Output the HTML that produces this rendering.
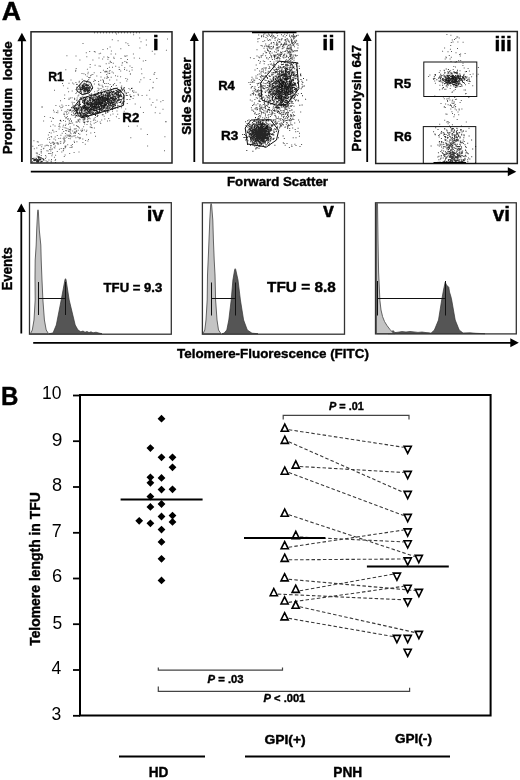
<!DOCTYPE html>
<html><head><meta charset="utf-8"><style>
html,body{margin:0;padding:0;background:#fff}
body{width:520px;height:780px;overflow:hidden;position:relative}
svg{position:absolute;left:0;top:0;display:block;filter:grayscale(1)}
</style></head><body>
<svg width="520" height="780" viewBox="0 0 520 780">
<rect width="520" height="780" fill="#fff"/>
<rect x="31" y="31.8" width="141" height="131.2" fill="none" stroke="#222" stroke-width="1.5"/>
<rect x="203" y="31.5" width="141.5" height="131.5" fill="none" stroke="#222" stroke-width="1.5"/>
<rect x="375.7" y="31.5" width="141.59999999999997" height="132.0" fill="none" stroke="#222" stroke-width="1.5"/>
<path d="M101.0 105.0h1v1h-1zM102.8 98.7h1v1h-1zM94.7 99.3h1v1h-1zM87.6 103.9h1v1h-1zM96.6 110.4h1v1h-1zM87.9 108.4h1v1h-1zM102.6 106.7h1v1h-1zM116.0 93.9h1v1h-1zM95.3 108.6h1v1h-1zM91.3 103.3h1v1h-1zM105.9 99.4h1v1h-1zM108.4 110.4h1v1h-1zM102.5 105.0h1v1h-1zM87.6 105.3h1v1h-1zM99.5 102.3h1v1h-1zM109.2 100.3h1v1h-1zM85.1 114.0h1v1h-1zM93.5 102.9h1v1h-1zM73.5 105.3h1v1h-1zM83.4 107.9h1v1h-1zM77.0 111.9h1v1h-1zM97.2 104.1h1v1h-1zM86.2 114.0h1v1h-1zM103.9 102.4h1v1h-1zM103.2 104.9h1v1h-1zM95.9 99.2h1v1h-1zM69.9 118.6h1v1h-1zM96.6 113.4h1v1h-1zM100.6 105.8h1v1h-1zM101.8 102.9h1v1h-1zM81.1 110.8h1v1h-1zM96.8 111.9h1v1h-1zM86.3 103.8h1v1h-1zM89.7 106.2h1v1h-1zM114.0 98.9h1v1h-1zM91.1 109.5h1v1h-1zM98.9 101.0h1v1h-1zM111.6 99.2h1v1h-1zM92.3 104.4h1v1h-1zM98.8 103.5h1v1h-1zM101.2 101.4h1v1h-1zM99.0 97.7h1v1h-1zM84.6 108.6h1v1h-1zM102.3 105.5h1v1h-1zM115.5 91.9h1v1h-1zM80.3 109.4h1v1h-1zM111.8 100.7h1v1h-1zM99.8 97.7h1v1h-1zM92.3 106.5h1v1h-1zM123.4 88.3h1v1h-1zM111.3 103.1h1v1h-1zM88.6 117.6h1v1h-1zM104.1 110.0h1v1h-1zM106.9 98.7h1v1h-1zM98.8 106.3h1v1h-1zM108.7 99.5h1v1h-1zM99.3 103.2h1v1h-1zM110.8 105.2h1v1h-1zM115.9 90.1h1v1h-1zM93.2 110.0h1v1h-1zM102.5 101.3h1v1h-1zM96.4 110.3h1v1h-1zM101.9 102.6h1v1h-1zM84.1 105.9h1v1h-1zM93.2 106.5h1v1h-1zM98.7 106.4h1v1h-1zM111.3 98.1h1v1h-1zM115.1 98.6h1v1h-1zM82.6 107.2h1v1h-1zM86.7 98.2h1v1h-1zM109.5 102.7h1v1h-1zM76.2 115.3h1v1h-1zM94.4 105.4h1v1h-1zM98.9 103.3h1v1h-1zM117.4 100.2h1v1h-1zM107.9 97.2h1v1h-1zM94.8 101.4h1v1h-1zM95.1 103.6h1v1h-1zM98.7 108.4h1v1h-1zM116.9 89.4h1v1h-1zM96.5 109.3h1v1h-1zM95.2 101.5h1v1h-1zM102.7 96.4h1v1h-1zM100.5 108.0h1v1h-1zM97.4 103.1h1v1h-1zM84.0 103.1h1v1h-1zM99.3 101.2h1v1h-1zM95.9 108.4h1v1h-1zM116.5 101.2h1v1h-1zM107.5 97.5h1v1h-1zM100.3 104.2h1v1h-1zM109.5 101.9h1v1h-1zM94.7 101.7h1v1h-1zM113.7 98.6h1v1h-1zM99.9 102.4h1v1h-1zM106.5 97.5h1v1h-1zM83.1 107.1h1v1h-1zM104.4 101.0h1v1h-1zM78.9 111.2h1v1h-1zM73.6 110.6h1v1h-1zM95.5 102.4h1v1h-1zM90.5 111.4h1v1h-1zM102.4 102.5h1v1h-1zM129.5 94.6h1v1h-1zM91.5 111.4h1v1h-1zM93.1 107.9h1v1h-1zM106.1 110.3h1v1h-1zM104.9 96.8h1v1h-1zM99.1 106.5h1v1h-1zM96.9 102.3h1v1h-1zM111.7 106.2h1v1h-1zM109.2 106.5h1v1h-1zM84.0 100.1h1v1h-1zM97.5 99.1h1v1h-1zM101.5 104.9h1v1h-1zM88.0 110.9h1v1h-1zM104.4 104.1h1v1h-1zM89.1 106.6h1v1h-1zM112.9 99.4h1v1h-1zM103.4 104.1h1v1h-1zM101.0 101.7h1v1h-1zM94.2 109.5h1v1h-1zM95.0 94.3h1v1h-1zM76.0 115.1h1v1h-1zM84.2 104.2h1v1h-1zM106.0 104.4h1v1h-1zM73.0 112.4h1v1h-1zM109.2 94.8h1v1h-1zM78.7 112.8h1v1h-1zM108.0 95.1h1v1h-1zM88.0 103.2h1v1h-1zM107.3 92.5h1v1h-1zM101.6 101.7h1v1h-1zM81.5 112.2h1v1h-1zM117.2 100.2h1v1h-1zM117.8 94.7h1v1h-1zM100.8 106.9h1v1h-1zM96.6 104.0h1v1h-1zM97.9 102.9h1v1h-1zM88.7 109.7h1v1h-1zM115.4 101.1h1v1h-1zM92.7 103.9h1v1h-1zM99.0 101.8h1v1h-1zM89.8 105.9h1v1h-1zM92.3 106.0h1v1h-1zM82.6 105.5h1v1h-1zM117.4 100.1h1v1h-1zM97.4 101.7h1v1h-1zM112.8 99.4h1v1h-1zM98.9 99.2h1v1h-1zM91.9 107.4h1v1h-1zM96.5 105.7h1v1h-1zM92.3 103.7h1v1h-1zM103.3 110.3h1v1h-1zM95.9 105.8h1v1h-1zM99.0 110.9h1v1h-1zM84.3 113.2h1v1h-1zM88.9 104.0h1v1h-1zM120.1 92.6h1v1h-1zM92.3 107.6h1v1h-1zM86.9 108.1h1v1h-1zM104.3 101.0h1v1h-1zM117.2 94.3h1v1h-1zM79.0 102.8h1v1h-1zM97.0 102.7h1v1h-1zM88.6 97.1h1v1h-1zM78.5 112.9h1v1h-1zM108.1 96.0h1v1h-1zM98.6 99.8h1v1h-1zM100.5 101.3h1v1h-1zM91.0 107.4h1v1h-1zM103.4 94.6h1v1h-1zM90.5 98.4h1v1h-1zM96.5 99.1h1v1h-1zM82.9 100.2h1v1h-1zM83.3 104.9h1v1h-1zM119.2 101.9h1v1h-1zM92.0 100.9h1v1h-1zM104.7 103.6h1v1h-1zM97.4 97.3h1v1h-1zM94.9 105.9h1v1h-1zM93.1 103.8h1v1h-1zM107.8 99.1h1v1h-1zM97.1 106.2h1v1h-1zM100.9 110.1h1v1h-1zM100.6 103.1h1v1h-1zM114.9 97.0h1v1h-1zM107.0 95.3h1v1h-1zM105.7 102.8h1v1h-1zM92.6 104.4h1v1h-1zM84.0 112.7h1v1h-1zM111.8 97.5h1v1h-1zM114.8 104.4h1v1h-1zM95.1 95.5h1v1h-1zM106.3 98.6h1v1h-1zM111.2 102.0h1v1h-1zM109.9 96.9h1v1h-1zM110.3 94.8h1v1h-1zM93.9 103.8h1v1h-1zM116.8 89.5h1v1h-1zM84.6 109.3h1v1h-1zM114.6 107.6h1v1h-1zM108.0 104.5h1v1h-1zM109.2 93.8h1v1h-1zM122.1 89.6h1v1h-1zM117.9 93.4h1v1h-1zM87.2 112.2h1v1h-1zM77.6 107.8h1v1h-1zM109.1 95.7h1v1h-1zM88.7 111.1h1v1h-1zM101.2 105.9h1v1h-1zM109.9 96.8h1v1h-1zM77.7 106.5h1v1h-1zM71.2 107.1h1v1h-1zM102.1 98.5h1v1h-1zM97.0 93.6h1v1h-1zM98.1 106.7h1v1h-1zM99.5 99.9h1v1h-1zM90.0 108.7h1v1h-1zM84.0 117.4h1v1h-1zM99.8 107.9h1v1h-1zM86.0 102.9h1v1h-1zM80.8 114.2h1v1h-1zM108.2 104.5h1v1h-1zM98.1 99.9h1v1h-1zM103.6 96.7h1v1h-1zM87.4 107.1h1v1h-1zM89.2 99.6h1v1h-1zM89.8 113.3h1v1h-1zM85.1 97.6h1v1h-1zM100.7 97.2h1v1h-1zM89.8 105.4h1v1h-1zM104.1 99.8h1v1h-1zM104.5 101.4h1v1h-1zM125.8 93.3h1v1h-1zM82.2 108.7h1v1h-1zM112.9 102.4h1v1h-1zM95.5 94.6h1v1h-1zM99.8 102.6h1v1h-1zM80.7 107.0h1v1h-1zM94.4 105.3h1v1h-1zM109.6 99.6h1v1h-1zM97.5 99.4h1v1h-1zM100.0 99.6h1v1h-1zM97.6 107.1h1v1h-1zM115.0 98.0h1v1h-1zM98.7 100.0h1v1h-1zM75.7 121.6h1v1h-1zM95.0 115.0h1v1h-1zM73.1 106.8h1v1h-1zM59.8 120.1h1v1h-1zM97.3 115.0h1v1h-1zM117.9 98.8h1v1h-1zM100.9 103.1h1v1h-1zM85.0 107.6h1v1h-1zM87.4 105.1h1v1h-1zM113.8 96.0h1v1h-1zM101.1 99.6h1v1h-1zM101.8 105.2h1v1h-1zM98.7 101.2h1v1h-1zM99.8 100.6h1v1h-1zM108.2 93.7h1v1h-1zM106.8 99.5h1v1h-1zM101.3 97.9h1v1h-1zM86.7 107.1h1v1h-1zM108.0 104.0h1v1h-1zM92.0 107.4h1v1h-1zM114.5 98.9h1v1h-1zM84.7 110.3h1v1h-1zM98.4 103.4h1v1h-1zM99.7 102.0h1v1h-1zM82.9 108.0h1v1h-1zM122.7 96.7h1v1h-1zM116.6 90.9h1v1h-1zM96.3 110.1h1v1h-1zM109.7 98.7h1v1h-1zM103.6 97.7h1v1h-1zM66.5 113.8h1v1h-1zM102.1 98.6h1v1h-1zM99.5 103.4h1v1h-1zM99.9 99.3h1v1h-1zM88.3 112.4h1v1h-1zM95.4 100.8h1v1h-1zM94.2 94.6h1v1h-1zM113.7 93.6h1v1h-1zM101.0 93.0h1v1h-1zM99.9 102.4h1v1h-1zM120.8 98.9h1v1h-1zM94.1 107.8h1v1h-1zM93.0 99.3h1v1h-1zM76.1 108.7h1v1h-1zM122.4 101.5h1v1h-1zM112.6 98.9h1v1h-1zM111.5 97.9h1v1h-1zM110.0 103.2h1v1h-1zM105.2 111.5h1v1h-1zM104.7 106.5h1v1h-1zM97.1 104.3h1v1h-1zM98.0 104.9h1v1h-1zM101.7 104.6h1v1h-1zM118.0 92.5h1v1h-1zM105.3 95.6h1v1h-1zM99.4 103.0h1v1h-1zM91.3 101.7h1v1h-1zM92.0 105.5h1v1h-1zM120.2 94.8h1v1h-1zM110.0 109.1h1v1h-1zM99.5 98.8h1v1h-1zM95.5 103.8h1v1h-1zM85.9 107.5h1v1h-1zM99.9 104.5h1v1h-1zM112.6 102.2h1v1h-1zM94.3 102.6h1v1h-1zM95.9 100.5h1v1h-1zM94.7 97.2h1v1h-1zM99.9 98.3h1v1h-1zM80.9 112.6h1v1h-1zM97.1 103.9h1v1h-1zM87.7 102.9h1v1h-1zM110.5 96.6h1v1h-1zM90.4 106.5h1v1h-1zM108.0 101.5h1v1h-1zM118.1 92.5h1v1h-1zM95.7 103.1h1v1h-1zM89.6 98.5h1v1h-1zM100.6 97.0h1v1h-1zM102.5 108.8h1v1h-1zM84.1 99.0h1v1h-1zM105.2 98.9h1v1h-1zM125.6 93.2h1v1h-1zM96.2 102.3h1v1h-1zM96.2 100.4h1v1h-1zM86.8 107.5h1v1h-1zM104.0 100.9h1v1h-1zM84.3 108.5h1v1h-1zM83.2 100.8h1v1h-1zM115.8 95.5h1v1h-1zM87.3 103.7h1v1h-1zM112.7 94.9h1v1h-1zM119.4 95.7h1v1h-1zM104.3 103.7h1v1h-1zM108.3 103.2h1v1h-1zM123.7 90.7h1v1h-1zM99.0 107.1h1v1h-1zM94.4 110.1h1v1h-1zM84.8 113.8h1v1h-1zM102.7 107.7h1v1h-1zM118.3 94.5h1v1h-1zM111.7 97.0h1v1h-1zM89.5 110.5h1v1h-1zM87.1 101.5h1v1h-1zM94.0 105.9h1v1h-1zM102.8 99.0h1v1h-1zM96.8 102.1h1v1h-1zM99.9 94.6h1v1h-1zM102.3 97.5h1v1h-1zM96.2 103.9h1v1h-1zM100.9 106.2h1v1h-1zM104.1 105.3h1v1h-1zM98.8 102.6h1v1h-1zM106.0 99.2h1v1h-1zM122.1 89.8h1v1h-1zM108.0 101.1h1v1h-1zM100.3 101.3h1v1h-1zM79.8 113.4h1v1h-1zM107.6 107.4h1v1h-1zM75.6 112.2h1v1h-1zM80.0 103.8h1v1h-1zM109.3 94.8h1v1h-1zM106.5 93.3h1v1h-1zM96.2 98.6h1v1h-1zM80.6 116.2h1v1h-1zM95.7 105.3h1v1h-1zM89.1 100.0h1v1h-1zM109.0 101.8h1v1h-1zM130.2 96.0h1v1h-1zM102.1 100.0h1v1h-1zM89.2 103.8h1v1h-1zM84.8 107.1h1v1h-1zM99.7 103.9h1v1h-1zM98.8 105.9h1v1h-1zM87.4 112.9h1v1h-1zM103.4 106.6h1v1h-1zM87.5 112.9h1v1h-1zM116.1 102.2h1v1h-1zM114.3 99.7h1v1h-1zM111.2 91.1h1v1h-1zM93.9 104.4h1v1h-1zM106.9 101.1h1v1h-1zM97.7 101.7h1v1h-1zM96.6 108.0h1v1h-1zM95.2 102.8h1v1h-1zM82.3 105.5h1v1h-1zM84.2 115.4h1v1h-1zM111.0 101.1h1v1h-1zM98.0 104.3h1v1h-1zM104.2 105.0h1v1h-1zM114.2 101.6h1v1h-1zM78.8 112.6h1v1h-1zM86.3 96.9h1v1h-1zM101.1 99.0h1v1h-1zM104.2 98.7h1v1h-1zM93.7 100.6h1v1h-1zM113.2 98.1h1v1h-1zM104.5 106.1h1v1h-1zM84.0 106.7h1v1h-1zM86.6 102.8h1v1h-1zM113.3 106.3h1v1h-1zM105.1 98.4h1v1h-1zM74.3 107.3h1v1h-1zM117.2 96.6h1v1h-1zM108.2 101.1h1v1h-1zM115.7 93.0h1v1h-1zM96.4 107.5h1v1h-1zM95.5 102.1h1v1h-1zM84.4 104.6h1v1h-1zM132.0 90.4h1v1h-1zM99.0 106.4h1v1h-1zM118.9 92.0h1v1h-1zM92.4 107.1h1v1h-1zM101.9 101.3h1v1h-1zM83.5 122.0h1v1h-1zM94.1 101.7h1v1h-1zM114.5 102.9h1v1h-1zM84.2 108.6h1v1h-1zM113.2 96.6h1v1h-1zM105.4 103.6h1v1h-1zM88.3 111.3h1v1h-1zM95.7 110.0h1v1h-1zM94.8 106.1h1v1h-1zM98.4 100.4h1v1h-1zM92.4 103.1h1v1h-1zM90.4 108.7h1v1h-1zM97.1 106.3h1v1h-1zM89.3 113.1h1v1h-1zM84.5 110.7h1v1h-1zM101.1 106.9h1v1h-1zM113.4 103.9h1v1h-1zM81.1 110.9h1v1h-1zM97.7 96.7h1v1h-1zM90.0 101.2h1v1h-1zM85.5 101.8h1v1h-1zM113.2 104.4h1v1h-1zM92.2 101.8h1v1h-1zM120.7 99.7h1v1h-1zM91.2 108.7h1v1h-1zM107.5 107.2h1v1h-1zM98.7 107.6h1v1h-1zM90.4 105.9h1v1h-1zM107.0 98.7h1v1h-1zM98.2 103.6h1v1h-1zM107.8 100.1h1v1h-1zM98.6 100.7h1v1h-1zM86.4 107.9h1v1h-1zM101.3 109.3h1v1h-1zM98.0 95.6h1v1h-1zM112.4 98.7h1v1h-1zM87.2 103.6h1v1h-1zM99.8 103.4h1v1h-1zM79.8 114.5h1v1h-1zM108.1 99.0h1v1h-1zM87.7 111.0h1v1h-1zM74.9 105.4h1v1h-1zM101.0 107.1h1v1h-1zM112.9 94.6h1v1h-1zM81.9 112.6h1v1h-1zM86.7 108.7h1v1h-1zM86.6 96.2h1v1h-1zM84.7 105.3h1v1h-1zM105.1 101.4h1v1h-1zM92.3 112.6h1v1h-1zM91.4 107.3h1v1h-1zM107.7 100.6h1v1h-1zM88.3 100.8h1v1h-1zM107.7 105.9h1v1h-1zM90.7 114.4h1v1h-1zM84.9 108.7h1v1h-1zM76.7 110.9h1v1h-1zM120.7 86.8h1v1h-1zM97.4 107.6h1v1h-1zM107.3 111.8h1v1h-1zM100.7 105.4h1v1h-1zM104.0 106.6h1v1h-1zM101.5 104.4h1v1h-1zM122.3 89.0h1v1h-1zM89.1 113.0h1v1h-1zM78.6 105.6h1v1h-1zM87.0 106.8h1v1h-1zM83.7 110.3h1v1h-1zM110.7 102.2h1v1h-1zM110.9 100.0h1v1h-1zM88.6 108.9h1v1h-1zM81.4 106.6h1v1h-1zM93.5 99.3h1v1h-1zM117.5 95.7h1v1h-1zM63.6 114.0h1v1h-1zM104.5 94.7h1v1h-1zM84.5 103.0h1v1h-1zM112.3 95.3h1v1h-1zM83.6 100.7h1v1h-1zM94.3 98.7h1v1h-1zM78.6 103.8h1v1h-1zM88.1 108.2h1v1h-1zM118.0 97.1h1v1h-1zM113.4 106.2h1v1h-1zM92.6 98.7h1v1h-1zM88.0 104.3h1v1h-1zM77.7 115.6h1v1h-1zM94.7 103.6h1v1h-1zM99.1 101.4h1v1h-1zM101.6 109.6h1v1h-1zM98.3 101.7h1v1h-1zM84.1 103.7h1v1h-1zM97.1 97.7h1v1h-1zM100.0 104.0h1v1h-1zM116.6 97.2h1v1h-1zM121.2 87.7h1v1h-1zM96.7 99.4h1v1h-1zM91.2 108.5h1v1h-1zM100.1 105.1h1v1h-1zM91.4 103.1h1v1h-1zM91.7 108.7h1v1h-1zM100.2 105.0h1v1h-1zM84.1 100.8h1v1h-1zM107.1 98.2h1v1h-1zM99.4 104.6h1v1h-1zM102.2 99.0h1v1h-1zM94.3 95.1h1v1h-1zM90.5 105.1h1v1h-1zM89.3 110.2h1v1h-1zM99.5 109.9h1v1h-1zM89.7 96.7h1v1h-1zM107.0 111.5h1v1h-1zM98.2 98.1h1v1h-1zM84.5 113.1h1v1h-1zM102.8 107.0h1v1h-1zM84.7 113.1h1v1h-1zM92.5 106.2h1v1h-1zM94.5 99.5h1v1h-1zM75.0 115.4h1v1h-1zM100.0 99.3h1v1h-1zM97.9 91.9h1v1h-1zM102.5 114.3h1v1h-1zM95.8 107.4h1v1h-1zM98.2 111.5h1v1h-1zM86.3 103.9h1v1h-1zM98.9 109.6h1v1h-1zM95.6 111.5h1v1h-1zM103.6 108.1h1v1h-1zM84.9 108.5h1v1h-1zM101.1 96.6h1v1h-1zM101.5 101.1h1v1h-1zM94.8 94.6h1v1h-1zM91.8 98.1h1v1h-1zM107.1 100.1h1v1h-1zM77.6 107.1h1v1h-1zM105.5 99.5h1v1h-1zM102.9 100.8h1v1h-1zM106.6 108.6h1v1h-1zM106.8 105.6h1v1h-1zM91.7 105.6h1v1h-1zM98.7 108.5h1v1h-1zM106.7 96.2h1v1h-1zM104.9 99.0h1v1h-1zM104.0 105.0h1v1h-1zM79.1 105.3h1v1h-1zM106.3 98.7h1v1h-1zM112.6 91.4h1v1h-1zM112.8 97.9h1v1h-1zM105.5 107.7h1v1h-1zM79.3 107.4h1v1h-1zM112.2 98.6h1v1h-1zM96.7 99.8h1v1h-1zM66.5 110.8h1v1h-1zM102.8 95.8h1v1h-1zM83.6 115.7h1v1h-1zM87.5 118.3h1v1h-1zM92.8 107.6h1v1h-1zM114.8 93.3h1v1h-1zM96.5 107.1h1v1h-1zM102.9 99.8h1v1h-1zM123.1 96.8h1v1h-1zM120.4 95.6h1v1h-1zM99.1 104.1h1v1h-1zM97.9 106.1h1v1h-1zM83.3 106.6h1v1h-1zM90.7 104.4h1v1h-1zM102.6 93.6h1v1h-1zM104.3 98.8h1v1h-1zM99.1 96.4h1v1h-1zM112.2 96.9h1v1h-1zM88.8 102.7h1v1h-1zM99.5 103.2h1v1h-1zM109.9 100.6h1v1h-1zM105.1 94.0h1v1h-1zM112.1 93.9h1v1h-1zM103.5 96.8h1v1h-1zM97.3 107.0h1v1h-1zM107.2 107.3h1v1h-1zM88.8 110.9h1v1h-1zM78.9 109.4h1v1h-1zM109.6 105.3h1v1h-1zM96.9 96.9h1v1h-1zM106.2 106.8h1v1h-1zM77.7 108.5h1v1h-1zM91.1 93.5h1v1h-1zM96.7 115.9h1v1h-1zM91.7 113.0h1v1h-1zM70.2 109.9h1v1h-1zM96.1 104.9h1v1h-1zM110.9 97.1h1v1h-1zM104.9 101.0h1v1h-1zM90.1 99.8h1v1h-1zM98.7 99.9h1v1h-1zM110.2 100.5h1v1h-1zM65.8 117.3h1v1h-1zM100.3 107.8h1v1h-1zM106.9 100.1h1v1h-1zM112.2 108.2h1v1h-1zM120.2 91.1h1v1h-1zM114.6 97.8h1v1h-1zM100.9 93.5h1v1h-1zM101.8 96.1h1v1h-1zM111.9 103.7h1v1h-1zM91.8 101.6h1v1h-1zM100.3 104.8h1v1h-1zM111.2 97.7h1v1h-1zM122.9 88.5h1v1h-1zM97.5 101.9h1v1h-1zM98.6 100.7h1v1h-1zM101.7 99.6h1v1h-1zM118.0 98.6h1v1h-1zM100.6 105.2h1v1h-1zM117.5 92.8h1v1h-1zM86.5 103.9h1v1h-1zM98.1 104.5h1v1h-1zM97.4 103.1h1v1h-1zM111.5 102.5h1v1h-1zM117.3 107.6h1v1h-1zM82.4 113.4h1v1h-1zM88.5 107.0h1v1h-1zM103.9 100.1h1v1h-1zM90.4 102.5h1v1h-1zM79.5 106.7h1v1h-1zM111.4 93.3h1v1h-1zM105.6 98.5h1v1h-1zM105.5 98.3h1v1h-1zM95.2 107.8h1v1h-1zM112.3 95.7h1v1h-1zM96.7 102.9h1v1h-1zM111.8 92.2h1v1h-1zM91.2 113.5h1v1h-1zM90.1 108.8h1v1h-1zM105.4 108.4h1v1h-1zM92.5 109.2h1v1h-1zM110.8 104.9h1v1h-1zM102.9 100.2h1v1h-1zM89.6 110.0h1v1h-1zM105.2 112.7h1v1h-1zM93.7 99.5h1v1h-1zM113.3 102.4h1v1h-1zM94.8 112.3h1v1h-1zM95.2 106.4h1v1h-1zM116.4 99.4h1v1h-1zM130.0 96.2h1v1h-1zM124.0 89.8h1v1h-1zM101.4 103.8h1v1h-1zM101.3 97.9h1v1h-1zM118.1 92.1h1v1h-1zM97.4 100.7h1v1h-1zM87.5 106.9h1v1h-1zM101.7 102.5h1v1h-1zM106.4 102.0h1v1h-1zM87.3 101.0h1v1h-1zM82.6 118.7h1v1h-1zM83.9 114.4h1v1h-1zM109.5 102.0h1v1h-1zM89.9 104.9h1v1h-1zM98.1 102.9h1v1h-1zM103.5 103.6h1v1h-1zM108.4 101.0h1v1h-1zM93.1 97.5h1v1h-1zM107.4 102.9h1v1h-1zM93.6 118.6h1v1h-1zM92.5 97.0h1v1h-1zM88.8 111.7h1v1h-1zM114.8 98.3h1v1h-1zM99.5 102.2h1v1h-1zM93.0 111.7h1v1h-1zM93.7 99.6h1v1h-1zM97.5 104.3h1v1h-1zM111.1 104.8h1v1h-1zM79.7 109.8h1v1h-1zM86.3 106.1h1v1h-1zM95.5 104.9h1v1h-1zM131.0 87.9h1v1h-1zM114.5 103.9h1v1h-1zM97.1 99.4h1v1h-1zM110.3 102.4h1v1h-1zM123.7 87.1h1v1h-1zM98.2 106.4h1v1h-1zM95.2 103.9h1v1h-1zM111.0 86.0h1v1h-1zM106.2 100.0h1v1h-1zM106.7 94.8h1v1h-1zM92.9 103.3h1v1h-1zM126.6 98.9h1v1h-1zM119.6 89.4h1v1h-1zM105.4 95.4h1v1h-1zM110.9 104.8h1v1h-1zM74.8 113.2h1v1h-1zM110.5 105.4h1v1h-1zM98.1 104.8h1v1h-1zM104.0 96.8h1v1h-1zM108.4 98.8h1v1h-1zM97.7 109.1h1v1h-1zM80.4 114.8h1v1h-1zM104.6 100.6h1v1h-1zM90.8 106.4h1v1h-1zM95.7 103.7h1v1h-1zM91.5 103.2h1v1h-1zM98.8 112.0h1v1h-1zM71.1 114.2h1v1h-1zM113.4 91.8h1v1h-1zM102.4 99.3h1v1h-1zM115.1 99.8h1v1h-1zM125.8 95.1h1v1h-1zM100.1 101.8h1v1h-1zM76.4 108.9h1v1h-1zM88.8 107.1h1v1h-1zM82.2 101.9h1v1h-1zM91.6 99.8h1v1h-1zM102.3 105.3h1v1h-1zM74.2 110.7h1v1h-1zM104.9 102.3h1v1h-1zM83.1 115.0h1v1h-1zM104.8 103.6h1v1h-1zM98.7 103.1h1v1h-1zM99.5 112.6h1v1h-1zM100.2 105.5h1v1h-1zM92.7 103.8h1v1h-1zM93.5 108.5h1v1h-1zM79.6 112.6h1v1h-1zM98.2 99.2h1v1h-1zM123.2 93.5h1v1h-1zM124.5 91.8h1v1h-1zM113.4 87.9h1v1h-1zM108.6 98.2h1v1h-1zM91.1 104.8h1v1h-1zM117.3 93.4h1v1h-1zM96.6 96.2h1v1h-1zM98.6 101.4h1v1h-1zM96.3 103.8h1v1h-1zM101.3 102.4h1v1h-1zM92.7 100.2h1v1h-1zM100.0 105.5h1v1h-1zM84.5 103.1h1v1h-1zM95.0 103.5h1v1h-1zM130.7 96.2h1v1h-1zM98.0 100.1h1v1h-1zM96.2 101.7h1v1h-1zM108.4 104.1h1v1h-1zM108.2 97.4h1v1h-1zM85.6 106.9h1v1h-1zM97.8 104.4h1v1h-1zM113.2 102.1h1v1h-1zM99.8 92.3h1v1h-1zM100.2 98.6h1v1h-1zM117.8 90.6h1v1h-1zM89.8 101.6h1v1h-1zM99.7 98.7h1v1h-1zM92.1 101.8h1v1h-1zM119.1 96.2h1v1h-1zM74.1 108.8h1v1h-1zM91.8 106.4h1v1h-1zM94.0 106.8h1v1h-1zM107.1 96.2h1v1h-1zM107.8 100.0h1v1h-1zM120.1 102.0h1v1h-1zM80.8 111.7h1v1h-1zM108.4 96.2h1v1h-1zM96.2 103.7h1v1h-1zM90.2 102.2h1v1h-1zM107.2 100.9h1v1h-1zM89.9 110.6h1v1h-1zM72.7 109.7h1v1h-1zM95.0 103.5h1v1h-1zM83.0 114.5h1v1h-1zM91.1 103.8h1v1h-1zM105.0 101.4h1v1h-1zM102.3 96.8h1v1h-1zM118.5 91.2h1v1h-1zM96.7 101.5h1v1h-1zM84.2 118.7h1v1h-1zM89.9 104.7h1v1h-1zM87.7 105.1h1v1h-1zM83.9 106.5h1v1h-1zM105.2 99.7h1v1h-1zM93.0 108.3h1v1h-1zM75.5 113.2h1v1h-1zM112.0 107.0h1v1h-1zM98.9 103.9h1v1h-1zM106.7 106.3h1v1h-1zM101.8 103.0h1v1h-1zM108.9 101.7h1v1h-1zM98.2 96.7h1v1h-1zM115.3 95.8h1v1h-1zM105.2 100.1h1v1h-1zM104.5 99.6h1v1h-1zM101.7 92.0h1v1h-1zM83.2 113.3h1v1h-1zM97.3 101.8h1v1h-1zM96.1 102.1h1v1h-1zM102.2 100.5h1v1h-1zM82.6 108.5h1v1h-1zM121.1 95.8h1v1h-1zM99.3 97.0h1v1h-1zM83.4 105.0h1v1h-1zM79.1 112.3h1v1h-1zM96.7 104.5h1v1h-1zM98.3 101.5h1v1h-1zM90.1 103.9h1v1h-1zM99.8 98.8h1v1h-1zM91.9 105.5h1v1h-1zM108.8 104.3h1v1h-1zM89.3 102.0h1v1h-1zM101.9 108.6h1v1h-1zM113.6 100.8h1v1h-1zM131.5 87.7h1v1h-1zM88.6 110.6h1v1h-1zM91.9 99.1h1v1h-1zM86.8 100.0h1v1h-1zM107.8 93.5h1v1h-1zM85.0 106.7h1v1h-1zM93.4 103.7h1v1h-1zM98.8 100.6h1v1h-1zM87.9 107.8h1v1h-1zM84.7 99.0h1v1h-1zM94.8 106.8h1v1h-1zM71.5 107.6h1v1h-1zM80.9 107.2h1v1h-1zM94.2 103.0h1v1h-1zM100.0 97.2h1v1h-1zM95.5 98.1h1v1h-1zM76.2 107.6h1v1h-1zM94.2 104.8h1v1h-1zM110.9 100.8h1v1h-1zM107.8 101.9h1v1h-1zM97.4 99.0h1v1h-1zM87.6 103.9h1v1h-1zM106.6 97.3h1v1h-1zM92.7 112.9h1v1h-1zM80.7 99.0h1v1h-1zM104.4 97.7h1v1h-1zM121.5 103.1h1v1h-1zM117.3 91.6h1v1h-1zM102.0 102.9h1v1h-1zM98.3 106.1h1v1h-1zM101.9 100.9h1v1h-1zM98.0 95.4h1v1h-1zM79.7 103.9h1v1h-1zM93.9 105.3h1v1h-1zM111.0 90.8h1v1h-1zM108.7 91.8h1v1h-1zM108.8 108.1h1v1h-1zM104.0 100.1h1v1h-1zM95.3 98.8h1v1h-1zM109.3 93.4h1v1h-1zM81.0 98.6h1v1h-1zM102.6 106.6h1v1h-1zM116.0 98.1h1v1h-1zM113.1 100.6h1v1h-1zM94.5 104.0h1v1h-1zM84.7 100.2h1v1h-1zM86.9 110.4h1v1h-1zM93.1 102.6h1v1h-1zM119.8 90.3h1v1h-1zM84.4 103.9h1v1h-1zM123.6 100.9h1v1h-1zM112.3 91.6h1v1h-1zM85.4 115.1h1v1h-1zM95.6 103.2h1v1h-1zM116.9 94.4h1v1h-1zM101.6 105.0h1v1h-1zM87.1 107.2h1v1h-1zM110.0 103.8h1v1h-1zM105.2 98.1h1v1h-1zM121.4 103.7h1v1h-1zM103.3 105.7h1v1h-1zM93.5 109.2h1v1h-1zM121.2 96.0h1v1h-1zM105.3 96.4h1v1h-1zM89.7 108.9h1v1h-1zM81.2 109.2h1v1h-1zM115.4 93.5h1v1h-1zM80.2 112.9h1v1h-1zM84.6 105.4h1v1h-1zM90.5 97.9h1v1h-1zM77.1 110.1h1v1h-1zM91.4 103.0h1v1h-1zM112.5 99.7h1v1h-1zM99.6 108.0h1v1h-1zM100.9 94.1h1v1h-1zM90.2 105.0h1v1h-1zM120.1 100.9h1v1h-1zM87.3 113.3h1v1h-1zM119.7 93.9h1v1h-1zM88.0 116.0h1v1h-1zM92.6 105.9h1v1h-1zM82.8 106.1h1v1h-1zM112.3 96.2h1v1h-1zM75.4 107.3h1v1h-1zM118.4 90.3h1v1h-1zM90.3 114.6h1v1h-1zM99.3 102.6h1v1h-1zM80.8 109.7h1v1h-1zM112.0 104.3h1v1h-1zM91.8 106.3h1v1h-1zM93.3 103.0h1v1h-1zM106.6 104.9h1v1h-1zM112.1 103.6h1v1h-1zM94.2 100.3h1v1h-1zM87.1 107.8h1v1h-1zM105.2 98.6h1v1h-1zM80.6 108.5h1v1h-1zM117.7 93.6h1v1h-1zM76.4 104.4h1v1h-1zM119.6 99.1h1v1h-1zM104.7 100.0h1v1h-1zM120.7 96.2h1v1h-1zM99.8 103.8h1v1h-1zM114.8 96.5h1v1h-1zM106.6 100.1h1v1h-1zM104.8 104.4h1v1h-1zM119.1 99.6h1v1h-1zM97.6 103.8h1v1h-1zM96.0 108.3h1v1h-1zM86.2 109.1h1v1h-1zM93.7 106.3h1v1h-1zM105.6 107.8h1v1h-1zM78.3 104.7h1v1h-1zM106.7 102.6h1v1h-1zM109.4 92.3h1v1h-1zM82.9 99.7h1v1h-1zM109.3 95.8h1v1h-1zM106.0 103.8h1v1h-1zM98.7 102.7h1v1h-1zM112.4 106.8h1v1h-1zM92.5 109.9h1v1h-1zM103.4 99.2h1v1h-1zM118.5 96.4h1v1h-1zM93.7 102.2h1v1h-1zM100.3 109.0h1v1h-1zM99.4 103.7h1v1h-1zM118.5 91.3h1v1h-1zM103.6 107.3h1v1h-1zM96.5 104.4h1v1h-1zM108.5 107.8h1v1h-1zM84.7 115.0h1v1h-1zM91.7 111.2h1v1h-1zM101.4 111.3h1v1h-1zM96.7 103.2h1v1h-1zM109.7 105.1h1v1h-1zM98.3 103.8h1v1h-1zM105.1 100.3h1v1h-1zM97.5 103.4h1v1h-1zM103.5 97.4h1v1h-1zM102.3 94.4h1v1h-1zM99.4 104.5h1v1h-1zM109.4 91.2h1v1h-1zM82.8 116.0h1v1h-1zM92.1 103.2h1v1h-1zM98.1 103.4h1v1h-1zM115.1 93.0h1v1h-1zM93.8 108.2h1v1h-1zM99.0 95.2h1v1h-1zM96.7 102.1h1v1h-1zM95.5 112.5h1v1h-1zM85.5 105.6h1v1h-1zM82.0 100.2h1v1h-1zM109.1 99.4h1v1h-1zM100.2 111.7h1v1h-1zM94.6 113.9h1v1h-1zM109.2 101.5h1v1h-1zM81.4 109.9h1v1h-1zM95.4 101.5h1v1h-1zM81.6 114.9h1v1h-1zM115.0 105.0h1v1h-1zM101.0 102.3h1v1h-1zM97.5 107.5h1v1h-1zM104.8 97.0h1v1h-1zM112.6 104.4h1v1h-1zM105.9 104.1h1v1h-1zM117.5 95.6h1v1h-1zM85.7 109.1h1v1h-1zM88.8 111.2h1v1h-1zM75.9 109.9h1v1h-1zM115.2 93.6h1v1h-1zM83.9 101.7h1v1h-1zM99.1 106.5h1v1h-1zM110.7 98.0h1v1h-1zM94.8 110.1h1v1h-1zM101.6 106.7h1v1h-1zM82.9 106.8h1v1h-1zM110.8 96.9h1v1h-1zM102.3 110.4h1v1h-1zM112.1 96.9h1v1h-1zM89.8 108.5h1v1h-1zM98.0 104.9h1v1h-1zM106.7 108.3h1v1h-1zM99.4 95.4h1v1h-1zM85.7 105.4h1v1h-1zM98.7 95.9h1v1h-1zM92.4 105.7h1v1h-1zM106.3 102.4h1v1h-1zM91.8 111.4h1v1h-1zM86.0 112.4h1v1h-1zM111.0 97.4h1v1h-1zM99.8 108.2h1v1h-1zM113.5 100.0h1v1h-1zM106.5 108.2h1v1h-1zM79.9 114.7h1v1h-1zM105.1 105.0h1v1h-1zM116.0 92.3h1v1h-1zM104.9 101.2h1v1h-1zM123.0 95.3h1v1h-1zM95.6 104.1h1v1h-1zM101.2 107.9h1v1h-1zM107.4 100.7h1v1h-1zM120.7 106.1h1v1h-1zM105.5 99.8h1v1h-1zM114.7 98.2h1v1h-1zM88.0 100.6h1v1h-1zM101.0 100.0h1v1h-1zM101.3 102.7h1v1h-1zM81.9 115.7h1v1h-1zM84.4 107.0h1v1h-1zM107.7 103.5h1v1h-1zM85.6 98.8h1v1h-1zM118.8 105.7h1v1h-1zM117.4 105.1h1v1h-1zM107.3 94.7h1v1h-1zM112.0 108.9h1v1h-1zM79.8 105.9h1v1h-1zM97.0 111.1h1v1h-1zM89.5 97.3h1v1h-1zM86.5 107.0h1v1h-1zM98.8 101.8h1v1h-1zM91.0 101.8h1v1h-1zM75.5 107.9h1v1h-1zM97.7 96.0h1v1h-1zM100.5 105.2h1v1h-1zM78.2 105.1h1v1h-1zM112.4 103.7h1v1h-1zM90.1 100.0h1v1h-1zM118.1 94.1h1v1h-1zM79.5 104.1h1v1h-1zM103.2 94.9h1v1h-1zM85.1 107.0h1v1h-1zM97.5 106.2h1v1h-1zM91.4 101.7h1v1h-1zM107.4 91.6h1v1h-1zM99.1 106.1h1v1h-1zM118.6 95.5h1v1h-1zM105.9 91.9h1v1h-1zM92.2 101.5h1v1h-1zM96.3 94.3h1v1h-1zM78.9 101.7h1v1h-1zM120.7 91.5h1v1h-1zM119.3 90.1h1v1h-1zM118.5 99.8h1v1h-1zM94.7 104.0h1v1h-1zM107.9 99.3h1v1h-1zM112.5 96.2h1v1h-1zM103.7 98.8h1v1h-1zM116.3 92.2h1v1h-1zM101.8 96.9h1v1h-1zM113.2 96.8h1v1h-1zM102.2 102.2h1v1h-1zM90.7 104.2h1v1h-1zM111.8 97.2h1v1h-1zM99.6 101.8h1v1h-1zM90.0 108.0h1v1h-1zM98.0 96.0h1v1h-1zM106.3 101.9h1v1h-1zM112.7 102.1h1v1h-1zM81.4 108.6h1v1h-1zM107.7 109.3h1v1h-1zM120.7 94.4h1v1h-1zM110.2 92.1h1v1h-1zM82.4 98.8h1v1h-1zM90.1 105.1h1v1h-1zM100.9 110.0h1v1h-1zM109.0 102.2h1v1h-1zM107.5 98.6h1v1h-1zM108.3 99.5h1v1h-1zM110.8 101.7h1v1h-1zM97.6 112.9h1v1h-1zM95.2 108.0h1v1h-1zM82.1 112.4h1v1h-1zM91.5 104.2h1v1h-1zM87.0 109.5h1v1h-1zM106.8 95.5h1v1h-1zM84.5 104.6h1v1h-1zM85.8 111.7h1v1h-1zM77.3 109.0h1v1h-1zM100.6 106.1h1v1h-1zM96.0 104.5h1v1h-1zM94.5 105.5h1v1h-1zM79.1 100.8h1v1h-1zM104.2 106.9h1v1h-1zM112.4 102.3h1v1h-1zM93.6 105.9h1v1h-1zM86.9 113.3h1v1h-1zM99.4 100.2h1v1h-1zM88.1 108.8h1v1h-1zM100.9 102.4h1v1h-1zM93.8 107.8h1v1h-1zM119.3 106.0h1v1h-1zM78.7 105.5h1v1h-1zM102.5 97.8h1v1h-1zM80.8 116.3h1v1h-1zM93.2 103.0h1v1h-1zM97.9 112.1h1v1h-1zM85.0 104.7h1v1h-1zM107.2 102.5h1v1h-1zM89.5 109.9h1v1h-1zM102.4 103.0h1v1h-1zM113.2 90.8h1v1h-1zM99.3 95.1h1v1h-1zM99.2 109.3h1v1h-1zM80.2 99.2h1v1h-1zM85.9 101.5h1v1h-1zM118.4 98.9h1v1h-1zM93.5 95.8h1v1h-1zM99.3 111.8h1v1h-1zM84.8 105.0h1v1h-1zM75.9 109.9h1v1h-1zM83.9 108.2h1v1h-1zM120.0 90.4h1v1h-1zM100.3 102.0h1v1h-1zM110.6 96.8h1v1h-1zM112.6 96.1h1v1h-1zM78.5 107.8h1v1h-1zM93.2 108.1h1v1h-1zM82.0 101.5h1v1h-1zM99.9 99.3h1v1h-1zM94.5 102.9h1v1h-1zM81.2 108.6h1v1h-1zM114.7 106.7h1v1h-1zM122.7 97.8h1v1h-1zM104.1 100.0h1v1h-1zM77.6 107.1h1v1h-1zM83.6 117.3h1v1h-1zM102.5 106.1h1v1h-1zM92.7 104.1h1v1h-1zM95.3 107.4h1v1h-1zM120.5 101.3h1v1h-1zM101.6 109.2h1v1h-1zM104.9 110.2h1v1h-1zM94.0 99.3h1v1h-1zM87.9 110.7h1v1h-1zM93.0 109.0h1v1h-1zM110.2 90.2h1v1h-1zM109.0 92.7h1v1h-1zM92.8 109.3h1v1h-1zM102.4 101.7h1v1h-1zM93.7 113.5h1v1h-1zM90.7 109.3h1v1h-1zM111.4 91.3h1v1h-1zM103.5 104.1h1v1h-1zM76.1 108.0h1v1h-1zM118.5 97.7h1v1h-1zM85.0 98.6h1v1h-1zM114.4 96.3h1v1h-1zM85.6 108.5h1v1h-1zM118.8 91.5h1v1h-1zM98.0 111.6h1v1h-1zM90.8 102.2h1v1h-1zM83.6 105.3h1v1h-1zM101.8 100.1h1v1h-1zM98.2 98.6h1v1h-1zM102.7 106.7h1v1h-1zM102.3 97.6h1v1h-1zM106.6 106.8h1v1h-1zM94.6 101.2h1v1h-1zM89.0 107.0h1v1h-1zM89.8 110.8h1v1h-1zM81.4 108.2h1v1h-1zM98.6 102.3h1v1h-1zM118.1 98.7h1v1h-1zM90.9 95.8h1v1h-1zM101.5 104.8h1v1h-1zM111.2 108.0h1v1h-1zM96.2 110.5h1v1h-1zM90.6 97.4h1v1h-1zM119.4 95.0h1v1h-1zM109.2 99.3h1v1h-1zM88.7 98.4h1v1h-1zM108.5 104.9h1v1h-1zM109.9 100.3h1v1h-1zM107.1 100.8h1v1h-1zM105.4 97.4h1v1h-1zM93.1 100.7h1v1h-1zM92.7 104.5h1v1h-1zM81.7 106.3h1v1h-1zM88.6 108.6h1v1h-1zM116.5 94.2h1v1h-1zM109.3 95.3h1v1h-1zM101.0 96.1h1v1h-1zM81.7 116.6h1v1h-1zM92.9 111.8h1v1h-1zM115.2 102.5h1v1h-1zM103.9 105.3h1v1h-1zM95.2 105.5h1v1h-1zM97.9 95.5h1v1h-1zM94.6 101.7h1v1h-1zM95.1 113.8h1v1h-1zM102.7 98.9h1v1h-1zM95.8 100.5h1v1h-1zM114.0 96.3h1v1h-1zM103.9 99.0h1v1h-1zM93.8 110.6h1v1h-1zM114.5 92.6h1v1h-1zM111.8 98.0h1v1h-1zM105.0 94.9h1v1h-1zM82.8 112.8h1v1h-1zM90.8 109.8h1v1h-1zM86.4 115.1h1v1h-1zM77.6 112.5h1v1h-1zM96.4 108.7h1v1h-1zM105.1 97.0h1v1h-1zM90.1 103.3h1v1h-1zM83.1 103.3h1v1h-1zM96.1 96.6h1v1h-1zM109.7 97.8h1v1h-1zM90.7 106.3h1v1h-1zM79.3 111.7h1v1h-1zM103.3 94.7h1v1h-1zM91.3 97.3h1v1h-1zM87.8 115.8h1v1h-1zM103.8 96.4h1v1h-1zM108.9 106.7h1v1h-1zM101.8 102.7h1v1h-1zM83.1 100.7h1v1h-1zM97.4 112.0h1v1h-1zM97.4 101.3h1v1h-1zM95.9 107.0h1v1h-1zM112.2 97.4h1v1h-1zM105.7 104.5h1v1h-1zM119.6 99.1h1v1h-1zM122.3 102.4h1v1h-1zM106.9 108.2h1v1h-1zM104.1 105.5h1v1h-1zM106.7 105.5h1v1h-1zM87.3 115.3h1v1h-1zM86.9 108.3h1v1h-1zM97.3 98.0h1v1h-1zM113.0 90.8h1v1h-1zM97.7 94.2h1v1h-1zM118.4 95.2h1v1h-1zM104.2 91.8h1v1h-1zM110.1 107.6h1v1h-1zM82.7 106.3h1v1h-1zM95.9 100.1h1v1h-1zM81.3 114.5h1v1h-1zM112.8 105.9h1v1h-1zM83.7 106.4h1v1h-1zM86.9 102.3h1v1h-1zM98.6 99.8h1v1h-1zM82.8 90.2h1v1h-1zM86.3 89.2h1v1h-1zM83.7 86.0h1v1h-1zM89.0 89.9h1v1h-1zM88.5 83.8h1v1h-1zM86.5 84.9h1v1h-1zM83.5 84.3h1v1h-1zM86.1 85.1h1v1h-1zM86.6 90.3h1v1h-1zM81.7 84.5h1v1h-1zM85.4 85.0h1v1h-1zM86.3 85.5h1v1h-1zM85.1 88.5h1v1h-1zM88.6 87.1h1v1h-1zM87.7 90.2h1v1h-1zM82.4 86.2h1v1h-1zM84.8 84.6h1v1h-1zM82.3 86.7h1v1h-1zM86.0 88.1h1v1h-1zM82.2 85.6h1v1h-1zM86.9 88.7h1v1h-1zM85.5 92.7h1v1h-1zM87.0 86.5h1v1h-1zM84.1 88.1h1v1h-1zM80.7 91.5h1v1h-1zM89.1 86.3h1v1h-1zM84.1 85.8h1v1h-1zM88.1 85.1h1v1h-1zM85.6 89.0h1v1h-1zM86.3 89.3h1v1h-1zM89.3 87.6h1v1h-1zM85.4 88.1h1v1h-1zM88.1 91.3h1v1h-1zM80.6 90.2h1v1h-1zM86.8 84.3h1v1h-1zM83.9 87.9h1v1h-1zM84.2 88.2h1v1h-1zM84.5 89.8h1v1h-1zM85.4 87.4h1v1h-1zM88.8 86.3h1v1h-1zM79.7 86.7h1v1h-1zM84.6 83.3h1v1h-1zM82.6 87.9h1v1h-1zM87.5 86.4h1v1h-1zM83.4 89.1h1v1h-1zM85.7 85.3h1v1h-1zM83.5 86.8h1v1h-1zM86.2 85.4h1v1h-1zM87.1 85.1h1v1h-1zM83.5 89.7h1v1h-1zM84.6 86.7h1v1h-1zM80.8 89.1h1v1h-1zM85.3 85.0h1v1h-1zM86.7 88.2h1v1h-1zM83.1 83.5h1v1h-1zM87.4 86.7h1v1h-1zM79.1 86.6h1v1h-1zM79.7 89.4h1v1h-1zM80.9 88.4h1v1h-1zM83.2 87.4h1v1h-1zM84.5 90.1h1v1h-1zM84.3 88.4h1v1h-1zM84.3 89.3h1v1h-1zM86.4 89.9h1v1h-1zM83.3 87.7h1v1h-1zM81.2 87.1h1v1h-1zM81.3 88.7h1v1h-1zM90.0 86.8h1v1h-1zM78.4 88.9h1v1h-1zM84.0 90.8h1v1h-1zM88.3 90.1h1v1h-1zM85.8 86.9h1v1h-1zM82.3 84.5h1v1h-1zM84.5 87.7h1v1h-1zM86.7 87.6h1v1h-1zM87.6 90.8h1v1h-1zM82.2 86.9h1v1h-1zM86.5 87.3h1v1h-1zM85.2 89.8h1v1h-1zM87.4 86.6h1v1h-1zM88.1 87.5h1v1h-1zM83.6 92.3h1v1h-1zM80.7 91.7h1v1h-1zM85.5 89.5h1v1h-1zM89.1 88.6h1v1h-1zM86.3 85.4h1v1h-1zM85.1 89.3h1v1h-1zM90.7 88.0h1v1h-1zM81.8 88.5h1v1h-1zM86.8 86.5h1v1h-1zM83.0 87.8h1v1h-1zM84.6 87.4h1v1h-1zM84.7 88.7h1v1h-1zM88.4 91.6h1v1h-1zM82.1 88.8h1v1h-1zM83.1 83.6h1v1h-1zM80.4 85.4h1v1h-1zM85.8 83.8h1v1h-1zM83.3 85.8h1v1h-1zM85.6 89.3h1v1h-1zM81.7 88.9h1v1h-1zM83.6 86.3h1v1h-1zM87.2 88.6h1v1h-1zM84.0 85.9h1v1h-1zM86.1 84.2h1v1h-1zM85.9 84.2h1v1h-1zM83.6 85.6h1v1h-1zM80.4 91.6h1v1h-1zM87.1 84.4h1v1h-1zM84.9 91.1h1v1h-1zM87.1 91.3h1v1h-1zM79.3 87.4h1v1h-1zM80.2 87.7h1v1h-1zM78.9 86.3h1v1h-1zM82.2 87.8h1v1h-1zM87.2 89.6h1v1h-1zM86.0 87.9h1v1h-1zM84.4 90.5h1v1h-1zM84.8 90.9h1v1h-1zM86.5 88.8h1v1h-1zM83.7 88.7h1v1h-1zM85.5 87.7h1v1h-1zM84.9 88.8h1v1h-1zM78.8 85.0h1v1h-1zM83.5 88.9h1v1h-1zM88.0 88.4h1v1h-1zM83.5 85.6h1v1h-1zM84.1 93.4h1v1h-1zM82.9 85.3h1v1h-1zM83.2 85.6h1v1h-1zM87.4 88.6h1v1h-1zM83.8 82.8h1v1h-1zM81.8 85.8h1v1h-1zM76.4 83.9h1v1h-1zM83.0 85.4h1v1h-1zM79.4 87.5h1v1h-1zM79.8 88.7h1v1h-1zM86.6 90.7h1v1h-1zM86.3 90.0h1v1h-1zM79.5 90.9h1v1h-1zM38.4 159.4h1v1h-1zM40.2 158.7h1v1h-1zM34.6 159.2h1v1h-1zM34.2 160.0h1v1h-1zM41.7 158.3h1v1h-1zM39.1 156.7h1v1h-1zM37.1 161.5h1v1h-1zM38.9 158.7h1v1h-1zM39.4 159.1h1v1h-1zM36.0 158.4h1v1h-1zM32.2 158.3h1v1h-1zM36.7 160.2h1v1h-1zM41.1 161.0h1v1h-1zM38.1 161.0h1v1h-1zM33.5 157.7h1v1h-1zM36.2 159.9h1v1h-1zM32.1 158.1h1v1h-1zM36.4 161.1h1v1h-1zM38.2 159.6h1v1h-1zM37.2 160.0h1v1h-1zM35.1 159.0h1v1h-1zM38.1 157.6h1v1h-1zM37.4 160.8h1v1h-1zM40.4 157.8h1v1h-1zM38.1 159.5h1v1h-1zM34.0 158.9h1v1h-1zM37.0 160.3h1v1h-1zM37.7 161.4h1v1h-1zM38.7 160.3h1v1h-1zM34.3 160.2h1v1h-1zM36.9 159.9h1v1h-1zM32.2 161.2h1v1h-1zM38.2 160.5h1v1h-1zM36.1 158.5h1v1h-1zM33.3 159.9h1v1h-1zM36.4 159.3h1v1h-1zM41.7 160.8h1v1h-1zM40.0 161.6h1v1h-1zM39.1 156.4h1v1h-1zM38.0 161.2h1v1h-1zM37.8 160.1h1v1h-1zM35.5 157.8h1v1h-1zM42.4 158.2h1v1h-1zM41.5 161.0h1v1h-1zM36.0 161.3h1v1h-1zM32.9 158.8h1v1h-1zM43.5 159.5h1v1h-1zM34.4 160.3h1v1h-1zM40.5 157.3h1v1h-1zM43.0 159.4h1v1h-1zM35.1 159.7h1v1h-1zM37.4 159.1h1v1h-1zM43.1 158.7h1v1h-1zM38.4 156.6h1v1h-1zM36.3 161.3h1v1h-1zM40.2 159.4h1v1h-1z" fill="#000" fill-opacity="0.85"/><path d="M101.1 102.6h1v1h-1zM92.3 95.4h1v1h-1zM65.1 133.1h1v1h-1zM116.3 79.4h1v1h-1zM89.0 111.9h1v1h-1zM81.0 92.6h1v1h-1zM52.0 129.7h1v1h-1zM110.8 93.5h1v1h-1zM102.9 79.9h1v1h-1zM77.0 104.0h1v1h-1zM88.7 93.9h1v1h-1zM103.5 103.6h1v1h-1zM103.0 80.9h1v1h-1zM96.1 104.1h1v1h-1zM133.4 95.3h1v1h-1zM89.3 107.6h1v1h-1zM68.1 91.3h1v1h-1zM83.5 108.0h1v1h-1zM53.1 143.9h1v1h-1zM74.4 107.9h1v1h-1zM117.5 99.9h1v1h-1zM100.4 104.0h1v1h-1zM79.4 115.6h1v1h-1zM95.4 93.6h1v1h-1zM50.9 120.8h1v1h-1zM84.0 101.6h1v1h-1zM101.0 94.8h1v1h-1zM107.6 97.5h1v1h-1zM80.3 115.0h1v1h-1zM105.3 86.1h1v1h-1zM125.3 77.9h1v1h-1zM86.3 110.3h1v1h-1zM92.3 74.1h1v1h-1zM57.3 112.3h1v1h-1zM49.8 117.1h1v1h-1zM100.6 90.9h1v1h-1zM89.8 97.3h1v1h-1zM92.8 95.5h1v1h-1zM74.1 98.9h1v1h-1zM90.9 111.7h1v1h-1zM107.8 93.5h1v1h-1zM109.9 61.6h1v1h-1zM87.4 103.7h1v1h-1zM53.0 109.7h1v1h-1zM126.8 102.9h1v1h-1zM98.6 88.4h1v1h-1zM100.5 88.0h1v1h-1zM95.1 99.4h1v1h-1zM131.6 69.4h1v1h-1zM92.1 99.2h1v1h-1zM112.0 110.8h1v1h-1zM59.5 126.6h1v1h-1zM87.0 117.0h1v1h-1zM87.2 121.5h1v1h-1zM83.4 90.8h1v1h-1zM110.1 114.4h1v1h-1zM82.8 117.6h1v1h-1zM129.6 89.2h1v1h-1zM65.6 105.1h1v1h-1zM89.2 115.2h1v1h-1zM98.6 102.2h1v1h-1zM64.6 110.9h1v1h-1zM118.5 117.9h1v1h-1zM106.8 98.9h1v1h-1zM84.2 102.0h1v1h-1zM127.1 78.8h1v1h-1zM99.5 109.5h1v1h-1zM104.7 109.3h1v1h-1zM78.2 119.2h1v1h-1zM70.1 135.0h1v1h-1zM90.8 124.5h1v1h-1zM76.2 91.8h1v1h-1zM79.4 101.4h1v1h-1zM98.1 81.1h1v1h-1zM48.9 132.0h1v1h-1zM81.5 130.5h1v1h-1zM63.2 130.9h1v1h-1zM107.6 72.8h1v1h-1zM78.8 104.9h1v1h-1zM89.6 118.3h1v1h-1zM67.4 109.1h1v1h-1zM106.7 88.5h1v1h-1zM86.1 109.3h1v1h-1zM81.7 78.7h1v1h-1zM60.4 134.8h1v1h-1zM114.9 89.7h1v1h-1zM102.6 101.9h1v1h-1zM93.9 83.5h1v1h-1zM107.8 77.1h1v1h-1zM83.3 96.9h1v1h-1zM90.1 105.6h1v1h-1zM104.7 92.5h1v1h-1zM99.9 96.8h1v1h-1zM100.2 123.0h1v1h-1zM101.8 114.2h1v1h-1zM76.8 99.6h1v1h-1zM99.3 84.8h1v1h-1zM120.9 107.3h1v1h-1zM89.0 97.4h1v1h-1zM135.5 91.8h1v1h-1zM75.4 137.3h1v1h-1zM83.0 98.0h1v1h-1zM120.1 76.3h1v1h-1zM84.3 107.0h1v1h-1zM55.9 111.9h1v1h-1zM109.2 72.8h1v1h-1zM98.1 89.7h1v1h-1zM76.1 125.0h1v1h-1zM101.9 86.3h1v1h-1zM71.3 111.6h1v1h-1zM63.6 112.8h1v1h-1zM78.4 88.2h1v1h-1zM93.7 122.7h1v1h-1zM54.0 89.8h1v1h-1zM79.8 98.5h1v1h-1zM77.3 119.5h1v1h-1zM82.0 85.2h1v1h-1zM95.4 107.5h1v1h-1zM114.1 104.7h1v1h-1zM76.7 97.4h1v1h-1zM68.8 119.9h1v1h-1zM59.2 105.7h1v1h-1zM90.6 109.3h1v1h-1zM119.7 82.3h1v1h-1zM108.2 92.4h1v1h-1zM89.9 123.5h1v1h-1zM111.8 93.9h1v1h-1zM80.4 129.8h1v1h-1zM114.3 94.7h1v1h-1zM75.4 92.9h1v1h-1zM107.1 93.9h1v1h-1zM106.2 98.1h1v1h-1zM75.5 88.9h1v1h-1zM107.2 110.9h1v1h-1zM72.5 115.0h1v1h-1zM92.7 105.7h1v1h-1zM104.2 77.5h1v1h-1zM165.9 49.7h1v1h-1zM106.2 95.1h1v1h-1zM90.5 96.2h1v1h-1zM73.6 114.5h1v1h-1zM94.6 64.8h1v1h-1zM71.5 136.3h1v1h-1zM68.5 99.1h1v1h-1zM81.5 73.0h1v1h-1zM62.4 105.8h1v1h-1zM112.9 72.4h1v1h-1zM115.1 92.7h1v1h-1zM74.2 98.2h1v1h-1zM83.4 110.8h1v1h-1zM60.3 107.3h1v1h-1zM82.4 142.0h1v1h-1zM103.4 101.0h1v1h-1zM117.2 113.7h1v1h-1zM90.1 85.5h1v1h-1zM101.1 104.5h1v1h-1zM74.0 97.7h1v1h-1zM102.1 102.4h1v1h-1zM69.7 126.6h1v1h-1zM79.6 83.7h1v1h-1zM109.5 70.0h1v1h-1zM106.5 71.6h1v1h-1zM71.7 90.6h1v1h-1zM79.8 97.2h1v1h-1zM109.0 73.1h1v1h-1zM112.8 62.7h1v1h-1zM65.0 120.7h1v1h-1zM87.6 112.0h1v1h-1zM85.7 83.8h1v1h-1zM109.2 79.4h1v1h-1zM76.2 111.4h1v1h-1zM101.2 90.1h1v1h-1zM80.6 97.1h1v1h-1zM140.3 79.3h1v1h-1zM105.4 104.3h1v1h-1zM93.9 109.7h1v1h-1zM83.7 102.7h1v1h-1zM125.2 108.5h1v1h-1zM116.5 110.6h1v1h-1zM68.7 110.1h1v1h-1zM94.3 96.7h1v1h-1zM75.9 130.3h1v1h-1zM71.6 101.8h1v1h-1zM70.8 121.3h1v1h-1zM67.6 118.0h1v1h-1zM73.6 101.9h1v1h-1zM71.8 110.6h1v1h-1zM89.1 77.3h1v1h-1zM101.6 84.8h1v1h-1zM72.1 82.5h1v1h-1zM88.0 139.1h1v1h-1zM117.0 106.5h1v1h-1zM63.8 139.4h1v1h-1zM58.6 128.4h1v1h-1zM111.9 102.1h1v1h-1zM112.6 105.9h1v1h-1zM116.5 99.1h1v1h-1zM94.2 113.2h1v1h-1zM61.6 106.9h1v1h-1zM85.2 111.7h1v1h-1zM97.5 87.8h1v1h-1zM68.6 97.8h1v1h-1zM70.0 97.4h1v1h-1zM69.2 122.9h1v1h-1zM78.0 126.6h1v1h-1zM96.3 75.4h1v1h-1zM112.5 113.4h1v1h-1zM81.2 131.0h1v1h-1zM68.8 110.3h1v1h-1zM77.6 102.8h1v1h-1zM100.6 92.9h1v1h-1zM77.4 125.9h1v1h-1zM85.3 98.7h1v1h-1zM44.1 116.0h1v1h-1zM71.0 120.2h1v1h-1zM83.4 73.3h1v1h-1zM108.5 90.7h1v1h-1zM78.9 127.6h1v1h-1zM79.5 113.6h1v1h-1zM111.5 98.8h1v1h-1zM87.8 110.8h1v1h-1zM86.8 115.2h1v1h-1zM101.7 95.5h1v1h-1zM88.6 89.2h1v1h-1zM109.6 84.1h1v1h-1zM105.0 89.7h1v1h-1zM90.2 121.3h1v1h-1zM101.2 119.4h1v1h-1zM93.3 105.8h1v1h-1zM61.1 109.7h1v1h-1zM68.2 105.1h1v1h-1zM107.4 86.2h1v1h-1zM72.8 135.4h1v1h-1zM111.7 91.5h1v1h-1zM96.0 96.3h1v1h-1zM83.0 94.2h1v1h-1zM107.5 103.1h1v1h-1zM102.0 97.6h1v1h-1zM112.7 84.7h1v1h-1zM84.8 106.7h1v1h-1zM99.7 121.4h1v1h-1zM85.6 101.9h1v1h-1zM137.9 94.7h1v1h-1zM117.6 101.8h1v1h-1zM74.9 112.8h1v1h-1zM91.8 114.2h1v1h-1zM77.6 108.1h1v1h-1zM85.3 91.5h1v1h-1zM93.1 95.0h1v1h-1zM126.0 61.8h1v1h-1zM62.1 129.1h1v1h-1zM110.0 87.7h1v1h-1zM103.4 101.0h1v1h-1zM84.7 118.2h1v1h-1zM65.3 69.2h1v1h-1zM84.6 110.1h1v1h-1zM78.8 80.7h1v1h-1zM110.7 89.5h1v1h-1zM57.3 110.4h1v1h-1zM115.8 85.0h1v1h-1zM94.7 119.8h1v1h-1zM105.7 63.3h1v1h-1zM100.2 97.3h1v1h-1zM113.0 84.0h1v1h-1zM87.4 73.2h1v1h-1zM115.8 93.6h1v1h-1zM92.6 100.1h1v1h-1zM72.5 105.6h1v1h-1zM98.1 84.3h1v1h-1zM128.1 125.7h1v1h-1zM126.3 69.7h1v1h-1zM41.7 106.6h1v1h-1zM80.9 93.0h1v1h-1zM107.8 83.1h1v1h-1zM65.9 112.2h1v1h-1zM86.7 102.5h1v1h-1zM121.8 62.5h1v1h-1zM121.0 88.3h1v1h-1zM71.9 106.4h1v1h-1zM107.0 67.9h1v1h-1zM106.7 76.8h1v1h-1zM102.6 86.5h1v1h-1zM104.6 104.6h1v1h-1zM99.3 102.6h1v1h-1zM73.2 107.8h1v1h-1zM82.2 107.1h1v1h-1zM106.3 93.4h1v1h-1zM109.2 120.3h1v1h-1zM120.2 70.4h1v1h-1zM88.9 109.6h1v1h-1zM53.5 138.5h1v1h-1zM78.3 94.5h1v1h-1zM97.9 98.9h1v1h-1zM99.6 97.3h1v1h-1zM89.2 94.5h1v1h-1zM80.9 116.8h1v1h-1zM126.1 92.4h1v1h-1zM87.9 120.8h1v1h-1zM102.9 89.3h1v1h-1zM87.7 106.0h1v1h-1zM87.4 140.5h1v1h-1zM108.8 70.7h1v1h-1zM47.9 134.4h1v1h-1zM82.8 120.6h1v1h-1zM100.4 96.5h1v1h-1zM90.0 111.8h1v1h-1zM106.4 92.7h1v1h-1zM95.4 109.6h1v1h-1zM92.9 119.7h1v1h-1zM128.9 70.7h1v1h-1zM89.1 105.2h1v1h-1zM88.3 101.7h1v1h-1zM69.0 109.7h1v1h-1zM77.9 109.5h1v1h-1zM94.9 80.0h1v1h-1zM107.3 101.1h1v1h-1zM104.3 118.4h1v1h-1zM91.7 127.3h1v1h-1zM113.5 105.2h1v1h-1zM53.7 111.5h1v1h-1zM96.8 120.8h1v1h-1zM81.8 95.8h1v1h-1zM76.0 110.4h1v1h-1zM108.2 118.0h1v1h-1zM71.6 97.3h1v1h-1zM83.5 119.3h1v1h-1zM126.3 80.5h1v1h-1zM103.9 89.2h1v1h-1zM106.8 75.7h1v1h-1zM95.8 104.0h1v1h-1zM105.7 83.1h1v1h-1zM113.6 101.5h1v1h-1zM122.8 97.9h1v1h-1zM124.2 55.6h1v1h-1zM83.9 97.6h1v1h-1zM94.1 93.5h1v1h-1zM82.1 88.2h1v1h-1zM67.3 118.7h1v1h-1zM90.6 97.7h1v1h-1zM90.9 74.5h1v1h-1zM77.5 101.6h1v1h-1zM116.2 91.3h1v1h-1zM106.0 71.0h1v1h-1zM77.5 95.5h1v1h-1zM129.4 99.0h1v1h-1zM133.3 92.0h1v1h-1zM88.2 76.9h1v1h-1zM64.1 98.1h1v1h-1zM121.2 85.5h1v1h-1zM80.1 89.4h1v1h-1zM83.2 102.1h1v1h-1zM90.7 93.8h1v1h-1zM86.4 112.8h1v1h-1zM92.4 59.6h1v1h-1zM89.6 66.8h1v1h-1zM104.8 71.6h1v1h-1zM110.0 103.5h1v1h-1zM76.5 108.4h1v1h-1zM76.4 83.8h1v1h-1zM111.5 94.2h1v1h-1zM89.9 112.7h1v1h-1zM142.8 60.5h1v1h-1zM85.2 99.5h1v1h-1zM84.7 112.1h1v1h-1zM121.7 98.4h1v1h-1zM106.6 92.2h1v1h-1zM95.5 106.0h1v1h-1zM87.5 102.4h1v1h-1zM96.8 90.6h1v1h-1zM100.2 79.7h1v1h-1zM107.7 93.1h1v1h-1zM84.3 100.6h1v1h-1zM98.0 92.0h1v1h-1zM114.1 99.3h1v1h-1zM109.4 95.5h1v1h-1zM42.9 148.2h1v1h-1zM64.2 94.5h1v1h-1zM82.2 115.7h1v1h-1zM83.5 96.6h1v1h-1zM89.2 89.1h1v1h-1zM102.3 79.3h1v1h-1zM112.2 105.1h1v1h-1zM95.9 110.4h1v1h-1zM87.1 92.1h1v1h-1zM115.2 65.7h1v1h-1zM81.1 107.9h1v1h-1zM94.1 91.3h1v1h-1zM132.6 97.9h1v1h-1zM87.3 80.1h1v1h-1zM41.5 106.3h1v1h-1zM96.8 92.5h1v1h-1zM85.1 105.0h1v1h-1zM91.0 102.8h1v1h-1zM116.6 94.8h1v1h-1zM115.9 116.2h1v1h-1zM84.7 99.7h1v1h-1zM104.0 82.9h1v1h-1zM86.7 75.8h1v1h-1zM95.7 101.3h1v1h-1zM103.8 105.3h1v1h-1zM94.6 94.0h1v1h-1zM94.7 116.9h1v1h-1zM84.0 106.1h1v1h-1zM103.7 115.8h1v1h-1zM77.3 115.6h1v1h-1zM61.4 104.6h1v1h-1zM110.7 76.8h1v1h-1zM76.2 86.7h1v1h-1zM78.6 81.8h1v1h-1zM91.6 104.5h1v1h-1zM98.9 109.0h1v1h-1zM107.0 120.5h1v1h-1zM92.8 98.6h1v1h-1zM75.7 107.6h1v1h-1zM100.5 76.4h1v1h-1zM86.9 119.2h1v1h-1zM113.6 91.1h1v1h-1zM53.0 117.9h1v1h-1zM78.0 120.7h1v1h-1zM114.1 93.5h1v1h-1zM75.4 82.0h1v1h-1zM85.4 116.4h1v1h-1zM99.8 96.7h1v1h-1zM70.2 109.0h1v1h-1zM90.3 94.6h1v1h-1zM65.1 146.6h1v1h-1zM95.3 122.1h1v1h-1zM93.9 127.6h1v1h-1zM93.2 81.0h1v1h-1zM102.9 82.0h1v1h-1zM83.4 120.4h1v1h-1zM112.0 66.8h1v1h-1zM76.0 99.8h1v1h-1zM41.5 106.7h1v1h-1zM62.9 149.8h1v1h-1zM127.7 91.9h1v1h-1zM93.8 106.0h1v1h-1zM82.0 110.5h1v1h-1zM75.4 105.0h1v1h-1zM69.4 109.5h1v1h-1zM121.0 89.5h1v1h-1zM85.2 93.5h1v1h-1zM133.4 90.5h1v1h-1zM84.7 97.3h1v1h-1zM43.1 120.4h1v1h-1zM116.9 103.2h1v1h-1zM84.3 103.1h1v1h-1zM91.9 108.9h1v1h-1zM117.2 75.8h1v1h-1zM70.5 79.4h1v1h-1zM117.0 91.2h1v1h-1zM81.9 85.7h1v1h-1zM86.5 121.0h1v1h-1zM89.6 77.1h1v1h-1zM67.3 87.7h1v1h-1zM116.4 87.8h1v1h-1zM112.5 92.4h1v1h-1zM93.9 100.3h1v1h-1zM93.9 79.4h1v1h-1zM126.5 55.3h1v1h-1zM86.2 82.1h1v1h-1zM98.5 57.6h1v1h-1zM89.2 51.1h1v1h-1zM105.2 70.8h1v1h-1zM127.0 58.9h1v1h-1zM100.2 72.1h1v1h-1zM120.5 57.9h1v1h-1zM124.4 60.9h1v1h-1zM75.7 67.9h1v1h-1zM90.0 75.3h1v1h-1zM106.2 74.0h1v1h-1zM98.6 65.4h1v1h-1zM119.1 69.1h1v1h-1zM66.4 55.2h1v1h-1zM120.3 48.2h1v1h-1zM129.9 73.2h1v1h-1zM114.1 83.0h1v1h-1zM85.0 74.3h1v1h-1zM109.7 60.8h1v1h-1zM94.7 51.4h1v1h-1zM122.1 62.2h1v1h-1zM111.6 71.4h1v1h-1zM117.6 40.3h1v1h-1zM104.2 71.3h1v1h-1zM139.1 57.7h1v1h-1zM68.5 82.7h1v1h-1zM86.3 56.2h1v1h-1zM121.4 64.8h1v1h-1zM75.5 55.4h1v1h-1zM129.9 73.8h1v1h-1zM87.7 71.8h1v1h-1zM107.0 48.2h1v1h-1zM98.3 83.4h1v1h-1zM106.4 78.0h1v1h-1zM110.6 53.5h1v1h-1zM117.1 87.6h1v1h-1zM98.7 53.3h1v1h-1zM151.8 50.8h1v1h-1zM115.0 75.3h1v1h-1zM82.5 43.0h1v1h-1zM131.5 66.9h1v1h-1zM125.2 55.7h1v1h-1zM132.9 53.5h1v1h-1zM139.2 37.6h1v1h-1zM93.7 72.2h1v1h-1zM125.4 42.2h1v1h-1zM127.4 43.3h1v1h-1zM108.2 56.9h1v1h-1zM109.6 46.5h1v1h-1zM60.0 100.3h1v1h-1zM93.8 50.9h1v1h-1zM140.5 41.3h1v1h-1zM75.1 70.7h1v1h-1zM99.9 65.7h1v1h-1zM118.7 69.0h1v1h-1zM124.2 67.3h1v1h-1zM139.4 47.4h1v1h-1zM75.3 69.7h1v1h-1zM110.9 62.1h1v1h-1zM129.5 65.4h1v1h-1zM88.2 78.9h1v1h-1zM107.1 56.4h1v1h-1zM143.5 77.2h1v1h-1zM124.0 69.0h1v1h-1zM62.0 82.9h1v1h-1zM108.9 66.7h1v1h-1zM115.1 53.5h1v1h-1zM100.1 52.8h1v1h-1zM107.4 58.7h1v1h-1zM167.0 38.4h1v1h-1zM103.4 56.4h1v1h-1zM85.8 52.2h1v1h-1zM113.3 56.8h1v1h-1zM106.4 70.7h1v1h-1zM102.1 58.5h1v1h-1zM108.5 62.8h1v1h-1zM116.0 33.4h1v1h-1zM113.6 58.0h1v1h-1zM86.9 68.8h1v1h-1zM102.5 49.1h1v1h-1zM111.8 39.3h1v1h-1zM102.9 69.8h1v1h-1zM128.3 45.0h1v1h-1zM126.6 62.2h1v1h-1zM89.7 64.0h1v1h-1zM118.6 66.8h1v1h-1zM145.9 44.6h1v1h-1zM133.1 34.3h1v1h-1zM65.2 129.9h1v1h-1zM52.6 124.2h1v1h-1zM41.5 144.2h1v1h-1zM79.6 119.2h1v1h-1zM63.4 136.7h1v1h-1zM40.3 157.1h1v1h-1zM53.7 143.4h1v1h-1zM84.8 143.8h1v1h-1zM50.3 153.1h1v1h-1zM67.6 118.8h1v1h-1zM44.5 145.6h1v1h-1zM54.7 136.4h1v1h-1zM50.9 145.3h1v1h-1zM40.7 149.0h1v1h-1zM74.7 117.0h1v1h-1zM63.8 155.9h1v1h-1zM73.8 128.5h1v1h-1zM78.1 120.3h1v1h-1zM50.0 145.2h1v1h-1zM37.2 156.5h1v1h-1zM71.0 146.8h1v1h-1zM52.1 152.1h1v1h-1zM85.8 131.0h1v1h-1zM74.0 131.6h1v1h-1zM62.5 160.9h1v1h-1zM47.6 150.6h1v1h-1zM68.2 112.4h1v1h-1zM69.8 138.3h1v1h-1zM65.7 127.7h1v1h-1zM49.1 141.7h1v1h-1zM86.3 129.8h1v1h-1zM74.0 142.0h1v1h-1zM78.0 132.9h1v1h-1zM55.7 131.0h1v1h-1zM74.3 113.7h1v1h-1zM50.2 147.2h1v1h-1zM37.8 141.5h1v1h-1zM76.4 141.3h1v1h-1zM44.9 157.9h1v1h-1zM79.3 133.8h1v1h-1zM72.2 130.4h1v1h-1zM55.8 142.5h1v1h-1zM63.5 138.9h1v1h-1zM50.1 125.8h1v1h-1zM47.3 161.3h1v1h-1zM52.5 141.5h1v1h-1zM38.5 157.9h1v1h-1zM48.7 152.9h1v1h-1zM64.6 154.4h1v1h-1zM70.2 136.2h1v1h-1zM62.7 137.9h1v1h-1zM43.4 147.8h1v1h-1zM65.2 117.6h1v1h-1zM72.1 122.4h1v1h-1zM69.8 132.3h1v1h-1zM69.1 129.0h1v1h-1zM50.6 148.7h1v1h-1zM82.0 129.9h1v1h-1zM68.3 137.9h1v1h-1zM48.2 153.1h1v1h-1zM74.3 135.4h1v1h-1zM68.8 134.5h1v1h-1zM64.8 135.4h1v1h-1zM63.1 142.7h1v1h-1zM64.2 115.8h1v1h-1zM79.9 137.7h1v1h-1zM58.4 125.9h1v1h-1zM46.3 161.4h1v1h-1zM49.3 149.1h1v1h-1zM90.7 126.8h1v1h-1zM57.4 142.5h1v1h-1zM62.5 126.5h1v1h-1zM50.7 160.4h1v1h-1zM66.2 136.7h1v1h-1zM67.6 134.8h1v1h-1zM74.6 128.4h1v1h-1zM89.7 126.4h1v1h-1zM64.5 145.7h1v1h-1zM54.3 147.4h1v1h-1zM36.8 141.3h1v1h-1zM51.7 142.2h1v1h-1zM59.8 141.3h1v1h-1zM94.1 132.1h1v1h-1zM64.6 140.5h1v1h-1zM69.5 130.7h1v1h-1zM79.8 137.2h1v1h-1zM38.3 157.1h1v1h-1zM49.1 148.9h1v1h-1zM64.6 137.8h1v1h-1zM32.3 145.8h1v1h-1zM51.0 158.9h1v1h-1zM76.2 131.2h1v1h-1zM68.3 129.5h1v1h-1zM38.2 145.0h1v1h-1zM45.1 155.1h1v1h-1zM86.1 134.2h1v1h-1zM56.8 135.1h1v1h-1zM47.0 138.5h1v1h-1zM74.6 132.5h1v1h-1zM60.5 120.7h1v1h-1zM72.1 103.4h1v1h-1zM40.6 151.2h1v1h-1zM70.4 122.9h1v1h-1zM58.3 138.1h1v1h-1zM46.8 144.7h1v1h-1zM63.7 140.7h1v1h-1zM38.0 156.1h1v1h-1zM40.7 149.3h1v1h-1zM40.8 150.9h1v1h-1zM74.6 135.0h1v1h-1zM77.2 136.6h1v1h-1zM55.1 154.8h1v1h-1zM56.8 150.9h1v1h-1zM55.4 104.9h1v1h-1zM50.7 136.0h1v1h-1zM52.9 142.3h1v1h-1zM84.0 122.0h1v1h-1zM54.5 125.5h1v1h-1zM71.9 146.6h1v1h-1zM68.8 136.1h1v1h-1zM36.7 152.5h1v1h-1zM58.1 143.6h1v1h-1zM73.4 124.5h1v1h-1zM64.5 127.2h1v1h-1zM83.1 126.3h1v1h-1zM50.3 142.9h1v1h-1zM52.5 129.7h1v1h-1zM45.7 144.7h1v1h-1zM46.4 150.2h1v1h-1zM36.3 147.4h1v1h-1zM55.1 159.1h1v1h-1zM39.7 144.4h1v1h-1zM69.2 152.9h1v1h-1zM62.9 148.1h1v1h-1zM68.8 121.4h1v1h-1zM75.7 128.2h1v1h-1zM70.7 144.9h1v1h-1zM68.1 130.9h1v1h-1zM53.4 131.5h1v1h-1zM53.6 146.8h1v1h-1zM73.6 151.9h1v1h-1zM59.3 123.0h1v1h-1zM86.5 124.0h1v1h-1zM76.8 125.8h1v1h-1zM40.8 155.0h1v1h-1zM66.2 130.2h1v1h-1zM40.8 152.6h1v1h-1zM73.7 140.7h1v1h-1zM81.8 128.6h1v1h-1zM65.4 123.7h1v1h-1zM50.7 132.6h1v1h-1zM51.4 155.2h1v1h-1zM70.5 133.3h1v1h-1zM78.8 138.3h1v1h-1zM75.1 131.4h1v1h-1zM61.3 151.5h1v1h-1zM66.4 134.4h1v1h-1zM53.9 156.8h1v1h-1zM84.1 123.6h1v1h-1zM95.0 135.7h1v1h-1zM35.8 152.5h1v1h-1zM71.9 144.1h1v1h-1zM74.9 133.0h1v1h-1zM50.3 150.5h1v1h-1zM36.7 153.3h1v1h-1zM41.1 161.5h1v1h-1zM63.0 120.1h1v1h-1zM60.7 147.9h1v1h-1zM66.9 115.9h1v1h-1zM70.0 128.4h1v1h-1zM60.2 143.0h1v1h-1zM57.2 143.4h1v1h-1zM63.6 142.0h1v1h-1zM53.3 142.5h1v1h-1zM76.8 121.5h1v1h-1zM69.2 130.8h1v1h-1zM62.8 150.2h1v1h-1zM50.7 161.5h1v1h-1zM69.6 147.1h1v1h-1zM87.5 121.1h1v1h-1zM79.2 121.5h1v1h-1zM58.9 148.7h1v1h-1zM65.4 145.5h1v1h-1zM55.1 139.5h1v1h-1zM48.4 159.6h1v1h-1zM54.7 159.9h1v1h-1zM64.1 137.8h1v1h-1zM78.5 136.9h1v1h-1zM73.9 132.0h1v1h-1zM59.9 119.8h1v1h-1zM67.4 128.3h1v1h-1zM36.5 155.4h1v1h-1zM51.8 153.4h1v1h-1zM49.2 139.1h1v1h-1zM47.9 145.3h1v1h-1zM51.1 136.4h1v1h-1zM57.0 142.3h1v1h-1zM54.8 145.4h1v1h-1zM83.8 129.4h1v1h-1zM84.4 121.4h1v1h-1zM68.8 135.6h1v1h-1zM51.9 148.4h1v1h-1zM60.3 141.3h1v1h-1zM90.3 132.6h1v1h-1zM52.1 117.5h1v1h-1zM70.2 129.5h1v1h-1zM73.2 132.7h1v1h-1zM91.1 127.0h1v1h-1zM62.9 124.8h1v1h-1zM45.6 156.6h1v1h-1zM67.2 144.2h1v1h-1zM79.2 118.6h1v1h-1zM33.4 140.3h1v1h-1zM38.8 154.0h1v1h-1zM33.8 148.3h1v1h-1zM45.5 160.2h1v1h-1zM41.2 146.2h1v1h-1zM85.1 139.9h1v1h-1zM67.5 135.5h1v1h-1zM68.1 123.7h1v1h-1zM61.7 132.8h1v1h-1zM48.7 136.9h1v1h-1zM77.7 129.7h1v1h-1zM55.1 162.0h1v1h-1zM54.1 142.7h1v1h-1zM63.4 148.3h1v1h-1zM64.9 124.9h1v1h-1zM76.0 130.2h1v1h-1zM78.5 151.6h1v1h-1zM58.8 124.6h1v1h-1zM165.7 121.3h1v1h-1zM165.0 121.3h1v1h-1zM128.4 88.0h1v1h-1zM133.7 57.5h1v1h-1zM139.2 81.4h1v1h-1zM162.5 108.7h1v1h-1zM145.8 39.4h1v1h-1zM148.9 89.7h1v1h-1zM159.4 112.8h1v1h-1zM152.3 87.5h1v1h-1zM153.6 73.6h1v1h-1zM147.1 145.4h1v1h-1zM164.4 136.2h1v1h-1zM141.6 95.1h1v1h-1zM146.9 134.0h1v1h-1zM141.3 73.3h1v1h-1zM156.3 78.1h1v1h-1zM127.1 94.9h1v1h-1zM153.6 74.1h1v1h-1zM134.7 103.4h1v1h-1zM140.9 68.6h1v1h-1zM160.3 101.3h1v1h-1zM140.5 128.5h1v1h-1zM155.2 106.7h1v1h-1zM146.3 94.8h1v1h-1zM149.7 79.0h1v1h-1zM136.8 125.6h1v1h-1zM137.6 93.8h1v1h-1zM140.0 106.7h1v1h-1zM152.4 102.1h1v1h-1zM150.8 104.5h1v1h-1zM162.5 100.0h1v1h-1zM152.8 81.7h1v1h-1zM152.4 87.1h1v1h-1zM154.7 112.3h1v1h-1zM149.3 98.5h1v1h-1zM154.3 72.1h1v1h-1zM64.7 147.2h1v1h-1zM154.3 53.5h1v1h-1zM60.1 137.7h1v1h-1zM145.2 59.9h1v1h-1zM130.3 137.2h1v1h-1zM62.9 85.2h1v1h-1zM142.9 112.0h1v1h-1zM123.7 110.7h1v1h-1zM73.3 83.5h1v1h-1zM156.4 99.4h1v1h-1zM125.0 116.1h1v1h-1zM110.9 50.5h1v1h-1zM164.0 150.2h1v1h-1zM82.3 138.4h1v1h-1zM79.4 59.6h1v1h-1z" fill="#000" fill-opacity="0.6"/>
<path d="M248.9 133.3h1v1h-1zM261.6 136.1h1v1h-1zM262.8 135.7h1v1h-1zM261.0 127.0h1v1h-1zM254.3 121.0h1v1h-1zM258.9 132.5h1v1h-1zM257.3 129.0h1v1h-1zM253.6 134.9h1v1h-1zM259.8 141.2h1v1h-1zM257.6 141.2h1v1h-1zM256.7 134.0h1v1h-1zM264.1 138.4h1v1h-1zM253.7 141.2h1v1h-1zM262.7 132.7h1v1h-1zM256.4 133.9h1v1h-1zM262.6 137.0h1v1h-1zM260.4 132.3h1v1h-1zM261.5 129.9h1v1h-1zM254.1 128.6h1v1h-1zM255.4 132.6h1v1h-1zM254.9 129.3h1v1h-1zM261.0 136.7h1v1h-1zM264.5 130.8h1v1h-1zM266.4 140.2h1v1h-1zM257.0 138.9h1v1h-1zM260.5 126.0h1v1h-1zM250.3 138.2h1v1h-1zM246.7 130.4h1v1h-1zM254.8 139.8h1v1h-1zM256.0 135.3h1v1h-1zM250.7 132.3h1v1h-1zM249.3 136.1h1v1h-1zM263.1 129.6h1v1h-1zM255.1 134.3h1v1h-1zM249.9 134.6h1v1h-1zM273.8 131.8h1v1h-1zM261.0 134.6h1v1h-1zM258.0 127.3h1v1h-1zM264.0 135.5h1v1h-1zM255.4 126.2h1v1h-1zM269.4 135.9h1v1h-1zM250.7 135.1h1v1h-1zM252.1 136.3h1v1h-1zM259.1 129.7h1v1h-1zM255.3 148.5h1v1h-1zM268.3 131.4h1v1h-1zM250.3 133.4h1v1h-1zM255.5 128.7h1v1h-1zM261.3 140.1h1v1h-1zM263.2 130.2h1v1h-1zM265.8 137.8h1v1h-1zM261.9 127.7h1v1h-1zM273.0 134.3h1v1h-1zM257.0 130.7h1v1h-1zM260.9 137.5h1v1h-1zM264.9 131.1h1v1h-1zM257.9 128.2h1v1h-1zM258.1 135.0h1v1h-1zM257.0 126.4h1v1h-1zM255.9 127.7h1v1h-1zM253.0 136.7h1v1h-1zM256.5 122.9h1v1h-1zM250.5 136.7h1v1h-1zM262.1 130.6h1v1h-1zM250.3 127.9h1v1h-1zM272.1 134.0h1v1h-1zM269.9 136.0h1v1h-1zM266.4 129.7h1v1h-1zM258.5 131.8h1v1h-1zM256.2 136.9h1v1h-1zM267.1 136.7h1v1h-1zM260.8 132.5h1v1h-1zM263.1 128.7h1v1h-1zM255.4 127.8h1v1h-1zM266.1 129.6h1v1h-1zM255.0 136.3h1v1h-1zM260.4 135.8h1v1h-1zM249.4 134.3h1v1h-1zM255.8 140.0h1v1h-1zM262.7 131.2h1v1h-1zM257.0 130.8h1v1h-1zM257.0 130.8h1v1h-1zM264.4 142.7h1v1h-1zM259.3 122.1h1v1h-1zM267.1 134.3h1v1h-1zM245.3 135.1h1v1h-1zM263.1 133.1h1v1h-1zM262.7 144.9h1v1h-1zM250.5 138.9h1v1h-1zM251.9 136.8h1v1h-1zM264.9 128.2h1v1h-1zM253.3 135.4h1v1h-1zM255.9 130.9h1v1h-1zM263.3 133.1h1v1h-1zM257.7 133.9h1v1h-1zM262.5 130.3h1v1h-1zM254.5 136.1h1v1h-1zM261.5 141.3h1v1h-1zM266.2 138.2h1v1h-1zM261.6 134.0h1v1h-1zM246.6 122.9h1v1h-1zM263.6 138.5h1v1h-1zM260.0 138.5h1v1h-1zM254.3 131.9h1v1h-1zM268.0 130.4h1v1h-1zM249.3 136.3h1v1h-1zM270.9 128.7h1v1h-1zM255.9 137.0h1v1h-1zM269.1 127.3h1v1h-1zM259.4 128.1h1v1h-1zM251.7 133.0h1v1h-1zM260.2 125.4h1v1h-1zM261.7 132.9h1v1h-1zM262.9 135.7h1v1h-1zM266.0 126.1h1v1h-1zM254.3 137.7h1v1h-1zM262.6 130.0h1v1h-1zM264.1 135.8h1v1h-1zM258.1 134.0h1v1h-1zM254.1 130.6h1v1h-1zM254.0 130.2h1v1h-1zM264.2 124.1h1v1h-1zM264.4 129.3h1v1h-1zM254.7 129.0h1v1h-1zM251.7 141.4h1v1h-1zM267.1 138.2h1v1h-1zM250.4 125.9h1v1h-1zM260.6 137.1h1v1h-1zM254.9 134.1h1v1h-1zM249.2 131.0h1v1h-1zM260.4 135.3h1v1h-1zM258.5 137.0h1v1h-1zM268.3 130.0h1v1h-1zM273.2 131.5h1v1h-1zM258.5 133.8h1v1h-1zM265.8 127.9h1v1h-1zM265.9 133.9h1v1h-1zM256.5 132.6h1v1h-1zM254.5 129.5h1v1h-1zM269.3 128.6h1v1h-1zM257.5 134.5h1v1h-1zM259.5 137.5h1v1h-1zM257.9 134.7h1v1h-1zM258.9 128.6h1v1h-1zM256.1 136.8h1v1h-1zM264.1 133.9h1v1h-1zM267.2 136.0h1v1h-1zM257.4 139.0h1v1h-1zM251.4 128.3h1v1h-1zM260.0 132.3h1v1h-1zM250.8 129.9h1v1h-1zM255.8 128.5h1v1h-1zM267.0 143.3h1v1h-1zM273.5 137.8h1v1h-1zM261.9 123.9h1v1h-1zM253.3 135.2h1v1h-1zM264.3 130.1h1v1h-1zM246.3 138.9h1v1h-1zM255.5 133.4h1v1h-1zM268.8 132.1h1v1h-1zM264.1 133.7h1v1h-1zM251.4 135.0h1v1h-1zM249.7 133.1h1v1h-1zM264.8 131.9h1v1h-1zM259.4 132.3h1v1h-1zM256.1 135.6h1v1h-1zM262.1 127.2h1v1h-1zM256.2 133.0h1v1h-1zM248.2 132.4h1v1h-1zM264.5 130.5h1v1h-1zM255.8 136.8h1v1h-1zM253.7 126.4h1v1h-1zM251.7 131.1h1v1h-1zM261.2 128.6h1v1h-1zM254.9 135.8h1v1h-1zM263.4 130.6h1v1h-1zM258.1 133.2h1v1h-1zM266.1 135.0h1v1h-1zM257.4 124.8h1v1h-1zM255.8 135.3h1v1h-1zM247.9 129.2h1v1h-1zM253.1 131.7h1v1h-1zM264.0 132.4h1v1h-1zM277.9 137.2h1v1h-1zM252.2 136.8h1v1h-1zM253.5 142.1h1v1h-1zM261.7 133.9h1v1h-1zM262.5 130.5h1v1h-1zM255.6 130.4h1v1h-1zM260.1 136.4h1v1h-1zM250.1 141.2h1v1h-1zM257.9 134.7h1v1h-1zM265.0 130.0h1v1h-1zM269.4 134.4h1v1h-1zM258.7 134.3h1v1h-1zM258.1 133.2h1v1h-1zM262.4 129.2h1v1h-1zM266.3 120.0h1v1h-1zM262.6 130.2h1v1h-1zM255.2 138.4h1v1h-1zM261.8 134.1h1v1h-1zM265.4 121.7h1v1h-1zM255.4 133.0h1v1h-1zM251.7 123.5h1v1h-1zM262.7 143.2h1v1h-1zM261.9 134.0h1v1h-1zM265.4 126.8h1v1h-1zM260.2 137.1h1v1h-1zM255.8 129.0h1v1h-1zM257.1 135.9h1v1h-1zM253.5 133.1h1v1h-1zM254.0 126.9h1v1h-1zM256.3 136.4h1v1h-1zM256.8 126.1h1v1h-1zM266.3 139.9h1v1h-1zM252.4 133.3h1v1h-1zM259.4 127.7h1v1h-1zM256.2 123.7h1v1h-1zM268.6 141.3h1v1h-1zM261.3 140.5h1v1h-1zM257.5 126.5h1v1h-1zM264.6 141.5h1v1h-1zM260.1 133.9h1v1h-1zM256.9 131.9h1v1h-1zM268.9 132.6h1v1h-1zM263.9 131.6h1v1h-1zM270.0 140.4h1v1h-1zM266.6 133.8h1v1h-1zM264.3 123.5h1v1h-1zM260.5 143.8h1v1h-1zM253.2 137.5h1v1h-1zM263.9 127.4h1v1h-1zM260.2 131.2h1v1h-1zM263.8 128.4h1v1h-1zM259.7 133.2h1v1h-1zM255.6 135.0h1v1h-1zM253.7 134.2h1v1h-1zM263.9 129.9h1v1h-1zM267.4 128.9h1v1h-1zM258.0 137.4h1v1h-1zM262.4 132.5h1v1h-1zM268.0 144.6h1v1h-1zM254.8 128.9h1v1h-1zM257.7 137.0h1v1h-1zM253.1 133.3h1v1h-1zM266.8 129.1h1v1h-1zM261.3 140.0h1v1h-1zM257.0 133.6h1v1h-1zM249.9 128.4h1v1h-1zM258.7 131.4h1v1h-1zM265.7 138.2h1v1h-1zM258.0 126.7h1v1h-1zM257.2 140.1h1v1h-1zM263.6 136.5h1v1h-1zM252.4 131.6h1v1h-1zM260.1 140.0h1v1h-1zM263.3 142.0h1v1h-1zM255.1 136.1h1v1h-1zM254.8 133.9h1v1h-1zM261.2 142.5h1v1h-1zM259.2 140.7h1v1h-1zM258.4 128.2h1v1h-1zM261.0 131.9h1v1h-1zM261.1 131.9h1v1h-1zM254.3 130.9h1v1h-1zM255.8 125.3h1v1h-1zM262.4 137.6h1v1h-1zM266.5 133.4h1v1h-1zM267.8 133.5h1v1h-1zM254.7 140.3h1v1h-1zM266.3 130.1h1v1h-1zM264.3 132.7h1v1h-1zM259.6 134.4h1v1h-1zM262.7 130.8h1v1h-1zM264.7 132.4h1v1h-1zM270.4 137.0h1v1h-1zM253.5 133.0h1v1h-1zM263.4 139.9h1v1h-1zM259.0 129.1h1v1h-1zM258.6 134.0h1v1h-1zM266.6 125.6h1v1h-1zM264.7 132.4h1v1h-1zM253.8 129.4h1v1h-1zM258.1 140.0h1v1h-1zM261.2 136.8h1v1h-1zM251.4 135.6h1v1h-1zM264.9 142.5h1v1h-1zM259.4 140.5h1v1h-1zM260.8 136.7h1v1h-1zM261.8 129.4h1v1h-1zM270.6 125.5h1v1h-1zM260.0 132.8h1v1h-1zM257.7 131.2h1v1h-1zM270.1 129.7h1v1h-1zM256.8 131.5h1v1h-1zM256.7 124.4h1v1h-1zM251.6 140.7h1v1h-1zM266.2 127.1h1v1h-1zM261.4 129.5h1v1h-1zM262.6 136.0h1v1h-1zM260.8 124.6h1v1h-1zM259.0 137.8h1v1h-1zM255.2 137.9h1v1h-1zM255.2 131.4h1v1h-1zM262.4 127.4h1v1h-1zM260.6 130.5h1v1h-1zM269.5 123.4h1v1h-1zM255.3 140.2h1v1h-1zM256.9 133.3h1v1h-1zM253.8 129.2h1v1h-1zM268.0 128.3h1v1h-1zM252.5 136.0h1v1h-1zM264.4 140.8h1v1h-1zM268.4 126.4h1v1h-1zM259.0 130.0h1v1h-1zM264.1 123.9h1v1h-1zM247.2 136.5h1v1h-1zM257.5 133.8h1v1h-1zM250.0 144.7h1v1h-1zM260.9 132.4h1v1h-1zM259.9 130.7h1v1h-1zM255.3 129.3h1v1h-1zM265.4 137.4h1v1h-1zM261.9 124.5h1v1h-1zM256.7 136.9h1v1h-1zM256.8 134.3h1v1h-1zM251.1 130.4h1v1h-1zM258.7 128.3h1v1h-1zM272.4 138.5h1v1h-1zM255.6 142.7h1v1h-1zM262.3 130.7h1v1h-1zM256.6 135.8h1v1h-1zM264.6 142.1h1v1h-1zM262.5 129.8h1v1h-1zM258.5 131.7h1v1h-1zM249.3 126.6h1v1h-1zM256.8 132.2h1v1h-1zM267.0 132.6h1v1h-1zM258.4 130.8h1v1h-1zM263.6 129.1h1v1h-1zM257.0 124.7h1v1h-1zM248.8 126.0h1v1h-1zM262.4 127.9h1v1h-1zM261.7 136.3h1v1h-1zM256.4 130.3h1v1h-1zM257.7 128.6h1v1h-1zM261.6 136.4h1v1h-1zM256.3 135.9h1v1h-1zM261.9 129.1h1v1h-1zM258.6 129.7h1v1h-1zM245.9 136.5h1v1h-1zM259.0 134.9h1v1h-1zM256.3 128.6h1v1h-1zM254.9 134.3h1v1h-1zM262.2 132.8h1v1h-1zM257.0 138.8h1v1h-1zM263.1 128.5h1v1h-1zM266.3 137.6h1v1h-1zM260.7 135.3h1v1h-1zM250.7 127.7h1v1h-1zM255.5 138.5h1v1h-1zM265.3 137.8h1v1h-1zM258.3 126.1h1v1h-1zM255.1 143.4h1v1h-1zM259.3 127.0h1v1h-1zM262.9 128.2h1v1h-1zM261.4 131.3h1v1h-1zM263.7 137.0h1v1h-1zM255.0 136.1h1v1h-1zM258.2 132.5h1v1h-1zM258.4 140.2h1v1h-1zM259.7 135.1h1v1h-1zM247.4 140.3h1v1h-1zM258.5 147.8h1v1h-1zM251.9 134.0h1v1h-1zM268.1 119.5h1v1h-1zM269.1 130.6h1v1h-1zM269.8 127.3h1v1h-1zM264.7 133.5h1v1h-1zM257.0 133.5h1v1h-1zM265.6 126.5h1v1h-1zM258.7 126.9h1v1h-1zM263.5 131.6h1v1h-1zM254.5 132.0h1v1h-1zM256.4 119.2h1v1h-1zM262.6 138.1h1v1h-1zM270.4 133.2h1v1h-1zM259.7 132.9h1v1h-1zM273.3 134.6h1v1h-1zM276.2 127.6h1v1h-1zM252.3 132.7h1v1h-1zM259.7 138.5h1v1h-1zM254.2 138.7h1v1h-1zM259.1 135.5h1v1h-1zM256.7 131.5h1v1h-1zM259.5 128.6h1v1h-1zM265.6 140.0h1v1h-1zM265.5 135.8h1v1h-1zM261.4 130.7h1v1h-1zM259.9 121.4h1v1h-1zM260.6 128.4h1v1h-1zM260.7 122.7h1v1h-1zM263.3 139.6h1v1h-1zM259.9 134.0h1v1h-1zM262.9 129.0h1v1h-1zM252.1 131.5h1v1h-1zM264.6 146.9h1v1h-1zM270.3 139.5h1v1h-1zM261.0 125.8h1v1h-1zM251.5 132.3h1v1h-1zM267.9 126.4h1v1h-1zM258.0 123.8h1v1h-1zM242.2 133.9h1v1h-1zM258.6 146.0h1v1h-1zM263.5 141.4h1v1h-1zM262.2 133.2h1v1h-1zM267.3 131.0h1v1h-1zM263.6 134.1h1v1h-1zM260.7 138.6h1v1h-1zM248.2 125.1h1v1h-1zM253.3 122.9h1v1h-1zM261.0 143.1h1v1h-1zM263.9 134.5h1v1h-1zM253.8 141.7h1v1h-1zM256.3 134.3h1v1h-1zM262.7 141.0h1v1h-1zM248.6 129.7h1v1h-1zM248.4 135.7h1v1h-1zM258.6 141.4h1v1h-1zM261.4 138.5h1v1h-1zM257.1 130.5h1v1h-1zM246.3 137.8h1v1h-1zM260.1 129.4h1v1h-1zM252.0 125.3h1v1h-1zM263.8 135.8h1v1h-1zM259.3 140.6h1v1h-1zM261.5 137.6h1v1h-1zM263.7 126.2h1v1h-1zM256.8 137.7h1v1h-1zM264.8 136.7h1v1h-1zM267.3 130.5h1v1h-1zM262.3 119.5h1v1h-1zM267.8 138.5h1v1h-1zM256.2 137.8h1v1h-1zM265.4 135.7h1v1h-1zM261.5 123.6h1v1h-1zM254.1 124.9h1v1h-1zM259.5 138.5h1v1h-1zM256.8 137.4h1v1h-1zM256.6 135.7h1v1h-1zM260.4 131.7h1v1h-1zM266.2 135.1h1v1h-1zM258.0 130.0h1v1h-1zM260.7 131.3h1v1h-1zM251.2 128.3h1v1h-1zM260.6 134.4h1v1h-1zM266.8 130.7h1v1h-1zM264.7 138.2h1v1h-1zM262.8 136.9h1v1h-1zM256.8 128.6h1v1h-1zM254.1 143.0h1v1h-1zM259.4 126.9h1v1h-1zM252.0 135.5h1v1h-1zM252.6 138.9h1v1h-1zM265.5 140.0h1v1h-1zM254.5 120.9h1v1h-1zM270.6 138.5h1v1h-1zM251.4 139.7h1v1h-1zM262.5 140.9h1v1h-1zM253.0 120.8h1v1h-1zM261.0 129.3h1v1h-1zM253.8 132.5h1v1h-1zM260.2 130.6h1v1h-1zM259.0 140.4h1v1h-1zM257.2 129.3h1v1h-1zM263.0 139.7h1v1h-1zM268.9 136.1h1v1h-1zM256.4 125.0h1v1h-1zM265.2 127.6h1v1h-1zM260.4 130.4h1v1h-1zM259.8 133.5h1v1h-1zM273.0 138.5h1v1h-1zM247.0 132.0h1v1h-1zM255.9 138.0h1v1h-1zM249.2 124.3h1v1h-1zM258.1 116.2h1v1h-1zM258.6 131.1h1v1h-1zM282.6 135.5h1v1h-1zM262.0 131.0h1v1h-1zM270.6 127.4h1v1h-1zM267.6 135.3h1v1h-1zM257.3 143.6h1v1h-1zM262.8 132.4h1v1h-1zM269.9 129.0h1v1h-1zM261.0 128.4h1v1h-1zM261.2 143.8h1v1h-1zM262.9 132.8h1v1h-1zM251.0 136.4h1v1h-1zM255.1 139.7h1v1h-1zM261.9 138.9h1v1h-1zM263.2 127.9h1v1h-1zM254.5 138.3h1v1h-1zM258.0 137.6h1v1h-1zM259.2 135.7h1v1h-1zM259.0 138.6h1v1h-1zM264.0 129.9h1v1h-1zM260.6 132.6h1v1h-1zM260.9 130.1h1v1h-1zM251.5 137.2h1v1h-1zM253.7 129.4h1v1h-1zM261.8 135.2h1v1h-1zM250.4 127.0h1v1h-1zM261.5 132.3h1v1h-1zM256.0 131.0h1v1h-1zM255.1 132.4h1v1h-1zM263.8 133.7h1v1h-1zM255.9 132.0h1v1h-1zM254.8 131.8h1v1h-1zM255.9 121.6h1v1h-1zM260.2 139.1h1v1h-1zM276.3 129.6h1v1h-1zM247.3 131.7h1v1h-1zM259.8 128.4h1v1h-1zM258.5 138.5h1v1h-1zM265.6 128.0h1v1h-1zM257.7 135.8h1v1h-1zM245.2 139.5h1v1h-1zM267.8 142.1h1v1h-1zM253.4 139.5h1v1h-1zM259.5 136.4h1v1h-1zM251.7 126.4h1v1h-1zM253.4 140.1h1v1h-1zM256.9 139.5h1v1h-1zM265.0 137.6h1v1h-1zM264.9 137.4h1v1h-1zM256.3 133.4h1v1h-1zM262.9 130.2h1v1h-1zM257.6 139.0h1v1h-1zM260.5 140.0h1v1h-1zM260.8 127.3h1v1h-1zM263.6 138.0h1v1h-1zM256.2 134.4h1v1h-1zM259.1 137.9h1v1h-1zM261.1 134.5h1v1h-1zM260.4 139.1h1v1h-1zM255.1 138.7h1v1h-1zM270.1 137.9h1v1h-1zM257.1 125.5h1v1h-1zM264.4 137.6h1v1h-1zM261.1 133.3h1v1h-1zM267.1 126.9h1v1h-1zM246.8 136.9h1v1h-1zM272.1 125.6h1v1h-1zM258.6 138.0h1v1h-1zM252.5 142.4h1v1h-1zM260.6 130.3h1v1h-1zM273.3 138.1h1v1h-1zM262.8 135.6h1v1h-1zM252.5 136.7h1v1h-1zM257.1 125.7h1v1h-1zM267.8 136.4h1v1h-1zM251.5 133.8h1v1h-1zM258.7 137.2h1v1h-1zM258.1 133.2h1v1h-1zM272.7 139.1h1v1h-1zM258.1 134.6h1v1h-1zM267.7 136.8h1v1h-1zM255.8 140.6h1v1h-1zM255.0 134.1h1v1h-1zM265.8 138.6h1v1h-1zM263.5 134.4h1v1h-1zM249.5 136.0h1v1h-1zM263.6 130.3h1v1h-1zM263.6 137.4h1v1h-1zM256.2 139.8h1v1h-1zM261.1 132.7h1v1h-1zM261.4 137.5h1v1h-1zM256.9 135.5h1v1h-1zM256.3 127.2h1v1h-1zM255.8 135.1h1v1h-1zM258.2 140.3h1v1h-1zM251.9 130.5h1v1h-1zM259.6 123.5h1v1h-1zM250.9 134.3h1v1h-1zM260.3 129.7h1v1h-1zM259.3 143.5h1v1h-1zM253.6 133.0h1v1h-1zM264.9 133.2h1v1h-1zM271.3 129.8h1v1h-1zM267.7 134.5h1v1h-1zM251.7 130.1h1v1h-1zM267.4 128.3h1v1h-1zM261.1 132.8h1v1h-1zM259.5 128.8h1v1h-1zM256.3 140.3h1v1h-1zM259.8 126.9h1v1h-1zM268.1 132.8h1v1h-1zM263.0 129.5h1v1h-1zM257.3 125.7h1v1h-1zM255.8 142.2h1v1h-1zM257.3 121.8h1v1h-1zM263.3 141.0h1v1h-1zM270.9 125.6h1v1h-1zM253.5 133.7h1v1h-1zM259.8 145.4h1v1h-1zM257.5 121.7h1v1h-1zM255.3 125.8h1v1h-1zM262.2 140.3h1v1h-1zM263.1 134.1h1v1h-1zM251.4 130.2h1v1h-1zM253.6 133.0h1v1h-1zM266.9 128.0h1v1h-1zM261.7 133.9h1v1h-1zM262.9 141.3h1v1h-1zM256.8 131.1h1v1h-1zM257.5 133.9h1v1h-1zM262.5 139.7h1v1h-1zM256.8 143.9h1v1h-1zM253.2 130.0h1v1h-1zM259.8 134.8h1v1h-1zM265.2 130.2h1v1h-1zM253.7 129.7h1v1h-1zM266.1 131.0h1v1h-1zM264.0 129.8h1v1h-1zM254.7 123.9h1v1h-1zM259.8 122.5h1v1h-1zM259.5 129.3h1v1h-1zM263.6 133.9h1v1h-1zM263.8 139.7h1v1h-1zM252.1 130.3h1v1h-1zM251.8 132.3h1v1h-1zM265.9 136.8h1v1h-1zM260.5 137.2h1v1h-1zM262.3 132.6h1v1h-1zM261.8 132.9h1v1h-1zM268.9 143.3h1v1h-1zM252.6 131.4h1v1h-1zM266.3 130.6h1v1h-1zM254.9 124.4h1v1h-1zM264.1 135.5h1v1h-1zM267.8 131.8h1v1h-1zM251.6 143.5h1v1h-1zM262.2 131.4h1v1h-1zM258.1 137.6h1v1h-1zM258.1 138.2h1v1h-1zM260.0 142.1h1v1h-1zM253.6 126.1h1v1h-1zM254.1 141.6h1v1h-1zM263.7 133.3h1v1h-1zM264.8 132.6h1v1h-1zM256.4 131.5h1v1h-1zM251.2 131.1h1v1h-1zM273.5 131.3h1v1h-1zM266.3 120.6h1v1h-1zM261.9 135.9h1v1h-1zM253.7 133.5h1v1h-1zM256.3 128.1h1v1h-1zM261.2 132.9h1v1h-1zM254.1 145.6h1v1h-1zM269.3 135.2h1v1h-1zM260.6 131.1h1v1h-1zM262.1 142.4h1v1h-1zM253.7 128.9h1v1h-1zM254.4 132.4h1v1h-1zM255.1 130.2h1v1h-1zM261.4 131.9h1v1h-1zM258.2 137.1h1v1h-1zM258.1 136.3h1v1h-1zM261.7 129.3h1v1h-1zM261.1 132.5h1v1h-1zM268.6 133.6h1v1h-1zM258.6 131.0h1v1h-1zM253.8 133.0h1v1h-1zM259.7 129.3h1v1h-1zM268.5 129.2h1v1h-1zM256.5 133.4h1v1h-1zM260.1 127.6h1v1h-1zM257.7 135.4h1v1h-1zM262.2 132.1h1v1h-1zM261.3 128.2h1v1h-1zM255.0 129.9h1v1h-1zM258.4 130.6h1v1h-1zM265.4 132.3h1v1h-1zM266.3 133.8h1v1h-1zM265.2 132.1h1v1h-1zM264.9 128.5h1v1h-1zM257.8 140.8h1v1h-1zM257.7 138.0h1v1h-1zM265.3 133.8h1v1h-1zM252.9 138.3h1v1h-1zM259.5 134.9h1v1h-1zM248.8 131.8h1v1h-1zM257.6 133.6h1v1h-1zM255.6 147.4h1v1h-1zM252.7 138.5h1v1h-1zM263.2 138.7h1v1h-1zM255.5 131.1h1v1h-1zM257.6 136.4h1v1h-1zM258.3 145.2h1v1h-1zM255.5 135.4h1v1h-1zM268.2 138.9h1v1h-1zM256.9 139.9h1v1h-1zM261.0 136.6h1v1h-1zM252.1 141.6h1v1h-1zM257.0 134.4h1v1h-1zM257.9 135.8h1v1h-1zM258.0 129.8h1v1h-1zM256.4 147.2h1v1h-1zM260.6 134.8h1v1h-1zM269.0 133.8h1v1h-1zM259.0 140.6h1v1h-1zM259.0 130.6h1v1h-1zM257.5 133.1h1v1h-1zM274.8 129.0h1v1h-1zM269.3 133.3h1v1h-1zM263.1 131.1h1v1h-1zM264.0 136.0h1v1h-1zM255.6 132.5h1v1h-1zM258.9 130.0h1v1h-1zM261.0 131.6h1v1h-1zM260.5 132.5h1v1h-1zM254.8 130.4h1v1h-1zM255.2 138.1h1v1h-1zM262.8 136.7h1v1h-1zM261.7 133.9h1v1h-1zM247.4 126.8h1v1h-1zM260.4 135.9h1v1h-1zM267.3 126.3h1v1h-1zM256.0 134.1h1v1h-1zM261.2 133.4h1v1h-1zM251.3 130.0h1v1h-1zM264.7 128.7h1v1h-1zM253.3 129.5h1v1h-1zM252.4 144.1h1v1h-1zM257.9 131.7h1v1h-1zM273.8 132.0h1v1h-1zM256.2 138.2h1v1h-1zM252.4 135.4h1v1h-1zM262.5 138.8h1v1h-1zM261.2 126.6h1v1h-1zM269.6 127.4h1v1h-1zM252.4 150.8h1v1h-1zM250.4 132.9h1v1h-1zM258.0 131.6h1v1h-1zM262.0 134.0h1v1h-1zM261.9 138.4h1v1h-1zM266.2 126.8h1v1h-1zM251.0 134.7h1v1h-1zM255.0 133.0h1v1h-1zM259.0 136.7h1v1h-1zM264.8 134.1h1v1h-1zM262.6 130.3h1v1h-1zM257.3 128.5h1v1h-1zM253.8 120.2h1v1h-1zM265.0 138.3h1v1h-1zM265.4 125.4h1v1h-1zM275.8 131.0h1v1h-1zM258.8 142.0h1v1h-1zM269.4 130.9h1v1h-1zM252.7 136.4h1v1h-1zM256.6 132.0h1v1h-1zM255.8 136.8h1v1h-1zM257.1 133.3h1v1h-1zM254.7 130.4h1v1h-1zM256.6 140.3h1v1h-1zM259.5 131.7h1v1h-1zM257.2 126.1h1v1h-1zM263.7 131.4h1v1h-1zM259.3 136.0h1v1h-1zM259.8 127.2h1v1h-1zM268.5 137.3h1v1h-1zM261.7 137.2h1v1h-1zM260.7 144.4h1v1h-1zM259.7 129.7h1v1h-1zM260.2 136.6h1v1h-1zM263.2 124.3h1v1h-1zM255.1 130.9h1v1h-1zM266.6 133.7h1v1h-1zM269.1 135.3h1v1h-1zM266.6 132.9h1v1h-1zM256.9 132.7h1v1h-1zM250.5 129.9h1v1h-1zM257.3 130.8h1v1h-1zM260.7 134.8h1v1h-1zM264.7 136.1h1v1h-1zM258.8 136.5h1v1h-1zM258.0 138.4h1v1h-1zM268.8 139.4h1v1h-1zM255.9 123.6h1v1h-1zM266.1 130.4h1v1h-1zM265.1 132.3h1v1h-1zM252.0 129.7h1v1h-1zM261.5 138.7h1v1h-1zM256.5 137.1h1v1h-1zM254.3 132.6h1v1h-1zM248.9 133.8h1v1h-1zM250.6 139.8h1v1h-1zM262.3 131.3h1v1h-1zM257.5 131.5h1v1h-1zM261.4 137.9h1v1h-1zM253.6 135.6h1v1h-1zM257.9 140.6h1v1h-1zM258.2 135.1h1v1h-1zM250.7 137.1h1v1h-1zM250.1 130.3h1v1h-1zM262.4 128.2h1v1h-1zM260.7 133.1h1v1h-1zM254.3 119.2h1v1h-1zM259.2 135.3h1v1h-1zM263.7 138.3h1v1h-1zM270.6 133.5h1v1h-1zM254.6 132.0h1v1h-1zM263.5 138.9h1v1h-1zM272.3 132.9h1v1h-1zM260.2 138.3h1v1h-1zM268.5 144.7h1v1h-1zM244.6 137.0h1v1h-1zM268.3 138.1h1v1h-1zM259.8 135.7h1v1h-1zM248.8 134.5h1v1h-1zM264.4 134.6h1v1h-1zM266.0 133.5h1v1h-1zM266.9 138.9h1v1h-1zM266.9 124.7h1v1h-1zM259.6 131.7h1v1h-1zM255.4 136.6h1v1h-1zM257.1 128.7h1v1h-1zM259.6 132.6h1v1h-1zM262.2 129.5h1v1h-1zM257.0 135.5h1v1h-1zM260.1 137.7h1v1h-1zM265.0 140.8h1v1h-1zM261.7 135.8h1v1h-1zM273.3 129.4h1v1h-1zM272.5 134.5h1v1h-1zM253.1 136.1h1v1h-1zM256.5 140.6h1v1h-1zM252.1 121.9h1v1h-1zM253.0 135.1h1v1h-1zM263.0 123.5h1v1h-1zM254.0 136.9h1v1h-1zM253.7 135.5h1v1h-1zM258.2 135.8h1v1h-1zM264.5 137.8h1v1h-1zM257.7 135.2h1v1h-1zM257.7 129.7h1v1h-1zM265.2 135.0h1v1h-1zM262.6 139.5h1v1h-1zM262.5 132.5h1v1h-1zM265.4 133.3h1v1h-1zM253.9 126.8h1v1h-1zM261.1 139.2h1v1h-1zM256.1 130.5h1v1h-1zM265.9 129.2h1v1h-1zM264.6 130.8h1v1h-1zM253.7 128.6h1v1h-1zM267.7 131.8h1v1h-1zM252.9 139.8h1v1h-1zM266.7 137.3h1v1h-1zM261.0 140.6h1v1h-1zM254.7 141.0h1v1h-1zM253.2 128.4h1v1h-1zM258.0 135.7h1v1h-1zM259.7 141.0h1v1h-1zM255.6 145.2h1v1h-1zM263.1 125.7h1v1h-1zM251.6 125.7h1v1h-1zM259.8 135.6h1v1h-1zM259.8 131.4h1v1h-1zM248.8 127.9h1v1h-1zM261.6 135.1h1v1h-1zM252.4 129.0h1v1h-1zM245.1 121.2h1v1h-1zM256.2 133.0h1v1h-1zM258.5 133.8h1v1h-1zM265.2 136.5h1v1h-1zM257.0 138.1h1v1h-1zM268.5 134.1h1v1h-1zM268.3 131.9h1v1h-1zM266.3 129.6h1v1h-1zM267.6 124.5h1v1h-1zM261.9 130.8h1v1h-1zM256.5 138.4h1v1h-1zM263.7 136.5h1v1h-1zM265.5 143.9h1v1h-1zM261.2 132.3h1v1h-1zM258.4 123.8h1v1h-1zM250.6 137.5h1v1h-1zM263.8 138.6h1v1h-1zM261.9 127.0h1v1h-1zM252.1 124.6h1v1h-1zM260.4 133.9h1v1h-1zM264.1 136.9h1v1h-1zM259.2 127.2h1v1h-1zM264.5 131.3h1v1h-1zM264.3 129.0h1v1h-1zM251.1 126.9h1v1h-1zM258.0 126.2h1v1h-1zM262.7 133.8h1v1h-1zM265.2 131.2h1v1h-1zM268.2 129.6h1v1h-1zM248.5 119.4h1v1h-1zM259.4 142.3h1v1h-1zM264.1 128.1h1v1h-1zM267.1 132.4h1v1h-1zM269.8 127.1h1v1h-1zM254.3 135.1h1v1h-1zM257.6 125.2h1v1h-1zM253.6 133.6h1v1h-1zM264.7 132.1h1v1h-1zM252.0 137.9h1v1h-1zM266.8 127.3h1v1h-1zM265.4 129.7h1v1h-1zM262.7 131.8h1v1h-1zM247.0 144.1h1v1h-1zM255.8 125.3h1v1h-1zM264.3 134.6h1v1h-1zM251.4 129.6h1v1h-1zM258.4 134.7h1v1h-1zM259.2 136.5h1v1h-1zM265.1 133.8h1v1h-1zM261.5 134.4h1v1h-1zM261.4 134.5h1v1h-1zM257.2 130.0h1v1h-1zM259.8 131.9h1v1h-1zM259.0 124.4h1v1h-1zM264.1 131.2h1v1h-1zM258.8 129.0h1v1h-1zM265.9 131.7h1v1h-1zM249.7 136.9h1v1h-1zM266.9 135.1h1v1h-1zM258.8 135.5h1v1h-1zM266.5 138.8h1v1h-1zM260.3 120.5h1v1h-1zM264.9 135.3h1v1h-1zM268.7 132.9h1v1h-1zM256.5 132.5h1v1h-1zM260.3 126.2h1v1h-1zM258.8 135.9h1v1h-1zM261.0 139.1h1v1h-1zM250.2 138.4h1v1h-1zM258.8 132.6h1v1h-1zM258.3 136.4h1v1h-1zM255.1 137.9h1v1h-1zM258.7 142.6h1v1h-1zM250.7 139.5h1v1h-1zM268.1 133.8h1v1h-1zM262.5 133.5h1v1h-1zM271.0 133.9h1v1h-1zM254.6 134.2h1v1h-1zM252.9 130.4h1v1h-1zM261.5 137.1h1v1h-1zM249.9 129.4h1v1h-1zM261.1 128.8h1v1h-1zM255.6 134.9h1v1h-1zM257.8 130.0h1v1h-1zM261.3 131.7h1v1h-1zM260.1 122.1h1v1h-1zM270.8 137.2h1v1h-1zM263.5 133.0h1v1h-1zM252.1 132.4h1v1h-1zM265.6 135.5h1v1h-1zM251.9 134.1h1v1h-1zM260.3 129.3h1v1h-1zM252.4 143.5h1v1h-1zM254.9 130.7h1v1h-1zM267.6 138.1h1v1h-1zM256.5 142.6h1v1h-1zM256.0 129.8h1v1h-1zM256.5 133.5h1v1h-1zM257.9 128.7h1v1h-1zM268.3 138.5h1v1h-1zM252.8 131.3h1v1h-1zM252.5 127.2h1v1h-1zM263.2 139.9h1v1h-1zM250.3 137.8h1v1h-1zM257.6 128.4h1v1h-1zM266.5 139.2h1v1h-1zM259.8 134.0h1v1h-1zM256.9 147.3h1v1h-1zM255.6 142.0h1v1h-1zM254.3 130.1h1v1h-1zM256.3 131.6h1v1h-1zM260.6 128.4h1v1h-1zM267.1 133.7h1v1h-1zM265.5 133.3h1v1h-1zM256.4 136.9h1v1h-1zM255.4 133.5h1v1h-1zM263.9 125.3h1v1h-1zM249.0 128.7h1v1h-1zM257.1 140.4h1v1h-1zM257.8 139.1h1v1h-1zM253.1 132.2h1v1h-1zM253.8 132.3h1v1h-1zM261.8 132.1h1v1h-1zM249.9 133.1h1v1h-1zM254.3 124.2h1v1h-1zM255.9 137.7h1v1h-1zM260.2 129.5h1v1h-1zM251.6 133.8h1v1h-1zM266.1 119.7h1v1h-1zM257.9 134.2h1v1h-1zM258.1 140.0h1v1h-1zM257.5 121.3h1v1h-1zM255.7 141.0h1v1h-1zM253.8 135.5h1v1h-1zM266.5 129.2h1v1h-1zM260.9 124.7h1v1h-1zM259.0 139.1h1v1h-1zM265.5 134.4h1v1h-1zM255.4 136.1h1v1h-1zM263.4 131.6h1v1h-1zM259.8 128.8h1v1h-1zM254.4 137.6h1v1h-1zM264.1 128.0h1v1h-1zM250.8 137.7h1v1h-1zM263.5 124.2h1v1h-1zM254.4 128.1h1v1h-1zM262.0 125.4h1v1h-1zM267.8 139.9h1v1h-1zM262.9 123.8h1v1h-1zM256.0 127.0h1v1h-1zM259.4 136.5h1v1h-1zM257.4 134.2h1v1h-1zM252.6 144.5h1v1h-1zM253.0 142.7h1v1h-1zM259.8 136.2h1v1h-1zM262.7 136.6h1v1h-1zM249.1 123.4h1v1h-1zM259.1 128.4h1v1h-1zM262.5 131.3h1v1h-1zM260.2 132.1h1v1h-1zM253.6 125.8h1v1h-1zM265.6 128.1h1v1h-1zM252.3 128.5h1v1h-1zM263.3 138.6h1v1h-1zM269.0 135.2h1v1h-1zM247.5 131.3h1v1h-1zM261.0 131.5h1v1h-1zM261.3 134.5h1v1h-1zM260.8 129.3h1v1h-1zM255.0 131.6h1v1h-1zM257.6 123.9h1v1h-1zM251.2 136.5h1v1h-1zM260.3 138.1h1v1h-1zM262.6 134.9h1v1h-1zM255.5 135.5h1v1h-1zM254.0 134.9h1v1h-1zM256.7 143.7h1v1h-1zM259.4 134.1h1v1h-1zM259.8 126.0h1v1h-1zM258.8 127.5h1v1h-1zM259.9 136.7h1v1h-1zM251.7 138.6h1v1h-1zM243.4 137.1h1v1h-1zM263.1 137.4h1v1h-1zM267.8 134.0h1v1h-1zM251.1 125.2h1v1h-1zM255.5 129.3h1v1h-1zM261.2 123.5h1v1h-1zM265.0 131.0h1v1h-1zM263.2 125.8h1v1h-1zM267.0 133.5h1v1h-1zM259.1 132.1h1v1h-1zM261.9 122.7h1v1h-1zM261.8 136.8h1v1h-1zM256.9 137.0h1v1h-1zM266.5 125.7h1v1h-1zM263.1 133.7h1v1h-1zM265.2 136.8h1v1h-1zM257.1 131.4h1v1h-1zM265.5 137.5h1v1h-1zM253.2 134.0h1v1h-1zM261.7 138.6h1v1h-1zM244.0 133.9h1v1h-1zM253.5 132.1h1v1h-1zM263.7 135.7h1v1h-1zM256.8 137.1h1v1h-1zM260.4 134.3h1v1h-1zM249.9 130.6h1v1h-1zM268.5 128.8h1v1h-1zM262.9 131.0h1v1h-1zM259.3 129.9h1v1h-1zM261.8 134.0h1v1h-1zM261.3 133.8h1v1h-1zM267.7 132.5h1v1h-1zM260.7 132.9h1v1h-1zM250.8 133.8h1v1h-1zM257.9 141.2h1v1h-1zM266.9 139.3h1v1h-1zM262.7 129.9h1v1h-1zM256.9 135.2h1v1h-1zM263.0 131.2h1v1h-1zM260.1 132.4h1v1h-1zM263.0 131.6h1v1h-1zM250.1 129.6h1v1h-1zM254.1 125.7h1v1h-1zM263.3 119.9h1v1h-1zM258.1 134.0h1v1h-1zM261.5 139.2h1v1h-1zM270.9 128.1h1v1h-1zM257.6 135.6h1v1h-1zM260.8 130.9h1v1h-1zM256.1 134.4h1v1h-1zM255.7 128.6h1v1h-1zM259.0 131.7h1v1h-1zM250.9 132.3h1v1h-1zM247.1 120.3h1v1h-1zM267.4 134.0h1v1h-1zM258.8 132.2h1v1h-1zM266.0 119.7h1v1h-1zM260.1 136.3h1v1h-1zM260.3 132.7h1v1h-1zM263.3 134.0h1v1h-1zM263.6 134.8h1v1h-1zM252.3 130.7h1v1h-1zM266.5 127.2h1v1h-1zM253.7 130.5h1v1h-1zM260.6 130.6h1v1h-1zM274.4 144.7h1v1h-1zM259.9 142.7h1v1h-1zM269.2 130.3h1v1h-1zM257.4 130.7h1v1h-1zM263.0 134.6h1v1h-1zM259.7 135.9h1v1h-1zM261.9 129.2h1v1h-1zM254.4 127.5h1v1h-1zM254.0 143.2h1v1h-1zM261.4 138.5h1v1h-1zM250.2 124.6h1v1h-1zM254.5 123.5h1v1h-1zM263.2 128.5h1v1h-1zM255.8 134.0h1v1h-1zM254.2 135.8h1v1h-1zM252.9 131.0h1v1h-1zM260.3 124.2h1v1h-1zM257.3 134.0h1v1h-1zM260.3 136.1h1v1h-1zM258.3 132.8h1v1h-1zM270.3 130.2h1v1h-1zM256.9 135.9h1v1h-1zM247.9 132.5h1v1h-1zM260.1 126.9h1v1h-1zM259.4 133.3h1v1h-1zM260.3 125.9h1v1h-1zM250.0 138.0h1v1h-1zM266.0 135.3h1v1h-1zM259.2 127.5h1v1h-1zM259.2 134.0h1v1h-1zM250.1 139.5h1v1h-1zM262.2 121.4h1v1h-1zM259.0 132.1h1v1h-1zM267.3 141.6h1v1h-1zM257.0 124.5h1v1h-1zM252.2 131.9h1v1h-1zM260.2 125.2h1v1h-1zM254.1 132.5h1v1h-1zM261.8 120.0h1v1h-1zM253.1 124.1h1v1h-1zM258.7 130.0h1v1h-1zM258.1 133.6h1v1h-1zM259.2 134.9h1v1h-1zM256.4 135.1h1v1h-1zM254.7 139.0h1v1h-1zM259.1 136.6h1v1h-1zM256.0 136.8h1v1h-1zM260.3 127.6h1v1h-1zM257.8 132.0h1v1h-1zM246.3 149.9h1v1h-1zM259.1 145.0h1v1h-1zM267.5 137.3h1v1h-1zM261.2 136.8h1v1h-1zM262.9 138.2h1v1h-1zM262.1 130.7h1v1h-1zM256.7 143.4h1v1h-1zM251.6 130.8h1v1h-1zM264.1 132.4h1v1h-1zM265.6 144.6h1v1h-1zM262.7 121.6h1v1h-1zM261.9 134.8h1v1h-1zM261.7 123.5h1v1h-1zM259.3 129.3h1v1h-1zM261.0 132.3h1v1h-1zM259.5 130.9h1v1h-1zM261.3 133.8h1v1h-1zM253.9 128.7h1v1h-1zM255.8 132.3h1v1h-1zM262.7 126.4h1v1h-1zM257.4 130.7h1v1h-1zM245.4 125.3h1v1h-1zM260.1 136.4h1v1h-1zM246.2 125.8h1v1h-1zM270.5 136.6h1v1h-1zM263.6 130.6h1v1h-1zM263.3 131.2h1v1h-1zM255.6 139.2h1v1h-1zM252.9 133.4h1v1h-1zM258.2 122.6h1v1h-1zM259.5 135.5h1v1h-1zM255.0 117.1h1v1h-1zM285.3 84.7h1v1h-1zM282.6 77.0h1v1h-1zM275.0 78.7h1v1h-1zM283.0 88.3h1v1h-1zM275.3 106.7h1v1h-1zM295.3 93.8h1v1h-1zM276.0 100.7h1v1h-1zM294.3 95.8h1v1h-1zM297.1 70.5h1v1h-1zM277.5 90.2h1v1h-1zM279.2 78.5h1v1h-1zM294.7 77.7h1v1h-1zM284.3 77.6h1v1h-1zM279.2 104.6h1v1h-1zM284.8 72.8h1v1h-1zM276.0 79.9h1v1h-1zM277.2 97.8h1v1h-1zM274.5 92.2h1v1h-1zM276.5 69.3h1v1h-1zM280.9 86.3h1v1h-1zM295.8 86.2h1v1h-1zM293.9 88.9h1v1h-1zM280.3 94.6h1v1h-1zM284.9 82.7h1v1h-1zM286.8 85.8h1v1h-1zM288.1 103.7h1v1h-1zM289.3 71.3h1v1h-1zM280.3 83.5h1v1h-1zM278.8 91.4h1v1h-1zM293.3 78.3h1v1h-1zM301.6 86.7h1v1h-1zM281.6 74.5h1v1h-1zM268.4 85.5h1v1h-1zM289.6 83.5h1v1h-1zM280.1 94.9h1v1h-1zM281.0 97.5h1v1h-1zM290.8 90.4h1v1h-1zM284.0 84.4h1v1h-1zM273.0 87.8h1v1h-1zM269.2 84.8h1v1h-1zM285.3 76.4h1v1h-1zM272.1 95.6h1v1h-1zM284.0 90.4h1v1h-1zM272.0 92.8h1v1h-1zM283.6 74.6h1v1h-1zM270.5 93.2h1v1h-1zM274.9 106.6h1v1h-1zM278.0 92.7h1v1h-1zM290.2 75.4h1v1h-1zM291.5 90.5h1v1h-1zM281.5 86.9h1v1h-1zM276.2 88.2h1v1h-1zM296.3 89.1h1v1h-1zM283.8 93.0h1v1h-1zM287.9 84.6h1v1h-1zM286.1 91.0h1v1h-1zM294.1 84.0h1v1h-1zM289.2 90.5h1v1h-1zM284.7 98.2h1v1h-1zM289.0 84.6h1v1h-1zM275.2 92.4h1v1h-1zM280.7 78.5h1v1h-1zM282.8 84.1h1v1h-1zM283.8 85.7h1v1h-1zM279.6 99.3h1v1h-1zM286.6 81.2h1v1h-1zM279.8 99.1h1v1h-1zM283.4 73.4h1v1h-1zM272.1 83.4h1v1h-1zM286.0 97.7h1v1h-1zM284.8 95.3h1v1h-1zM279.2 76.8h1v1h-1zM289.0 77.3h1v1h-1zM283.1 96.6h1v1h-1zM286.2 76.2h1v1h-1zM268.8 89.8h1v1h-1zM275.8 80.7h1v1h-1zM278.6 86.6h1v1h-1zM287.8 112.1h1v1h-1zM273.0 100.6h1v1h-1zM278.2 94.9h1v1h-1zM278.5 73.0h1v1h-1zM278.5 89.8h1v1h-1zM284.8 88.8h1v1h-1zM268.9 83.0h1v1h-1zM260.2 95.0h1v1h-1zM291.4 73.0h1v1h-1zM282.1 90.7h1v1h-1zM278.2 87.8h1v1h-1zM291.0 82.5h1v1h-1zM284.9 105.5h1v1h-1zM271.6 72.2h1v1h-1zM281.4 87.7h1v1h-1zM289.9 90.5h1v1h-1zM283.6 66.2h1v1h-1zM284.1 73.9h1v1h-1zM291.5 80.4h1v1h-1zM278.9 94.5h1v1h-1zM272.2 94.3h1v1h-1zM276.5 92.0h1v1h-1zM273.1 87.5h1v1h-1zM291.8 68.3h1v1h-1zM270.4 86.6h1v1h-1zM290.7 84.7h1v1h-1zM268.6 95.6h1v1h-1zM279.6 100.3h1v1h-1zM267.2 105.8h1v1h-1zM278.7 93.7h1v1h-1zM287.5 97.1h1v1h-1zM292.8 80.1h1v1h-1zM291.2 90.8h1v1h-1zM285.1 76.0h1v1h-1zM281.1 96.2h1v1h-1zM287.2 77.0h1v1h-1zM287.3 86.8h1v1h-1zM282.0 79.3h1v1h-1zM291.2 85.3h1v1h-1zM283.7 92.5h1v1h-1zM291.8 84.5h1v1h-1zM285.3 90.6h1v1h-1zM289.7 79.6h1v1h-1zM274.2 99.3h1v1h-1zM281.4 80.9h1v1h-1zM271.4 94.7h1v1h-1zM275.3 107.0h1v1h-1zM287.5 64.7h1v1h-1zM290.8 79.9h1v1h-1zM274.6 83.5h1v1h-1zM301.6 104.4h1v1h-1zM283.0 82.9h1v1h-1zM290.2 93.5h1v1h-1zM291.5 82.7h1v1h-1zM264.2 88.3h1v1h-1zM283.9 75.9h1v1h-1zM290.5 98.1h1v1h-1zM273.7 55.4h1v1h-1zM292.6 71.4h1v1h-1zM271.9 102.9h1v1h-1zM279.1 88.4h1v1h-1zM286.4 79.7h1v1h-1zM264.5 104.8h1v1h-1zM281.3 97.8h1v1h-1zM275.4 97.0h1v1h-1zM278.6 82.3h1v1h-1zM285.8 94.7h1v1h-1zM305.1 98.7h1v1h-1zM289.1 72.8h1v1h-1zM284.9 94.2h1v1h-1zM282.8 85.8h1v1h-1zM274.5 98.3h1v1h-1zM281.1 100.3h1v1h-1zM294.5 84.4h1v1h-1zM285.4 82.3h1v1h-1zM288.2 91.0h1v1h-1zM279.5 93.3h1v1h-1zM300.7 88.3h1v1h-1zM271.8 83.5h1v1h-1zM285.1 94.4h1v1h-1zM285.2 92.5h1v1h-1zM281.5 99.0h1v1h-1zM274.5 87.8h1v1h-1zM277.2 77.2h1v1h-1zM285.5 70.6h1v1h-1zM281.3 95.4h1v1h-1zM275.3 82.3h1v1h-1zM276.3 82.4h1v1h-1zM287.1 85.9h1v1h-1zM293.5 74.7h1v1h-1zM279.8 82.9h1v1h-1zM284.4 61.9h1v1h-1zM278.7 82.5h1v1h-1zM301.6 83.7h1v1h-1zM281.3 105.7h1v1h-1zM281.0 91.6h1v1h-1zM289.9 87.4h1v1h-1zM297.7 93.2h1v1h-1zM288.7 96.5h1v1h-1zM274.8 77.9h1v1h-1zM282.6 85.2h1v1h-1zM280.8 83.5h1v1h-1zM274.0 110.3h1v1h-1zM274.2 86.0h1v1h-1zM284.9 68.4h1v1h-1zM273.2 93.1h1v1h-1zM278.4 112.5h1v1h-1zM285.3 78.6h1v1h-1zM264.2 117.7h1v1h-1zM271.2 83.8h1v1h-1zM276.8 96.1h1v1h-1zM288.4 83.4h1v1h-1zM286.6 85.9h1v1h-1zM285.2 75.8h1v1h-1zM262.9 71.6h1v1h-1zM284.6 66.4h1v1h-1zM274.7 97.0h1v1h-1zM283.2 76.1h1v1h-1zM273.4 88.8h1v1h-1zM278.8 89.8h1v1h-1zM279.7 80.2h1v1h-1zM300.9 92.9h1v1h-1zM287.6 87.9h1v1h-1zM282.5 82.5h1v1h-1zM282.1 87.9h1v1h-1zM281.6 87.8h1v1h-1zM286.4 78.2h1v1h-1zM283.1 74.5h1v1h-1zM284.6 79.5h1v1h-1zM289.2 90.5h1v1h-1zM284.7 102.1h1v1h-1zM281.0 101.9h1v1h-1zM290.8 92.9h1v1h-1zM281.7 96.8h1v1h-1zM275.6 86.9h1v1h-1zM267.9 94.8h1v1h-1zM277.5 87.4h1v1h-1zM281.2 91.1h1v1h-1zM286.0 85.5h1v1h-1zM289.9 89.4h1v1h-1zM273.9 104.4h1v1h-1zM280.2 74.7h1v1h-1zM287.8 88.9h1v1h-1zM292.1 84.0h1v1h-1zM276.9 95.7h1v1h-1zM280.3 105.3h1v1h-1zM292.7 87.0h1v1h-1zM291.8 61.8h1v1h-1zM280.7 93.2h1v1h-1zM266.9 89.5h1v1h-1zM295.9 73.9h1v1h-1zM287.6 86.3h1v1h-1zM283.6 87.0h1v1h-1zM285.3 64.7h1v1h-1zM272.4 91.6h1v1h-1zM280.8 91.4h1v1h-1zM281.3 89.5h1v1h-1zM292.7 79.4h1v1h-1zM276.2 78.5h1v1h-1zM294.0 84.0h1v1h-1zM281.6 92.0h1v1h-1zM293.1 80.2h1v1h-1zM272.3 99.6h1v1h-1zM284.0 91.6h1v1h-1zM296.4 68.9h1v1h-1zM279.1 103.6h1v1h-1zM272.2 86.3h1v1h-1zM281.8 81.6h1v1h-1zM286.0 89.4h1v1h-1zM277.8 67.5h1v1h-1zM272.3 86.6h1v1h-1zM290.5 64.4h1v1h-1zM278.8 75.9h1v1h-1zM283.8 101.5h1v1h-1zM271.4 97.3h1v1h-1zM271.0 80.8h1v1h-1zM279.8 76.8h1v1h-1zM290.3 99.0h1v1h-1zM276.9 85.3h1v1h-1zM282.0 89.4h1v1h-1zM282.7 93.8h1v1h-1zM278.9 75.4h1v1h-1zM288.0 96.9h1v1h-1zM289.2 67.5h1v1h-1zM281.9 102.1h1v1h-1zM275.2 69.3h1v1h-1zM272.4 78.2h1v1h-1zM265.7 76.0h1v1h-1zM279.5 94.0h1v1h-1zM279.2 94.1h1v1h-1zM286.6 92.1h1v1h-1zM291.3 95.2h1v1h-1zM279.7 91.4h1v1h-1zM281.0 86.2h1v1h-1zM290.6 69.9h1v1h-1zM298.9 68.1h1v1h-1zM283.0 63.8h1v1h-1zM287.0 88.0h1v1h-1zM281.6 84.7h1v1h-1zM280.7 85.4h1v1h-1zM287.6 90.9h1v1h-1zM277.9 83.6h1v1h-1zM278.0 75.8h1v1h-1zM291.0 74.1h1v1h-1zM287.3 69.1h1v1h-1zM277.8 98.4h1v1h-1zM279.4 95.7h1v1h-1zM289.5 75.2h1v1h-1zM280.9 84.0h1v1h-1zM286.7 92.9h1v1h-1zM281.4 103.3h1v1h-1zM294.2 84.2h1v1h-1zM290.8 91.2h1v1h-1zM285.5 99.9h1v1h-1zM285.8 70.3h1v1h-1zM285.4 80.5h1v1h-1zM278.8 85.8h1v1h-1zM303.8 85.5h1v1h-1zM275.8 107.1h1v1h-1zM284.2 96.6h1v1h-1zM291.4 91.6h1v1h-1zM275.9 75.6h1v1h-1zM274.9 94.1h1v1h-1zM278.4 92.6h1v1h-1zM277.3 80.5h1v1h-1zM275.2 80.8h1v1h-1zM283.0 72.3h1v1h-1zM291.6 88.8h1v1h-1zM285.4 96.8h1v1h-1zM280.4 96.9h1v1h-1zM281.4 92.8h1v1h-1zM269.3 92.1h1v1h-1zM288.9 82.8h1v1h-1zM286.8 83.5h1v1h-1zM272.3 96.8h1v1h-1zM283.0 91.9h1v1h-1zM283.4 79.2h1v1h-1zM277.9 91.1h1v1h-1zM273.9 93.4h1v1h-1zM276.3 92.8h1v1h-1zM276.1 86.5h1v1h-1zM287.2 83.1h1v1h-1zM284.2 91.7h1v1h-1zM280.6 104.0h1v1h-1zM281.1 88.3h1v1h-1zM281.7 80.1h1v1h-1zM295.7 94.1h1v1h-1zM273.3 72.0h1v1h-1zM290.2 91.6h1v1h-1zM285.9 85.0h1v1h-1zM280.7 96.5h1v1h-1zM279.0 87.3h1v1h-1zM278.6 96.8h1v1h-1zM268.8 107.0h1v1h-1zM273.9 82.6h1v1h-1zM284.1 79.0h1v1h-1zM270.4 88.6h1v1h-1zM288.6 87.9h1v1h-1zM289.9 90.6h1v1h-1zM261.0 75.2h1v1h-1zM270.8 89.7h1v1h-1zM284.4 88.3h1v1h-1zM289.7 66.9h1v1h-1zM284.1 85.1h1v1h-1zM284.7 91.1h1v1h-1zM284.8 99.8h1v1h-1zM290.1 83.2h1v1h-1zM296.9 82.7h1v1h-1zM280.0 98.2h1v1h-1zM290.2 82.9h1v1h-1zM271.5 85.2h1v1h-1zM280.7 91.4h1v1h-1zM272.6 92.0h1v1h-1zM292.2 89.8h1v1h-1zM301.4 80.8h1v1h-1zM283.8 97.8h1v1h-1zM275.1 80.7h1v1h-1zM283.3 82.0h1v1h-1zM277.8 106.4h1v1h-1zM281.9 95.9h1v1h-1zM292.8 79.0h1v1h-1zM290.5 84.3h1v1h-1zM265.5 80.0h1v1h-1zM293.9 82.5h1v1h-1zM284.3 68.0h1v1h-1zM277.0 93.8h1v1h-1zM290.4 97.1h1v1h-1zM280.4 89.0h1v1h-1zM274.5 80.8h1v1h-1zM273.3 86.8h1v1h-1zM281.5 93.3h1v1h-1zM291.6 78.9h1v1h-1zM293.8 86.7h1v1h-1zM283.1 81.5h1v1h-1zM277.8 92.9h1v1h-1zM293.1 92.6h1v1h-1zM283.0 73.9h1v1h-1zM294.2 83.9h1v1h-1zM279.9 104.4h1v1h-1zM286.9 78.3h1v1h-1zM280.8 88.1h1v1h-1zM286.4 81.7h1v1h-1zM276.5 98.2h1v1h-1zM278.4 85.3h1v1h-1zM283.0 82.7h1v1h-1zM281.4 74.8h1v1h-1zM285.5 85.3h1v1h-1zM281.3 95.2h1v1h-1zM279.3 93.0h1v1h-1zM284.8 74.2h1v1h-1zM277.3 101.5h1v1h-1zM295.2 87.9h1v1h-1zM285.4 77.1h1v1h-1zM278.5 87.2h1v1h-1zM282.4 80.7h1v1h-1zM288.8 82.8h1v1h-1zM283.1 80.7h1v1h-1zM282.0 86.0h1v1h-1zM282.4 81.9h1v1h-1zM288.3 71.1h1v1h-1zM284.1 92.8h1v1h-1zM287.1 82.9h1v1h-1zM268.7 95.5h1v1h-1zM274.2 90.2h1v1h-1zM263.5 88.2h1v1h-1zM287.8 90.3h1v1h-1zM287.0 101.4h1v1h-1zM292.4 86.3h1v1h-1zM286.3 77.9h1v1h-1zM289.7 92.4h1v1h-1zM289.5 61.2h1v1h-1zM282.9 83.3h1v1h-1zM271.9 86.3h1v1h-1zM278.6 81.7h1v1h-1zM275.6 97.9h1v1h-1zM287.2 95.4h1v1h-1zM293.7 91.1h1v1h-1zM280.7 82.4h1v1h-1zM282.5 98.1h1v1h-1zM286.4 81.1h1v1h-1zM278.6 81.7h1v1h-1zM269.3 91.0h1v1h-1zM276.2 91.3h1v1h-1zM267.9 103.7h1v1h-1zM281.2 84.4h1v1h-1zM286.6 68.9h1v1h-1zM279.9 93.0h1v1h-1zM278.5 98.7h1v1h-1zM286.5 86.3h1v1h-1zM272.6 100.1h1v1h-1zM284.3 105.5h1v1h-1zM273.2 77.7h1v1h-1zM284.4 82.6h1v1h-1zM288.6 75.9h1v1h-1zM276.1 90.7h1v1h-1zM270.2 90.9h1v1h-1zM285.6 93.9h1v1h-1zM281.4 74.1h1v1h-1zM290.0 81.2h1v1h-1zM291.6 74.8h1v1h-1zM286.9 71.7h1v1h-1zM286.2 74.2h1v1h-1zM293.5 73.8h1v1h-1zM285.8 86.0h1v1h-1zM275.4 89.3h1v1h-1zM282.4 93.2h1v1h-1zM286.6 87.8h1v1h-1zM285.9 81.0h1v1h-1zM284.1 87.2h1v1h-1zM280.4 92.1h1v1h-1zM282.8 84.0h1v1h-1zM276.4 85.8h1v1h-1zM273.9 81.5h1v1h-1zM291.7 84.0h1v1h-1zM278.4 86.1h1v1h-1zM287.1 76.8h1v1h-1zM270.0 94.2h1v1h-1zM287.8 72.5h1v1h-1zM276.1 89.8h1v1h-1zM306.2 79.4h1v1h-1zM272.1 99.4h1v1h-1zM274.1 93.4h1v1h-1zM291.2 81.0h1v1h-1zM291.6 84.8h1v1h-1zM271.5 72.5h1v1h-1zM284.7 86.9h1v1h-1zM287.7 92.4h1v1h-1zM268.1 108.9h1v1h-1zM290.9 75.3h1v1h-1zM276.1 97.7h1v1h-1zM277.6 79.7h1v1h-1zM279.8 88.9h1v1h-1zM277.5 94.4h1v1h-1zM272.1 89.6h1v1h-1zM296.8 95.0h1v1h-1zM280.2 84.3h1v1h-1zM277.8 85.5h1v1h-1zM288.2 89.9h1v1h-1zM279.3 98.1h1v1h-1zM295.5 75.5h1v1h-1zM282.3 81.8h1v1h-1zM288.3 75.8h1v1h-1zM285.9 78.0h1v1h-1zM285.9 79.7h1v1h-1zM278.6 96.9h1v1h-1zM276.7 107.0h1v1h-1zM290.6 102.8h1v1h-1zM281.2 74.5h1v1h-1zM278.9 86.7h1v1h-1zM283.4 75.6h1v1h-1zM285.5 92.2h1v1h-1zM282.3 99.7h1v1h-1zM287.6 94.2h1v1h-1zM271.6 92.8h1v1h-1zM284.9 86.0h1v1h-1zM286.6 68.0h1v1h-1zM285.9 67.7h1v1h-1zM284.2 86.3h1v1h-1zM268.1 88.8h1v1h-1zM281.4 99.4h1v1h-1zM284.7 83.9h1v1h-1zM273.0 85.1h1v1h-1zM281.5 89.2h1v1h-1zM290.5 99.8h1v1h-1zM280.4 85.6h1v1h-1zM289.5 77.7h1v1h-1zM278.6 96.7h1v1h-1zM276.3 89.4h1v1h-1zM275.7 88.9h1v1h-1zM283.4 74.2h1v1h-1zM291.5 89.2h1v1h-1zM292.6 72.2h1v1h-1zM283.1 66.8h1v1h-1zM290.1 86.5h1v1h-1zM283.0 82.6h1v1h-1zM276.7 91.1h1v1h-1zM282.0 101.3h1v1h-1zM276.8 85.0h1v1h-1zM267.8 101.0h1v1h-1zM293.0 83.7h1v1h-1zM268.6 90.9h1v1h-1zM289.6 76.0h1v1h-1zM272.3 85.4h1v1h-1zM283.4 83.9h1v1h-1zM282.0 84.6h1v1h-1zM278.4 91.7h1v1h-1zM272.9 65.3h1v1h-1zM281.8 87.8h1v1h-1zM284.6 79.2h1v1h-1zM276.5 86.4h1v1h-1zM281.4 90.5h1v1h-1zM290.4 85.2h1v1h-1zM279.0 82.2h1v1h-1zM287.4 76.5h1v1h-1zM273.7 90.1h1v1h-1zM287.1 81.3h1v1h-1zM286.0 92.3h1v1h-1zM303.0 78.0h1v1h-1zM285.4 101.5h1v1h-1zM288.3 78.1h1v1h-1zM289.3 100.4h1v1h-1zM277.3 80.9h1v1h-1zM288.6 94.0h1v1h-1zM279.6 84.6h1v1h-1zM277.0 92.2h1v1h-1zM290.1 89.0h1v1h-1zM281.2 99.3h1v1h-1zM290.0 95.6h1v1h-1zM271.5 90.8h1v1h-1zM280.4 103.2h1v1h-1zM281.1 79.4h1v1h-1zM277.8 98.7h1v1h-1zM270.0 84.2h1v1h-1zM292.8 74.7h1v1h-1zM283.0 91.8h1v1h-1zM276.8 83.3h1v1h-1zM269.6 100.4h1v1h-1zM278.3 80.8h1v1h-1zM292.0 89.9h1v1h-1zM281.6 89.0h1v1h-1zM285.4 68.4h1v1h-1zM284.9 92.6h1v1h-1zM285.5 77.6h1v1h-1zM280.9 100.6h1v1h-1zM283.6 104.0h1v1h-1zM285.1 87.5h1v1h-1zM292.7 73.6h1v1h-1zM274.5 86.6h1v1h-1zM282.9 88.7h1v1h-1zM278.7 93.1h1v1h-1zM284.4 84.4h1v1h-1zM285.6 75.7h1v1h-1zM279.0 84.5h1v1h-1zM282.9 77.6h1v1h-1zM284.7 105.3h1v1h-1zM281.0 79.3h1v1h-1zM276.3 78.6h1v1h-1zM287.0 87.6h1v1h-1zM292.5 77.0h1v1h-1zM282.3 82.3h1v1h-1zM284.1 85.9h1v1h-1zM278.6 80.9h1v1h-1zM282.2 84.3h1v1h-1zM287.2 100.6h1v1h-1zM287.2 92.5h1v1h-1zM287.3 74.7h1v1h-1zM282.2 82.5h1v1h-1zM270.3 91.1h1v1h-1zM286.7 81.4h1v1h-1zM285.8 88.6h1v1h-1zM290.0 88.6h1v1h-1zM295.0 95.5h1v1h-1zM285.9 86.0h1v1h-1zM289.7 87.4h1v1h-1zM277.8 76.9h1v1h-1zM290.1 92.5h1v1h-1zM291.1 79.8h1v1h-1zM287.6 105.7h1v1h-1zM287.5 88.0h1v1h-1zM286.6 85.7h1v1h-1zM290.8 97.0h1v1h-1zM278.8 85.0h1v1h-1zM287.0 89.0h1v1h-1zM290.3 88.4h1v1h-1zM279.6 78.8h1v1h-1zM277.7 76.3h1v1h-1zM287.6 81.2h1v1h-1zM281.0 97.9h1v1h-1zM288.6 82.2h1v1h-1zM288.3 84.3h1v1h-1zM279.1 81.4h1v1h-1zM283.5 94.2h1v1h-1zM285.5 107.6h1v1h-1zM283.0 77.7h1v1h-1zM279.8 91.7h1v1h-1zM275.3 86.1h1v1h-1zM289.2 85.6h1v1h-1zM294.7 95.2h1v1h-1zM277.2 72.7h1v1h-1zM286.0 96.2h1v1h-1zM288.5 90.7h1v1h-1zM281.9 76.7h1v1h-1zM276.6 101.3h1v1h-1zM274.0 93.2h1v1h-1zM275.0 96.6h1v1h-1zM287.8 73.6h1v1h-1zM288.1 85.6h1v1h-1zM285.2 82.3h1v1h-1zM287.2 94.4h1v1h-1zM281.0 100.1h1v1h-1zM280.2 67.1h1v1h-1zM292.6 89.8h1v1h-1zM291.2 87.9h1v1h-1zM275.9 95.2h1v1h-1zM294.9 89.8h1v1h-1zM289.4 75.9h1v1h-1zM284.5 85.4h1v1h-1zM298.4 80.7h1v1h-1zM268.6 75.3h1v1h-1zM272.4 84.6h1v1h-1zM289.0 83.8h1v1h-1zM280.8 89.2h1v1h-1zM280.7 71.1h1v1h-1zM287.2 111.5h1v1h-1zM283.2 99.7h1v1h-1zM272.9 91.5h1v1h-1zM282.1 73.7h1v1h-1zM294.2 68.3h1v1h-1zM297.1 82.1h1v1h-1zM270.5 81.3h1v1h-1zM279.2 108.4h1v1h-1zM277.4 98.6h1v1h-1zM273.0 79.0h1v1h-1zM279.0 98.1h1v1h-1zM269.5 95.7h1v1h-1zM279.6 86.2h1v1h-1zM290.8 101.3h1v1h-1zM285.7 91.1h1v1h-1zM290.0 82.3h1v1h-1zM290.1 77.1h1v1h-1zM285.8 86.5h1v1h-1zM287.1 98.1h1v1h-1zM278.9 72.3h1v1h-1zM284.9 71.3h1v1h-1zM287.5 93.7h1v1h-1zM285.2 60.3h1v1h-1zM275.7 103.4h1v1h-1zM292.3 85.1h1v1h-1zM291.5 96.6h1v1h-1zM274.6 103.4h1v1h-1zM281.5 72.0h1v1h-1zM289.7 78.2h1v1h-1zM279.4 108.6h1v1h-1zM279.5 83.2h1v1h-1zM287.5 86.9h1v1h-1zM286.3 90.2h1v1h-1zM281.1 97.1h1v1h-1zM299.3 104.7h1v1h-1zM291.9 90.5h1v1h-1zM289.5 85.4h1v1h-1zM290.1 88.5h1v1h-1zM302.0 95.2h1v1h-1zM287.2 101.3h1v1h-1zM278.2 87.1h1v1h-1zM280.8 104.7h1v1h-1zM285.9 79.1h1v1h-1zM278.2 91.1h1v1h-1zM280.6 104.0h1v1h-1zM281.7 99.6h1v1h-1zM282.1 90.1h1v1h-1zM282.3 77.9h1v1h-1zM290.5 81.9h1v1h-1zM273.1 82.8h1v1h-1zM287.9 91.4h1v1h-1zM284.0 84.8h1v1h-1zM288.8 73.9h1v1h-1zM269.4 75.9h1v1h-1zM293.1 94.9h1v1h-1zM269.7 91.8h1v1h-1zM281.1 72.4h1v1h-1zM288.5 84.8h1v1h-1zM283.5 70.3h1v1h-1zM282.0 81.1h1v1h-1zM259.6 116.4h1v1h-1zM280.2 86.9h1v1h-1zM285.6 84.2h1v1h-1zM289.3 82.8h1v1h-1zM284.4 75.2h1v1h-1zM289.4 70.0h1v1h-1zM286.3 87.5h1v1h-1zM279.5 83.3h1v1h-1zM274.6 99.6h1v1h-1zM300.4 75.2h1v1h-1zM276.6 89.7h1v1h-1zM288.1 101.9h1v1h-1zM288.7 68.8h1v1h-1zM291.4 95.9h1v1h-1zM283.1 70.8h1v1h-1zM285.4 92.9h1v1h-1zM281.8 101.5h1v1h-1zM281.8 86.6h1v1h-1zM284.6 90.3h1v1h-1zM280.0 79.2h1v1h-1zM282.0 89.7h1v1h-1zM277.8 97.0h1v1h-1zM288.8 86.7h1v1h-1zM283.1 85.6h1v1h-1zM273.1 88.3h1v1h-1zM278.8 94.1h1v1h-1zM286.8 71.6h1v1h-1zM277.2 86.0h1v1h-1zM293.8 83.0h1v1h-1zM284.7 92.5h1v1h-1zM286.3 98.3h1v1h-1zM277.5 88.7h1v1h-1zM277.4 98.5h1v1h-1zM292.5 79.6h1v1h-1zM274.8 80.7h1v1h-1zM288.2 78.5h1v1h-1zM283.7 87.8h1v1h-1zM279.7 87.1h1v1h-1zM284.4 85.4h1v1h-1zM279.2 73.8h1v1h-1zM285.0 86.8h1v1h-1zM276.3 80.8h1v1h-1zM273.3 90.5h1v1h-1zM293.3 87.0h1v1h-1zM275.7 96.8h1v1h-1zM268.7 85.5h1v1h-1zM294.4 71.4h1v1h-1zM278.6 84.1h1v1h-1zM263.5 67.4h1v1h-1zM280.5 96.1h1v1h-1zM285.9 102.2h1v1h-1zM285.7 87.5h1v1h-1zM293.6 94.3h1v1h-1zM286.1 73.3h1v1h-1zM292.9 67.0h1v1h-1zM278.0 80.1h1v1h-1zM285.0 85.0h1v1h-1zM297.3 75.6h1v1h-1zM286.4 88.8h1v1h-1zM283.6 90.3h1v1h-1zM268.6 89.6h1v1h-1zM276.9 101.0h1v1h-1zM272.7 92.4h1v1h-1zM289.4 85.0h1v1h-1zM278.1 86.8h1v1h-1zM284.2 93.4h1v1h-1zM279.3 75.5h1v1h-1zM292.5 102.9h1v1h-1zM273.2 93.5h1v1h-1zM284.8 85.2h1v1h-1zM302.4 85.8h1v1h-1zM275.2 123.2h1v1h-1zM275.4 93.4h1v1h-1zM285.0 97.0h1v1h-1zM285.4 105.8h1v1h-1zM286.6 97.9h1v1h-1zM269.7 85.6h1v1h-1zM283.0 94.1h1v1h-1zM271.4 74.7h1v1h-1zM294.1 97.2h1v1h-1zM287.7 72.8h1v1h-1zM279.2 90.3h1v1h-1zM286.4 93.6h1v1h-1zM290.5 73.4h1v1h-1zM270.6 103.0h1v1h-1zM297.0 79.2h1v1h-1zM279.1 96.5h1v1h-1zM272.9 79.0h1v1h-1zM291.9 92.6h1v1h-1zM295.2 83.7h1v1h-1zM285.4 112.8h1v1h-1zM284.4 97.8h1v1h-1zM272.8 102.6h1v1h-1zM287.6 96.2h1v1h-1zM294.0 97.1h1v1h-1zM288.4 90.1h1v1h-1zM294.6 87.8h1v1h-1zM276.6 91.6h1v1h-1zM289.7 90.6h1v1h-1zM289.9 87.5h1v1h-1zM276.8 71.6h1v1h-1zM273.2 81.5h1v1h-1zM277.0 91.7h1v1h-1zM285.0 83.0h1v1h-1zM285.4 91.4h1v1h-1zM282.1 85.5h1v1h-1zM285.5 77.5h1v1h-1zM284.8 78.6h1v1h-1zM285.7 80.5h1v1h-1zM287.9 85.6h1v1h-1zM287.3 85.7h1v1h-1zM280.1 97.7h1v1h-1zM287.8 77.6h1v1h-1zM285.4 67.3h1v1h-1zM286.9 95.2h1v1h-1zM281.1 82.1h1v1h-1zM294.6 89.1h1v1h-1zM276.7 111.3h1v1h-1zM281.4 101.6h1v1h-1zM276.7 91.5h1v1h-1zM278.6 95.6h1v1h-1zM284.1 88.8h1v1h-1zM281.0 96.4h1v1h-1zM280.7 80.5h1v1h-1zM277.3 78.6h1v1h-1zM284.7 83.0h1v1h-1zM280.3 102.5h1v1h-1zM283.1 103.0h1v1h-1zM293.2 83.9h1v1h-1zM278.3 97.7h1v1h-1zM270.3 82.3h1v1h-1zM279.6 97.2h1v1h-1zM271.7 81.1h1v1h-1zM272.2 94.1h1v1h-1zM290.5 88.2h1v1h-1zM287.8 85.7h1v1h-1zM279.0 86.0h1v1h-1zM278.6 87.7h1v1h-1zM284.2 81.8h1v1h-1zM274.9 71.4h1v1h-1zM282.2 104.2h1v1h-1zM281.9 83.1h1v1h-1zM300.2 73.6h1v1h-1zM281.9 64.1h1v1h-1zM297.1 62.8h1v1h-1zM280.3 80.4h1v1h-1zM286.7 102.1h1v1h-1zM280.8 70.3h1v1h-1zM289.0 85.7h1v1h-1zM285.0 69.3h1v1h-1zM275.0 96.3h1v1h-1zM281.4 90.6h1v1h-1zM285.7 91.3h1v1h-1zM282.6 100.9h1v1h-1zM289.7 105.8h1v1h-1zM286.2 98.6h1v1h-1zM267.0 77.2h1v1h-1zM283.9 74.2h1v1h-1zM272.5 74.0h1v1h-1zM285.1 70.2h1v1h-1zM282.9 105.6h1v1h-1zM274.8 83.3h1v1h-1zM275.0 86.5h1v1h-1zM283.8 89.6h1v1h-1zM276.2 106.0h1v1h-1zM295.4 85.0h1v1h-1zM282.5 99.2h1v1h-1zM286.1 91.3h1v1h-1zM295.5 89.2h1v1h-1zM284.8 68.5h1v1h-1zM280.9 96.1h1v1h-1zM278.5 78.7h1v1h-1zM286.2 83.6h1v1h-1zM289.7 91.5h1v1h-1zM292.3 90.8h1v1h-1zM280.2 98.0h1v1h-1zM280.2 79.9h1v1h-1zM277.7 87.7h1v1h-1zM273.2 87.6h1v1h-1zM284.0 88.0h1v1h-1zM290.7 96.4h1v1h-1zM268.0 80.8h1v1h-1zM265.6 94.9h1v1h-1zM294.5 83.3h1v1h-1zM276.1 71.0h1v1h-1zM285.6 87.7h1v1h-1zM271.8 96.4h1v1h-1zM289.9 84.0h1v1h-1zM290.2 83.0h1v1h-1zM285.3 84.5h1v1h-1zM288.5 90.6h1v1h-1zM284.1 85.9h1v1h-1zM286.3 91.5h1v1h-1zM300.0 74.6h1v1h-1zM286.9 103.6h1v1h-1zM277.4 91.8h1v1h-1zM280.1 77.9h1v1h-1zM278.2 100.0h1v1h-1zM280.6 91.3h1v1h-1zM280.1 101.5h1v1h-1zM282.2 75.3h1v1h-1zM283.5 104.4h1v1h-1zM283.5 88.0h1v1h-1zM291.0 68.7h1v1h-1zM281.5 94.6h1v1h-1zM288.3 85.8h1v1h-1zM277.8 75.8h1v1h-1zM294.6 88.3h1v1h-1zM290.6 69.8h1v1h-1zM284.9 93.8h1v1h-1zM288.0 86.6h1v1h-1zM291.4 86.9h1v1h-1zM284.8 102.2h1v1h-1zM284.9 88.3h1v1h-1zM283.8 80.9h1v1h-1zM274.7 75.6h1v1h-1zM285.0 87.3h1v1h-1zM278.6 97.0h1v1h-1zM282.7 81.5h1v1h-1zM302.3 82.1h1v1h-1zM268.5 92.9h1v1h-1zM283.6 88.2h1v1h-1zM291.7 89.5h1v1h-1zM284.6 109.0h1v1h-1zM294.9 78.3h1v1h-1zM274.3 87.1h1v1h-1zM281.4 69.0h1v1h-1zM288.4 85.8h1v1h-1zM279.9 92.5h1v1h-1zM292.1 101.3h1v1h-1zM288.2 75.9h1v1h-1zM282.6 95.8h1v1h-1zM284.4 95.7h1v1h-1zM281.9 85.9h1v1h-1zM278.0 111.0h1v1h-1zM278.9 86.3h1v1h-1zM285.4 79.1h1v1h-1zM279.1 90.7h1v1h-1zM289.9 70.4h1v1h-1zM269.9 99.7h1v1h-1zM270.9 94.2h1v1h-1zM287.6 84.6h1v1h-1zM283.4 93.8h1v1h-1zM275.6 90.9h1v1h-1zM277.0 105.4h1v1h-1zM277.9 79.8h1v1h-1zM300.5 79.0h1v1h-1zM278.1 65.5h1v1h-1zM295.8 87.9h1v1h-1zM281.9 71.2h1v1h-1zM286.8 86.7h1v1h-1zM280.7 90.9h1v1h-1zM282.0 82.7h1v1h-1zM292.2 80.3h1v1h-1zM286.0 100.3h1v1h-1zM282.0 85.1h1v1h-1zM276.8 88.1h1v1h-1zM295.1 100.3h1v1h-1zM296.3 77.8h1v1h-1zM286.8 79.1h1v1h-1zM275.2 110.6h1v1h-1zM285.9 86.6h1v1h-1zM286.7 77.8h1v1h-1zM292.2 87.3h1v1h-1zM278.4 80.4h1v1h-1zM286.7 76.0h1v1h-1zM279.2 82.3h1v1h-1zM292.4 89.7h1v1h-1zM295.7 90.7h1v1h-1zM281.5 92.5h1v1h-1zM291.5 72.1h1v1h-1zM296.8 76.0h1v1h-1zM279.5 94.5h1v1h-1zM278.3 81.7h1v1h-1zM287.5 100.9h1v1h-1zM286.2 91.3h1v1h-1zM285.7 73.8h1v1h-1zM292.0 95.3h1v1h-1zM287.7 78.4h1v1h-1zM270.8 86.8h1v1h-1zM282.7 99.8h1v1h-1zM277.8 107.4h1v1h-1zM296.4 90.3h1v1h-1zM281.6 94.1h1v1h-1zM281.4 90.0h1v1h-1zM284.5 95.8h1v1h-1zM291.6 63.9h1v1h-1zM275.0 81.3h1v1h-1zM283.6 90.5h1v1h-1zM280.1 91.4h1v1h-1zM294.9 83.0h1v1h-1zM297.7 99.7h1v1h-1zM273.2 95.9h1v1h-1zM276.8 86.5h1v1h-1zM278.4 83.9h1v1h-1zM280.0 83.0h1v1h-1zM278.5 87.6h1v1h-1zM280.9 98.8h1v1h-1zM287.1 103.7h1v1h-1zM275.9 80.8h1v1h-1zM275.5 76.0h1v1h-1zM273.1 76.7h1v1h-1zM288.5 98.8h1v1h-1zM291.9 92.0h1v1h-1zM272.4 87.6h1v1h-1zM271.3 89.1h1v1h-1zM283.5 91.3h1v1h-1zM291.2 88.4h1v1h-1zM293.0 79.6h1v1h-1zM286.4 82.1h1v1h-1zM287.8 89.9h1v1h-1zM284.8 91.8h1v1h-1zM280.7 83.1h1v1h-1zM297.5 87.1h1v1h-1zM280.1 100.4h1v1h-1zM277.2 81.1h1v1h-1zM279.8 88.8h1v1h-1zM273.9 81.8h1v1h-1zM285.8 79.5h1v1h-1zM294.8 75.3h1v1h-1zM276.3 80.2h1v1h-1zM293.2 81.9h1v1h-1zM295.6 99.3h1v1h-1zM289.0 77.4h1v1h-1zM276.7 81.6h1v1h-1zM276.1 92.2h1v1h-1zM281.6 85.9h1v1h-1zM273.6 89.9h1v1h-1zM273.0 93.1h1v1h-1zM286.0 71.5h1v1h-1zM283.4 83.4h1v1h-1zM290.1 79.6h1v1h-1zM272.0 98.0h1v1h-1zM296.5 89.8h1v1h-1zM289.5 94.1h1v1h-1zM285.3 105.1h1v1h-1zM280.0 83.0h1v1h-1zM295.1 91.4h1v1h-1zM280.2 90.8h1v1h-1zM296.5 88.3h1v1h-1zM287.6 101.3h1v1h-1zM275.4 93.6h1v1h-1zM278.0 96.1h1v1h-1zM296.1 91.4h1v1h-1zM291.2 86.2h1v1h-1zM283.4 83.9h1v1h-1zM285.8 84.5h1v1h-1zM289.0 72.5h1v1h-1zM277.4 89.5h1v1h-1zM280.2 94.8h1v1h-1zM279.1 86.3h1v1h-1zM281.9 82.1h1v1h-1zM286.6 88.7h1v1h-1zM276.5 87.9h1v1h-1zM287.6 91.9h1v1h-1zM279.8 104.5h1v1h-1zM290.9 80.9h1v1h-1zM288.7 92.6h1v1h-1zM290.3 96.2h1v1h-1zM287.6 89.4h1v1h-1zM288.9 86.6h1v1h-1zM284.9 77.6h1v1h-1zM288.9 83.0h1v1h-1zM275.7 92.5h1v1h-1zM278.2 100.6h1v1h-1zM290.3 82.8h1v1h-1zM282.0 91.8h1v1h-1zM285.3 93.2h1v1h-1zM273.9 95.0h1v1h-1zM292.2 92.3h1v1h-1zM278.5 90.6h1v1h-1zM284.0 96.6h1v1h-1zM286.3 76.6h1v1h-1zM289.8 89.7h1v1h-1zM285.4 70.4h1v1h-1zM281.7 67.4h1v1h-1zM272.7 76.4h1v1h-1zM285.3 72.6h1v1h-1zM274.2 90.1h1v1h-1zM284.7 97.7h1v1h-1zM294.1 87.3h1v1h-1zM268.8 82.2h1v1h-1zM275.4 83.0h1v1h-1zM286.3 85.6h1v1h-1zM291.6 91.0h1v1h-1zM284.7 91.3h1v1h-1zM286.9 83.8h1v1h-1zM288.9 81.1h1v1h-1zM288.7 83.7h1v1h-1zM292.7 97.9h1v1h-1zM288.7 84.7h1v1h-1zM271.5 98.7h1v1h-1zM280.9 84.4h1v1h-1zM281.6 100.6h1v1h-1zM281.0 75.0h1v1h-1zM283.5 80.6h1v1h-1zM278.8 91.0h1v1h-1zM277.6 90.8h1v1h-1zM288.7 87.3h1v1h-1z" fill="#000" fill-opacity="0.85"/><path d="M292.7 55.8h1v1h-1zM275.9 82.5h1v1h-1zM260.9 111.3h1v1h-1zM281.0 52.2h1v1h-1zM290.0 56.5h1v1h-1zM281.0 80.5h1v1h-1zM268.8 110.0h1v1h-1zM288.1 72.6h1v1h-1zM275.8 72.1h1v1h-1zM260.8 124.5h1v1h-1zM289.8 83.8h1v1h-1zM289.1 107.7h1v1h-1zM266.7 97.0h1v1h-1zM274.6 85.1h1v1h-1zM257.2 74.2h1v1h-1zM292.4 95.2h1v1h-1zM266.6 112.1h1v1h-1zM283.6 46.7h1v1h-1zM267.7 58.6h1v1h-1zM269.3 53.0h1v1h-1zM277.5 110.0h1v1h-1zM291.2 63.8h1v1h-1zM294.5 75.6h1v1h-1zM279.1 81.8h1v1h-1zM275.6 123.9h1v1h-1zM286.8 33.3h1v1h-1zM276.5 50.6h1v1h-1zM264.9 115.5h1v1h-1zM279.8 76.4h1v1h-1zM268.4 67.9h1v1h-1zM263.1 122.7h1v1h-1zM270.7 43.2h1v1h-1zM258.2 34.5h1v1h-1zM270.4 119.1h1v1h-1zM266.5 110.9h1v1h-1zM275.4 84.1h1v1h-1zM276.8 58.2h1v1h-1zM255.6 106.9h1v1h-1zM288.7 48.0h1v1h-1zM258.8 73.5h1v1h-1zM256.5 49.3h1v1h-1zM260.5 71.7h1v1h-1zM292.8 33.5h1v1h-1zM266.0 76.6h1v1h-1zM290.3 76.0h1v1h-1zM265.6 126.3h1v1h-1zM277.8 69.0h1v1h-1zM285.2 83.5h1v1h-1zM289.6 47.4h1v1h-1zM293.5 59.8h1v1h-1zM273.6 54.8h1v1h-1zM281.2 125.5h1v1h-1zM260.6 45.1h1v1h-1zM278.2 94.0h1v1h-1zM277.0 112.0h1v1h-1zM265.9 122.5h1v1h-1zM278.8 100.0h1v1h-1zM278.0 50.2h1v1h-1zM282.7 120.4h1v1h-1zM248.4 82.0h1v1h-1zM272.0 83.1h1v1h-1zM286.9 117.8h1v1h-1zM289.1 34.5h1v1h-1zM291.3 101.4h1v1h-1zM290.4 105.3h1v1h-1zM284.0 96.7h1v1h-1zM291.6 51.4h1v1h-1zM280.3 119.8h1v1h-1zM286.5 55.8h1v1h-1zM290.6 63.8h1v1h-1zM283.3 112.3h1v1h-1zM283.6 120.5h1v1h-1zM253.5 58.0h1v1h-1zM252.5 78.5h1v1h-1zM270.4 113.7h1v1h-1zM280.8 84.1h1v1h-1zM279.8 54.6h1v1h-1zM275.9 68.3h1v1h-1zM251.8 93.1h1v1h-1zM273.5 101.8h1v1h-1zM292.5 62.3h1v1h-1zM284.8 51.0h1v1h-1zM263.3 107.2h1v1h-1zM287.2 61.8h1v1h-1zM278.2 56.4h1v1h-1zM275.6 60.4h1v1h-1zM260.7 54.9h1v1h-1zM290.7 45.7h1v1h-1zM254.5 69.6h1v1h-1zM289.3 50.9h1v1h-1zM250.4 94.5h1v1h-1zM291.2 42.8h1v1h-1zM277.6 66.9h1v1h-1zM266.6 123.1h1v1h-1zM273.5 76.5h1v1h-1zM257.2 117.7h1v1h-1zM274.2 54.7h1v1h-1zM278.6 107.6h1v1h-1zM294.4 41.2h1v1h-1zM259.6 123.4h1v1h-1zM266.1 124.4h1v1h-1zM293.9 98.7h1v1h-1zM289.8 52.3h1v1h-1zM291.6 105.0h1v1h-1zM267.2 109.4h1v1h-1zM284.8 95.2h1v1h-1zM283.6 106.8h1v1h-1zM287.9 57.1h1v1h-1zM268.4 107.2h1v1h-1zM273.2 54.4h1v1h-1zM269.3 81.1h1v1h-1zM269.9 70.6h1v1h-1zM262.8 53.3h1v1h-1zM278.9 57.5h1v1h-1zM287.2 117.1h1v1h-1zM279.2 38.9h1v1h-1zM271.6 79.7h1v1h-1zM285.5 78.8h1v1h-1zM265.2 43.6h1v1h-1zM279.3 40.9h1v1h-1zM277.6 74.5h1v1h-1zM287.4 67.0h1v1h-1zM293.8 57.6h1v1h-1zM249.9 57.2h1v1h-1zM289.8 54.7h1v1h-1zM252.7 93.6h1v1h-1zM266.6 125.8h1v1h-1zM277.7 62.1h1v1h-1zM274.9 71.0h1v1h-1zM272.2 99.3h1v1h-1zM281.0 62.2h1v1h-1zM283.1 45.0h1v1h-1zM259.2 94.7h1v1h-1zM278.7 66.7h1v1h-1zM271.9 33.4h1v1h-1zM281.2 64.2h1v1h-1zM278.0 116.5h1v1h-1zM258.6 38.0h1v1h-1zM292.3 117.7h1v1h-1zM256.4 91.4h1v1h-1zM285.9 112.1h1v1h-1zM261.1 86.3h1v1h-1zM251.6 100.5h1v1h-1zM283.0 117.2h1v1h-1zM286.4 49.3h1v1h-1zM273.7 43.5h1v1h-1zM266.1 87.3h1v1h-1zM289.9 78.5h1v1h-1zM281.8 82.4h1v1h-1zM273.1 67.2h1v1h-1zM262.8 126.1h1v1h-1zM274.6 90.4h1v1h-1zM257.3 91.0h1v1h-1zM273.2 35.7h1v1h-1zM289.3 59.3h1v1h-1zM287.9 59.8h1v1h-1zM253.9 127.3h1v1h-1zM281.9 46.1h1v1h-1zM268.9 81.0h1v1h-1zM280.3 102.5h1v1h-1zM268.7 92.0h1v1h-1zM261.4 105.4h1v1h-1zM293.4 67.3h1v1h-1zM271.3 48.5h1v1h-1zM290.7 54.6h1v1h-1zM263.1 85.2h1v1h-1zM279.0 82.4h1v1h-1zM268.5 71.6h1v1h-1zM285.0 120.3h1v1h-1zM277.7 71.1h1v1h-1zM288.8 53.2h1v1h-1zM283.5 90.1h1v1h-1zM271.2 88.3h1v1h-1zM273.1 107.6h1v1h-1zM254.5 86.2h1v1h-1zM284.2 33.8h1v1h-1zM274.9 79.0h1v1h-1zM295.3 50.5h1v1h-1zM271.2 55.3h1v1h-1zM259.0 106.2h1v1h-1zM270.9 124.5h1v1h-1zM285.9 115.9h1v1h-1zM256.5 55.4h1v1h-1zM260.5 73.5h1v1h-1zM291.2 114.8h1v1h-1zM274.3 112.9h1v1h-1zM290.7 38.5h1v1h-1zM279.2 59.5h1v1h-1zM257.8 89.3h1v1h-1zM288.0 51.6h1v1h-1zM270.9 34.9h1v1h-1zM281.1 54.0h1v1h-1zM257.1 84.4h1v1h-1zM289.4 100.9h1v1h-1zM267.7 103.1h1v1h-1zM279.6 86.8h1v1h-1zM256.9 89.9h1v1h-1zM276.2 82.5h1v1h-1zM259.5 108.4h1v1h-1zM255.2 94.8h1v1h-1zM264.5 97.8h1v1h-1zM257.6 118.8h1v1h-1zM285.2 44.2h1v1h-1zM284.7 36.6h1v1h-1zM290.3 83.5h1v1h-1zM255.5 75.4h1v1h-1zM267.8 119.3h1v1h-1zM296.9 62.3h1v1h-1zM267.8 97.3h1v1h-1zM254.4 99.0h1v1h-1zM289.0 55.7h1v1h-1zM263.2 33.8h1v1h-1zM288.9 72.8h1v1h-1zM288.0 52.2h1v1h-1zM292.7 51.1h1v1h-1zM276.2 76.7h1v1h-1zM291.7 50.0h1v1h-1zM259.6 86.2h1v1h-1zM291.6 91.5h1v1h-1zM262.9 77.7h1v1h-1zM288.6 86.6h1v1h-1zM289.1 51.8h1v1h-1zM271.5 87.7h1v1h-1zM268.4 114.1h1v1h-1zM254.5 113.6h1v1h-1zM296.2 43.5h1v1h-1zM269.8 63.8h1v1h-1zM284.1 101.2h1v1h-1zM289.1 89.1h1v1h-1zM273.8 69.7h1v1h-1zM262.9 112.2h1v1h-1zM280.5 118.0h1v1h-1zM281.7 86.4h1v1h-1zM260.7 56.7h1v1h-1zM282.9 124.5h1v1h-1zM284.4 78.6h1v1h-1zM282.9 65.9h1v1h-1zM292.7 45.0h1v1h-1zM294.2 122.6h1v1h-1zM259.5 98.6h1v1h-1zM295.6 39.8h1v1h-1zM297.0 50.3h1v1h-1zM274.5 120.8h1v1h-1zM264.2 40.2h1v1h-1zM292.5 97.2h1v1h-1zM280.4 87.1h1v1h-1zM267.6 80.5h1v1h-1zM266.8 98.7h1v1h-1zM291.9 65.0h1v1h-1zM259.8 92.5h1v1h-1zM288.2 116.3h1v1h-1zM267.9 87.4h1v1h-1zM279.6 82.9h1v1h-1zM286.3 91.1h1v1h-1zM264.5 50.7h1v1h-1zM271.8 64.7h1v1h-1zM258.9 101.0h1v1h-1zM267.0 87.0h1v1h-1zM268.7 44.2h1v1h-1zM287.9 115.5h1v1h-1zM289.3 72.1h1v1h-1zM282.3 56.5h1v1h-1zM272.5 47.2h1v1h-1zM260.4 120.9h1v1h-1zM278.3 102.4h1v1h-1zM290.9 62.4h1v1h-1zM293.4 51.3h1v1h-1zM290.2 113.9h1v1h-1zM276.8 46.9h1v1h-1zM279.7 82.6h1v1h-1zM272.6 96.5h1v1h-1zM272.0 122.1h1v1h-1zM279.6 98.2h1v1h-1zM270.5 43.2h1v1h-1zM262.8 82.4h1v1h-1zM271.5 119.6h1v1h-1zM274.1 58.7h1v1h-1zM294.8 41.4h1v1h-1zM277.8 38.6h1v1h-1zM254.7 112.3h1v1h-1zM276.7 121.7h1v1h-1zM293.6 76.8h1v1h-1zM283.6 62.1h1v1h-1zM267.7 70.8h1v1h-1zM295.5 49.9h1v1h-1zM286.4 74.4h1v1h-1zM279.4 77.8h1v1h-1zM268.9 83.7h1v1h-1zM292.2 43.0h1v1h-1zM279.8 125.6h1v1h-1zM269.8 92.5h1v1h-1zM261.9 87.4h1v1h-1zM283.7 111.5h1v1h-1zM293.3 37.6h1v1h-1zM254.8 88.7h1v1h-1zM256.8 68.1h1v1h-1zM258.1 93.9h1v1h-1zM283.1 122.1h1v1h-1zM284.2 39.6h1v1h-1zM277.5 49.5h1v1h-1zM291.8 66.4h1v1h-1zM290.4 83.7h1v1h-1zM269.1 111.7h1v1h-1zM264.0 102.7h1v1h-1zM274.5 85.2h1v1h-1zM288.1 51.3h1v1h-1zM289.4 80.8h1v1h-1zM295.6 74.8h1v1h-1zM277.4 43.7h1v1h-1zM286.0 119.9h1v1h-1zM258.8 112.9h1v1h-1zM261.2 91.3h1v1h-1zM283.5 56.5h1v1h-1zM253.8 87.8h1v1h-1zM272.9 63.7h1v1h-1zM249.9 94.6h1v1h-1zM292.4 36.5h1v1h-1zM280.8 90.3h1v1h-1zM261.7 86.2h1v1h-1zM275.2 120.9h1v1h-1zM265.4 87.3h1v1h-1zM283.8 107.3h1v1h-1zM277.1 54.1h1v1h-1zM261.2 85.5h1v1h-1zM290.1 63.8h1v1h-1zM284.9 126.6h1v1h-1zM282.3 124.0h1v1h-1zM260.7 56.3h1v1h-1zM253.1 92.2h1v1h-1zM291.7 39.8h1v1h-1zM292.7 85.1h1v1h-1zM262.1 126.6h1v1h-1zM279.3 46.3h1v1h-1zM273.5 102.3h1v1h-1zM267.1 82.0h1v1h-1zM257.6 127.4h1v1h-1zM274.7 71.8h1v1h-1zM293.6 111.6h1v1h-1zM269.5 89.7h1v1h-1zM262.3 109.0h1v1h-1zM256.1 114.0h1v1h-1zM275.4 94.5h1v1h-1zM289.6 66.2h1v1h-1zM260.6 89.6h1v1h-1zM284.6 108.1h1v1h-1zM253.2 110.9h1v1h-1zM258.4 93.0h1v1h-1zM277.8 76.3h1v1h-1zM262.5 41.0h1v1h-1zM285.9 44.0h1v1h-1zM276.8 94.3h1v1h-1zM259.1 70.6h1v1h-1zM285.3 97.3h1v1h-1zM285.1 82.5h1v1h-1zM287.8 70.9h1v1h-1zM286.8 52.4h1v1h-1zM260.8 113.5h1v1h-1zM289.0 58.8h1v1h-1zM275.7 93.0h1v1h-1zM286.1 42.7h1v1h-1zM280.8 124.5h1v1h-1zM272.4 47.5h1v1h-1zM288.8 80.9h1v1h-1zM273.0 110.1h1v1h-1zM275.4 55.1h1v1h-1zM275.8 94.3h1v1h-1zM292.4 71.8h1v1h-1zM280.1 124.4h1v1h-1zM264.1 45.7h1v1h-1zM274.1 51.2h1v1h-1zM281.4 84.8h1v1h-1zM287.4 97.7h1v1h-1zM275.4 87.7h1v1h-1zM285.4 50.3h1v1h-1zM251.0 79.6h1v1h-1zM269.0 39.2h1v1h-1zM284.6 97.0h1v1h-1zM274.0 64.2h1v1h-1zM274.0 124.3h1v1h-1zM285.5 71.0h1v1h-1zM286.6 37.9h1v1h-1zM293.0 34.1h1v1h-1zM287.1 64.3h1v1h-1zM275.8 57.9h1v1h-1zM276.1 123.3h1v1h-1zM279.2 107.1h1v1h-1zM261.7 67.9h1v1h-1zM291.1 57.7h1v1h-1zM286.5 39.4h1v1h-1zM297.6 44.7h1v1h-1zM286.3 103.5h1v1h-1zM257.3 38.4h1v1h-1zM256.9 107.6h1v1h-1zM291.8 70.5h1v1h-1zM261.6 97.9h1v1h-1zM290.6 91.6h1v1h-1zM297.3 43.3h1v1h-1zM283.1 104.8h1v1h-1zM275.6 116.4h1v1h-1zM284.4 43.5h1v1h-1zM288.1 125.2h1v1h-1zM275.9 109.6h1v1h-1zM255.3 90.5h1v1h-1zM283.8 99.1h1v1h-1zM274.6 37.4h1v1h-1zM270.0 54.6h1v1h-1zM266.9 119.1h1v1h-1zM290.3 115.0h1v1h-1zM290.8 53.7h1v1h-1zM267.1 85.0h1v1h-1zM293.4 65.7h1v1h-1zM287.1 50.8h1v1h-1zM264.9 107.3h1v1h-1zM255.8 97.2h1v1h-1zM287.7 39.5h1v1h-1zM263.2 96.5h1v1h-1zM281.0 34.2h1v1h-1zM272.9 42.1h1v1h-1zM281.6 72.3h1v1h-1zM263.2 36.3h1v1h-1zM258.7 82.4h1v1h-1zM275.3 97.9h1v1h-1zM292.4 57.6h1v1h-1zM281.0 99.2h1v1h-1zM274.6 39.8h1v1h-1zM277.8 41.4h1v1h-1zM271.7 80.3h1v1h-1zM292.3 35.7h1v1h-1zM259.4 105.0h1v1h-1zM285.2 117.7h1v1h-1zM268.0 33.6h1v1h-1zM285.9 108.9h1v1h-1zM258.1 87.1h1v1h-1zM268.9 125.6h1v1h-1zM268.7 109.0h1v1h-1zM279.6 118.8h1v1h-1zM265.0 114.2h1v1h-1zM283.0 114.0h1v1h-1zM287.1 105.0h1v1h-1zM282.1 119.1h1v1h-1zM257.4 41.2h1v1h-1zM259.6 109.4h1v1h-1zM281.1 97.4h1v1h-1zM280.7 67.5h1v1h-1zM280.3 74.5h1v1h-1zM292.7 43.7h1v1h-1zM286.7 62.5h1v1h-1zM273.8 100.9h1v1h-1zM263.8 85.4h1v1h-1zM257.9 121.1h1v1h-1zM266.3 57.2h1v1h-1zM262.2 54.8h1v1h-1zM270.3 103.0h1v1h-1zM290.5 123.9h1v1h-1zM265.4 67.9h1v1h-1zM284.8 70.4h1v1h-1zM286.7 38.2h1v1h-1zM295.1 55.3h1v1h-1zM291.0 119.4h1v1h-1zM277.1 125.8h1v1h-1zM270.4 79.6h1v1h-1zM281.8 114.1h1v1h-1zM278.4 53.6h1v1h-1zM285.4 94.6h1v1h-1zM288.9 119.8h1v1h-1zM268.9 66.2h1v1h-1zM275.1 93.6h1v1h-1zM264.2 103.7h1v1h-1zM267.9 46.4h1v1h-1zM277.6 57.6h1v1h-1zM276.9 89.3h1v1h-1zM283.3 57.6h1v1h-1zM281.7 48.3h1v1h-1zM288.7 48.3h1v1h-1zM272.9 107.4h1v1h-1zM251.5 76.7h1v1h-1zM284.8 85.8h1v1h-1zM284.2 93.4h1v1h-1zM280.9 63.9h1v1h-1zM278.7 95.5h1v1h-1zM262.4 75.9h1v1h-1zM291.2 41.8h1v1h-1zM269.5 82.7h1v1h-1zM278.5 80.4h1v1h-1zM282.9 98.4h1v1h-1zM272.9 124.2h1v1h-1zM271.7 37.6h1v1h-1zM291.4 91.6h1v1h-1zM285.4 99.8h1v1h-1zM269.6 78.6h1v1h-1zM276.8 74.0h1v1h-1zM286.8 100.6h1v1h-1zM282.4 84.4h1v1h-1zM272.8 72.6h1v1h-1zM285.8 95.3h1v1h-1zM265.4 90.6h1v1h-1zM291.7 41.4h1v1h-1zM265.5 67.1h1v1h-1zM290.0 117.9h1v1h-1zM277.4 48.1h1v1h-1zM289.4 82.6h1v1h-1zM261.2 93.5h1v1h-1zM280.0 44.4h1v1h-1zM275.7 52.0h1v1h-1zM285.2 63.7h1v1h-1zM261.3 89.9h1v1h-1zM288.2 45.0h1v1h-1zM283.1 105.9h1v1h-1zM285.1 97.8h1v1h-1zM268.5 109.3h1v1h-1zM280.1 55.9h1v1h-1zM260.8 84.4h1v1h-1zM271.1 114.6h1v1h-1zM279.5 74.5h1v1h-1zM262.9 87.2h1v1h-1zM281.1 72.0h1v1h-1zM257.4 103.3h1v1h-1zM271.7 92.6h1v1h-1zM266.8 104.4h1v1h-1zM272.2 125.1h1v1h-1zM281.4 107.0h1v1h-1zM250.6 87.4h1v1h-1zM277.0 57.2h1v1h-1zM253.5 81.7h1v1h-1zM266.4 122.9h1v1h-1zM279.5 126.6h1v1h-1zM288.6 44.7h1v1h-1zM281.2 96.9h1v1h-1zM291.4 35.1h1v1h-1zM280.8 43.2h1v1h-1zM279.2 68.3h1v1h-1zM270.9 42.2h1v1h-1zM268.4 94.8h1v1h-1zM280.2 80.4h1v1h-1zM285.6 69.6h1v1h-1zM281.3 113.9h1v1h-1zM282.4 66.8h1v1h-1zM258.3 56.5h1v1h-1zM290.3 60.0h1v1h-1zM296.1 35.1h1v1h-1zM285.2 101.6h1v1h-1zM252.9 94.3h1v1h-1zM274.7 72.5h1v1h-1zM273.9 110.6h1v1h-1zM285.8 64.5h1v1h-1zM290.4 53.4h1v1h-1zM261.0 36.2h1v1h-1zM293.7 49.9h1v1h-1zM269.5 75.7h1v1h-1zM296.1 64.4h1v1h-1zM284.8 75.2h1v1h-1zM281.5 38.1h1v1h-1zM295.7 35.5h1v1h-1zM272.2 97.2h1v1h-1zM266.6 72.5h1v1h-1zM261.5 107.6h1v1h-1zM271.8 113.4h1v1h-1zM292.9 67.3h1v1h-1zM264.2 76.5h1v1h-1zM293.5 105.7h1v1h-1zM272.8 45.7h1v1h-1zM291.0 109.6h1v1h-1zM285.9 67.9h1v1h-1zM291.5 56.7h1v1h-1zM267.0 77.5h1v1h-1zM274.3 94.5h1v1h-1zM263.4 112.6h1v1h-1zM271.5 111.1h1v1h-1zM293.5 36.4h1v1h-1zM290.3 48.6h1v1h-1zM287.5 65.1h1v1h-1zM281.3 38.7h1v1h-1zM262.1 75.5h1v1h-1zM280.5 76.0h1v1h-1zM291.6 82.7h1v1h-1zM292.3 66.2h1v1h-1zM273.8 55.7h1v1h-1zM285.7 88.9h1v1h-1zM293.1 38.4h1v1h-1zM290.1 36.8h1v1h-1zM282.3 103.7h1v1h-1zM284.3 51.1h1v1h-1zM286.9 48.1h1v1h-1zM276.8 56.4h1v1h-1zM281.2 87.6h1v1h-1zM274.7 55.7h1v1h-1zM259.4 96.0h1v1h-1zM290.4 93.8h1v1h-1zM293.4 71.4h1v1h-1zM258.6 121.1h1v1h-1zM284.0 104.8h1v1h-1zM286.9 46.2h1v1h-1zM279.1 54.8h1v1h-1zM276.3 43.4h1v1h-1zM258.2 100.6h1v1h-1zM282.4 51.2h1v1h-1zM259.8 76.0h1v1h-1zM288.8 41.8h1v1h-1zM290.3 116.3h1v1h-1zM262.8 103.9h1v1h-1zM266.6 96.1h1v1h-1zM272.1 99.4h1v1h-1zM269.3 67.4h1v1h-1zM270.0 51.0h1v1h-1zM266.4 34.7h1v1h-1zM291.3 71.9h1v1h-1zM274.5 119.3h1v1h-1zM293.3 35.6h1v1h-1zM290.3 51.4h1v1h-1zM264.5 83.0h1v1h-1zM267.8 40.0h1v1h-1zM259.9 61.2h1v1h-1zM281.3 104.4h1v1h-1zM284.3 53.4h1v1h-1zM295.0 61.9h1v1h-1zM287.7 59.8h1v1h-1zM271.6 52.5h1v1h-1zM269.3 109.6h1v1h-1zM266.6 123.2h1v1h-1zM255.2 89.1h1v1h-1zM271.2 57.2h1v1h-1zM285.9 56.1h1v1h-1zM275.8 98.5h1v1h-1zM268.6 101.3h1v1h-1zM259.4 110.6h1v1h-1zM270.8 45.9h1v1h-1zM280.3 51.9h1v1h-1zM286.3 65.4h1v1h-1zM281.9 73.7h1v1h-1zM283.8 110.3h1v1h-1zM279.0 41.3h1v1h-1zM285.3 61.4h1v1h-1zM289.8 43.9h1v1h-1zM269.2 109.5h1v1h-1zM269.5 100.5h1v1h-1zM252.5 109.7h1v1h-1zM263.7 63.2h1v1h-1zM280.3 82.9h1v1h-1zM255.0 117.2h1v1h-1zM272.6 34.9h1v1h-1zM267.5 109.0h1v1h-1zM290.8 105.9h1v1h-1zM295.5 74.3h1v1h-1zM285.8 106.6h1v1h-1zM265.9 105.0h1v1h-1zM267.1 50.1h1v1h-1zM267.2 124.9h1v1h-1zM257.9 122.3h1v1h-1zM274.2 57.3h1v1h-1zM279.6 123.7h1v1h-1zM276.4 84.8h1v1h-1zM291.0 81.5h1v1h-1zM264.1 106.6h1v1h-1zM266.2 119.9h1v1h-1zM288.0 57.3h1v1h-1zM275.7 44.6h1v1h-1zM264.7 112.7h1v1h-1zM293.3 75.0h1v1h-1zM264.9 85.4h1v1h-1zM291.6 78.5h1v1h-1zM268.2 116.4h1v1h-1zM287.2 87.0h1v1h-1zM285.6 99.9h1v1h-1zM265.0 106.0h1v1h-1zM264.4 33.3h1v1h-1zM278.5 86.3h1v1h-1zM266.6 90.4h1v1h-1zM276.5 42.9h1v1h-1zM291.3 48.9h1v1h-1zM280.8 39.4h1v1h-1zM274.5 72.4h1v1h-1zM285.0 106.7h1v1h-1zM290.2 56.3h1v1h-1zM283.8 115.8h1v1h-1zM270.1 39.4h1v1h-1zM296.2 65.8h1v1h-1zM282.9 55.0h1v1h-1zM265.0 124.0h1v1h-1zM267.1 48.9h1v1h-1zM284.7 113.9h1v1h-1zM281.8 82.2h1v1h-1zM291.5 58.7h1v1h-1zM264.6 72.7h1v1h-1zM261.8 45.5h1v1h-1zM288.9 90.8h1v1h-1zM258.8 96.4h1v1h-1zM265.2 75.0h1v1h-1zM254.5 108.2h1v1h-1zM272.9 105.8h1v1h-1zM262.3 97.1h1v1h-1zM255.6 104.5h1v1h-1zM292.9 73.7h1v1h-1zM266.7 47.8h1v1h-1zM265.7 83.2h1v1h-1zM260.4 76.9h1v1h-1zM290.7 47.1h1v1h-1zM282.8 99.1h1v1h-1zM286.1 75.2h1v1h-1zM269.4 97.2h1v1h-1zM289.3 51.2h1v1h-1zM290.2 55.2h1v1h-1zM295.0 42.0h1v1h-1zM256.4 119.2h1v1h-1zM269.1 98.6h1v1h-1zM288.0 62.3h1v1h-1zM274.4 37.9h1v1h-1zM289.7 65.0h1v1h-1zM278.0 107.1h1v1h-1zM284.2 118.4h1v1h-1zM288.4 48.8h1v1h-1zM271.7 120.8h1v1h-1zM269.2 52.2h1v1h-1zM271.6 36.3h1v1h-1zM282.3 45.6h1v1h-1zM297.6 34.8h1v1h-1zM270.9 55.9h1v1h-1zM283.1 106.1h1v1h-1zM261.3 78.5h1v1h-1zM277.4 108.3h1v1h-1zM292.2 41.8h1v1h-1zM270.4 104.1h1v1h-1zM273.0 46.0h1v1h-1zM274.3 63.7h1v1h-1zM283.0 121.8h1v1h-1zM280.4 102.4h1v1h-1zM279.3 102.4h1v1h-1zM261.8 94.3h1v1h-1zM286.3 67.9h1v1h-1zM288.3 92.6h1v1h-1zM281.7 73.9h1v1h-1zM264.9 108.1h1v1h-1zM275.0 97.1h1v1h-1zM285.3 117.5h1v1h-1zM271.2 112.5h1v1h-1zM272.4 112.7h1v1h-1zM292.8 42.0h1v1h-1zM293.4 35.0h1v1h-1zM261.4 69.3h1v1h-1zM280.5 122.8h1v1h-1zM252.5 90.6h1v1h-1zM263.2 87.9h1v1h-1zM279.0 111.4h1v1h-1zM259.0 93.2h1v1h-1zM289.6 43.7h1v1h-1zM284.8 78.0h1v1h-1zM281.2 115.4h1v1h-1zM286.9 109.6h1v1h-1zM285.1 38.9h1v1h-1zM274.3 127.9h1v1h-1zM294.7 82.5h1v1h-1zM277.2 60.5h1v1h-1zM271.3 73.9h1v1h-1zM275.5 122.6h1v1h-1zM277.2 118.1h1v1h-1zM274.6 66.8h1v1h-1zM292.3 93.6h1v1h-1zM277.0 39.8h1v1h-1zM258.9 108.3h1v1h-1zM285.0 40.2h1v1h-1zM259.8 101.1h1v1h-1zM289.2 63.1h1v1h-1zM275.9 47.4h1v1h-1zM278.4 46.7h1v1h-1zM281.1 125.4h1v1h-1zM289.5 54.1h1v1h-1zM255.4 77.6h1v1h-1zM286.2 47.8h1v1h-1zM275.4 79.6h1v1h-1zM266.9 110.9h1v1h-1zM274.0 56.7h1v1h-1zM273.6 100.8h1v1h-1zM291.9 66.8h1v1h-1zM290.4 44.8h1v1h-1zM289.7 110.2h1v1h-1zM286.6 65.7h1v1h-1zM259.5 93.7h1v1h-1zM282.0 123.5h1v1h-1zM263.6 101.7h1v1h-1zM255.7 64.4h1v1h-1zM257.7 91.4h1v1h-1zM253.2 104.2h1v1h-1zM279.7 53.5h1v1h-1zM268.0 123.7h1v1h-1zM294.9 54.6h1v1h-1zM294.8 36.5h1v1h-1zM285.0 83.6h1v1h-1zM283.9 78.0h1v1h-1zM268.9 47.7h1v1h-1zM258.8 78.9h1v1h-1zM291.9 58.8h1v1h-1zM281.3 110.3h1v1h-1zM253.4 79.7h1v1h-1zM267.5 82.8h1v1h-1zM272.9 46.7h1v1h-1zM276.8 122.9h1v1h-1zM277.5 57.1h1v1h-1zM272.0 88.4h1v1h-1zM278.5 106.8h1v1h-1zM283.2 82.4h1v1h-1zM294.8 63.4h1v1h-1zM273.3 94.1h1v1h-1zM264.4 101.2h1v1h-1zM293.9 46.2h1v1h-1zM258.9 57.3h1v1h-1zM289.1 50.4h1v1h-1zM262.8 35.2h1v1h-1zM265.0 92.0h1v1h-1zM287.1 127.9h1v1h-1zM271.9 58.9h1v1h-1zM255.9 122.1h1v1h-1zM265.2 69.6h1v1h-1zM286.8 119.8h1v1h-1zM279.4 41.9h1v1h-1zM273.2 63.2h1v1h-1zM287.8 113.4h1v1h-1zM288.9 119.3h1v1h-1zM256.4 109.2h1v1h-1zM257.0 97.8h1v1h-1zM291.1 62.5h1v1h-1zM267.3 126.6h1v1h-1zM268.9 87.5h1v1h-1zM259.7 110.8h1v1h-1zM279.0 70.9h1v1h-1zM286.1 122.1h1v1h-1zM287.1 92.2h1v1h-1zM258.2 100.6h1v1h-1zM289.5 46.6h1v1h-1zM265.1 72.3h1v1h-1zM284.2 42.2h1v1h-1zM290.6 66.7h1v1h-1zM258.2 86.9h1v1h-1zM287.2 60.6h1v1h-1zM271.2 33.6h1v1h-1zM278.4 73.9h1v1h-1zM281.3 105.0h1v1h-1zM276.0 69.0h1v1h-1zM260.3 106.8h1v1h-1zM273.9 69.9h1v1h-1zM281.0 85.2h1v1h-1zM281.2 61.7h1v1h-1zM285.8 41.2h1v1h-1zM261.6 107.2h1v1h-1zM277.6 81.8h1v1h-1zM254.9 108.5h1v1h-1zM255.9 107.5h1v1h-1zM260.6 107.0h1v1h-1zM289.6 69.2h1v1h-1zM269.8 60.9h1v1h-1zM284.0 54.4h1v1h-1zM290.0 77.5h1v1h-1zM258.7 90.3h1v1h-1zM259.2 114.9h1v1h-1zM264.5 127.8h1v1h-1zM275.8 102.3h1v1h-1zM292.0 86.9h1v1h-1zM262.8 60.4h1v1h-1zM272.2 88.4h1v1h-1zM258.1 60.0h1v1h-1zM291.3 115.7h1v1h-1zM283.1 54.6h1v1h-1zM287.3 71.9h1v1h-1zM275.5 54.3h1v1h-1zM280.4 53.7h1v1h-1zM285.8 105.6h1v1h-1zM265.4 52.2h1v1h-1zM271.0 63.5h1v1h-1zM275.4 37.1h1v1h-1zM282.9 119.5h1v1h-1zM290.2 118.4h1v1h-1zM289.6 68.7h1v1h-1zM264.7 120.4h1v1h-1zM274.2 54.7h1v1h-1zM285.4 57.0h1v1h-1zM268.8 85.8h1v1h-1zM277.1 53.6h1v1h-1zM293.3 119.1h1v1h-1zM265.4 125.2h1v1h-1zM293.4 44.6h1v1h-1zM261.7 75.5h1v1h-1zM294.1 73.3h1v1h-1zM264.7 126.9h1v1h-1zM287.0 126.7h1v1h-1zM290.9 38.9h1v1h-1zM285.8 123.7h1v1h-1zM276.4 94.4h1v1h-1zM256.7 77.8h1v1h-1zM278.9 74.5h1v1h-1zM293.0 114.3h1v1h-1zM265.6 45.2h1v1h-1zM285.3 70.8h1v1h-1zM284.6 42.5h1v1h-1zM279.6 70.7h1v1h-1zM261.8 109.0h1v1h-1zM262.5 112.1h1v1h-1zM268.8 46.4h1v1h-1zM276.6 56.6h1v1h-1zM249.8 99.6h1v1h-1zM291.3 49.4h1v1h-1zM293.8 37.7h1v1h-1zM260.2 115.4h1v1h-1zM261.1 35.3h1v1h-1zM267.7 117.6h1v1h-1zM257.4 89.9h1v1h-1zM280.7 70.6h1v1h-1zM273.4 61.5h1v1h-1zM281.6 70.3h1v1h-1zM278.4 118.2h1v1h-1zM292.1 88.0h1v1h-1zM287.3 46.8h1v1h-1zM283.4 86.4h1v1h-1zM297.4 62.7h1v1h-1zM265.6 118.7h1v1h-1zM270.3 48.2h1v1h-1zM260.2 80.0h1v1h-1zM282.8 35.2h1v1h-1zM290.0 58.1h1v1h-1zM283.2 100.3h1v1h-1zM255.7 91.3h1v1h-1zM273.0 120.3h1v1h-1zM263.5 47.8h1v1h-1zM275.7 77.2h1v1h-1zM294.2 42.7h1v1h-1zM264.1 99.1h1v1h-1zM284.2 42.9h1v1h-1zM278.4 120.8h1v1h-1zM279.3 79.3h1v1h-1zM260.5 84.2h1v1h-1zM286.5 68.0h1v1h-1zM261.5 70.9h1v1h-1zM270.0 116.0h1v1h-1zM252.0 105.1h1v1h-1zM295.9 69.8h1v1h-1zM266.7 110.6h1v1h-1zM273.4 69.0h1v1h-1zM296.1 40.6h1v1h-1zM278.2 54.7h1v1h-1zM283.3 73.3h1v1h-1zM289.7 75.0h1v1h-1zM286.7 49.7h1v1h-1zM264.0 99.9h1v1h-1zM289.2 55.7h1v1h-1zM268.1 94.8h1v1h-1zM256.7 83.1h1v1h-1zM280.6 94.5h1v1h-1zM275.8 117.8h1v1h-1zM297.8 100.6h1v1h-1zM274.5 91.4h1v1h-1zM287.4 97.9h1v1h-1zM251.7 82.1h1v1h-1zM253.9 127.3h1v1h-1zM264.6 110.6h1v1h-1zM290.7 48.0h1v1h-1zM282.5 47.7h1v1h-1zM285.1 74.4h1v1h-1zM268.1 120.6h1v1h-1zM277.7 46.6h1v1h-1zM274.3 55.7h1v1h-1zM265.9 128.0h1v1h-1zM253.4 104.0h1v1h-1zM278.9 84.7h1v1h-1zM275.5 48.8h1v1h-1zM295.6 36.0h1v1h-1zM285.1 64.4h1v1h-1zM268.5 51.1h1v1h-1zM265.8 117.0h1v1h-1zM261.0 82.1h1v1h-1zM283.0 81.0h1v1h-1zM261.8 91.2h1v1h-1zM273.0 79.9h1v1h-1zM280.1 55.6h1v1h-1zM267.5 102.7h1v1h-1zM289.0 103.1h1v1h-1zM273.2 119.3h1v1h-1zM264.3 79.4h1v1h-1zM268.3 45.4h1v1h-1zM265.3 124.5h1v1h-1zM268.9 34.4h1v1h-1zM288.0 47.9h1v1h-1zM282.3 100.2h1v1h-1zM274.4 115.0h1v1h-1zM281.2 122.6h1v1h-1zM282.5 89.6h1v1h-1zM285.9 59.2h1v1h-1zM270.0 35.9h1v1h-1zM278.9 102.8h1v1h-1zM255.1 94.0h1v1h-1zM282.7 44.1h1v1h-1zM259.6 103.9h1v1h-1zM278.8 123.2h1v1h-1zM287.1 50.7h1v1h-1zM261.4 90.3h1v1h-1zM284.1 72.7h1v1h-1zM279.0 91.4h1v1h-1zM283.7 44.2h1v1h-1zM258.8 118.3h1v1h-1zM264.2 60.9h1v1h-1zM288.1 93.9h1v1h-1zM265.1 55.2h1v1h-1zM267.8 50.1h1v1h-1zM282.4 124.1h1v1h-1zM266.0 57.5h1v1h-1zM260.4 123.7h1v1h-1zM267.5 114.8h1v1h-1zM252.1 85.9h1v1h-1zM251.0 86.4h1v1h-1zM292.4 35.9h1v1h-1zM259.2 106.2h1v1h-1zM290.4 97.9h1v1h-1zM255.0 88.7h1v1h-1zM263.3 110.3h1v1h-1zM277.4 77.7h1v1h-1zM261.4 69.3h1v1h-1zM276.1 103.4h1v1h-1zM271.5 80.0h1v1h-1zM275.3 90.6h1v1h-1zM297.4 47.5h1v1h-1zM280.9 52.1h1v1h-1zM295.8 50.3h1v1h-1zM259.6 109.3h1v1h-1zM278.9 127.4h1v1h-1zM271.2 125.5h1v1h-1zM282.0 85.5h1v1h-1zM272.6 107.5h1v1h-1zM292.4 44.4h1v1h-1zM267.8 64.3h1v1h-1zM262.0 122.2h1v1h-1zM281.3 61.2h1v1h-1zM287.8 48.1h1v1h-1zM278.3 74.2h1v1h-1zM286.8 106.0h1v1h-1zM267.8 126.8h1v1h-1zM294.0 36.0h1v1h-1zM287.6 93.5h1v1h-1zM254.2 112.8h1v1h-1zM277.3 110.5h1v1h-1zM290.3 120.3h1v1h-1zM257.6 94.4h1v1h-1zM284.9 113.6h1v1h-1zM282.6 71.2h1v1h-1zM270.3 89.1h1v1h-1zM262.3 85.2h1v1h-1zM281.2 75.0h1v1h-1zM263.4 75.6h1v1h-1zM258.9 100.2h1v1h-1zM276.9 47.3h1v1h-1zM291.9 112.2h1v1h-1zM270.5 100.4h1v1h-1zM266.1 52.2h1v1h-1zM279.8 66.1h1v1h-1zM280.3 112.9h1v1h-1zM285.0 73.3h1v1h-1zM279.7 113.5h1v1h-1zM291.4 70.9h1v1h-1zM265.0 127.3h1v1h-1zM279.2 70.1h1v1h-1zM287.4 126.4h1v1h-1zM276.9 69.5h1v1h-1zM279.6 72.9h1v1h-1zM290.5 49.5h1v1h-1zM276.6 107.7h1v1h-1zM294.1 40.5h1v1h-1zM250.9 107.3h1v1h-1zM279.9 80.3h1v1h-1zM274.5 114.8h1v1h-1zM267.9 92.0h1v1h-1zM263.7 123.0h1v1h-1zM266.8 81.9h1v1h-1zM291.4 54.5h1v1h-1zM271.5 120.8h1v1h-1zM258.2 117.9h1v1h-1zM279.2 112.8h1v1h-1zM282.2 90.0h1v1h-1zM279.4 58.0h1v1h-1zM268.9 34.7h1v1h-1zM280.0 110.2h1v1h-1zM280.5 95.7h1v1h-1zM286.0 74.9h1v1h-1zM250.3 81.8h1v1h-1zM260.5 107.9h1v1h-1zM296.7 55.0h1v1h-1zM286.1 35.0h1v1h-1zM273.3 42.0h1v1h-1zM256.4 126.9h1v1h-1zM281.5 52.8h1v1h-1zM266.7 125.8h1v1h-1zM267.3 35.7h1v1h-1zM277.8 96.8h1v1h-1zM258.0 83.1h1v1h-1zM289.2 80.0h1v1h-1zM276.5 33.0h1v1h-1zM290.6 86.9h1v1h-1zM264.5 91.6h1v1h-1zM261.1 112.3h1v1h-1zM281.2 111.9h1v1h-1zM270.8 110.0h1v1h-1zM266.9 38.6h1v1h-1zM282.8 116.3h1v1h-1zM273.1 82.7h1v1h-1zM275.1 115.6h1v1h-1zM268.4 119.3h1v1h-1zM288.5 40.7h1v1h-1zM285.2 72.0h1v1h-1zM252.2 81.0h1v1h-1zM286.6 90.2h1v1h-1zM274.4 122.1h1v1h-1zM273.6 36.3h1v1h-1zM254.1 90.2h1v1h-1zM254.2 79.7h1v1h-1zM266.2 45.8h1v1h-1zM260.6 98.0h1v1h-1zM276.7 102.2h1v1h-1zM276.2 43.9h1v1h-1zM292.1 42.9h1v1h-1zM273.5 79.4h1v1h-1zM271.7 123.9h1v1h-1zM272.2 112.0h1v1h-1zM260.1 96.1h1v1h-1zM286.6 70.6h1v1h-1zM261.9 123.4h1v1h-1zM267.1 78.1h1v1h-1zM282.3 46.2h1v1h-1zM278.2 89.8h1v1h-1zM276.1 41.8h1v1h-1zM281.1 115.2h1v1h-1zM268.4 80.8h1v1h-1zM287.5 103.1h1v1h-1zM257.7 113.8h1v1h-1zM276.4 107.9h1v1h-1zM265.3 108.2h1v1h-1zM274.3 107.6h1v1h-1zM263.0 69.6h1v1h-1zM282.7 35.7h1v1h-1zM269.1 57.1h1v1h-1zM281.5 94.8h1v1h-1zM293.1 63.1h1v1h-1zM284.4 126.7h1v1h-1zM290.4 63.0h1v1h-1zM266.4 100.3h1v1h-1zM287.4 44.6h1v1h-1zM293.6 76.3h1v1h-1zM274.1 109.2h1v1h-1zM275.4 119.5h1v1h-1zM290.8 39.9h1v1h-1zM251.3 109.5h1v1h-1zM287.7 124.7h1v1h-1zM277.1 35.2h1v1h-1zM282.8 110.3h1v1h-1zM265.5 37.1h1v1h-1zM268.2 97.4h1v1h-1zM276.9 126.9h1v1h-1zM291.0 41.1h1v1h-1zM278.0 103.9h1v1h-1zM283.7 43.5h1v1h-1zM288.0 88.5h1v1h-1zM273.7 65.9h1v1h-1zM268.9 86.0h1v1h-1zM287.9 105.0h1v1h-1zM280.1 51.4h1v1h-1zM284.4 61.4h1v1h-1zM281.0 44.0h1v1h-1zM296.6 71.7h1v1h-1zM287.9 40.7h1v1h-1zM289.0 35.7h1v1h-1zM253.9 102.6h1v1h-1zM268.5 99.9h1v1h-1zM291.1 35.8h1v1h-1zM258.6 95.1h1v1h-1zM283.1 97.1h1v1h-1zM293.0 65.7h1v1h-1zM285.3 61.0h1v1h-1zM285.9 54.8h1v1h-1zM260.3 90.3h1v1h-1zM267.3 45.7h1v1h-1zM293.7 85.1h1v1h-1zM279.0 71.6h1v1h-1zM289.3 81.7h1v1h-1zM281.2 105.1h1v1h-1zM293.4 54.4h1v1h-1zM259.3 62.7h1v1h-1zM286.5 78.8h1v1h-1zM286.3 63.9h1v1h-1zM275.3 97.8h1v1h-1zM269.6 46.5h1v1h-1zM258.6 120.0h1v1h-1zM286.9 122.6h1v1h-1zM276.7 45.0h1v1h-1zM286.3 79.2h1v1h-1zM298.7 65.8h1v1h-1zM273.4 65.7h1v1h-1zM265.7 52.0h1v1h-1zM249.8 84.1h1v1h-1zM272.2 109.2h1v1h-1zM295.5 55.5h1v1h-1zM287.6 107.5h1v1h-1zM273.9 104.1h1v1h-1zM253.3 92.9h1v1h-1zM262.2 117.3h1v1h-1zM259.5 90.2h1v1h-1zM257.0 109.0h1v1h-1zM258.5 123.8h1v1h-1zM295.5 145.0h1v1h-1zM289.2 107.8h1v1h-1zM295.2 131.2h1v1h-1zM291.7 124.6h1v1h-1zM282.2 104.2h1v1h-1zM282.8 142.2h1v1h-1zM286.9 125.6h1v1h-1zM289.2 128.1h1v1h-1zM295.5 137.2h1v1h-1zM294.2 114.9h1v1h-1zM287.7 119.5h1v1h-1zM287.7 107.2h1v1h-1zM294.4 143.7h1v1h-1zM291.7 118.9h1v1h-1zM283.6 143.1h1v1h-1zM286.5 143.0h1v1h-1zM289.3 120.3h1v1h-1zM289.2 129.9h1v1h-1zM282.6 112.4h1v1h-1zM288.1 124.2h1v1h-1zM288.0 115.9h1v1h-1zM299.5 145.9h1v1h-1zM299.0 132.8h1v1h-1zM301.1 144.1h1v1h-1zM300.2 111.5h1v1h-1zM288.9 110.3h1v1h-1zM286.3 100.2h1v1h-1zM294.7 129.0h1v1h-1zM287.0 114.9h1v1h-1zM286.9 113.9h1v1h-1zM290.2 122.5h1v1h-1zM297.6 127.8h1v1h-1zM283.8 138.1h1v1h-1zM284.7 144.8h1v1h-1zM291.6 109.5h1v1h-1zM280.3 125.4h1v1h-1zM291.4 146.0h1v1h-1zM293.2 115.6h1v1h-1zM292.2 127.6h1v1h-1zM299.0 121.5h1v1h-1zM292.7 137.3h1v1h-1zM298.9 135.8h1v1h-1zM283.9 120.4h1v1h-1zM287.4 113.4h1v1h-1zM297.4 131.0h1v1h-1zM288.9 146.9h1v1h-1zM298.1 119.4h1v1h-1zM289.2 125.0h1v1h-1zM286.6 112.5h1v1h-1zM291.2 144.4h1v1h-1z" fill="#000" fill-opacity="0.7"/>
<path d="M445.7 78.4h1v1h-1zM452.3 74.8h1v1h-1zM451.8 74.8h1v1h-1zM453.4 85.6h1v1h-1zM462.7 76.2h1v1h-1zM464.0 82.8h1v1h-1zM463.3 76.4h1v1h-1zM448.9 83.2h1v1h-1zM448.2 81.1h1v1h-1zM453.2 78.1h1v1h-1zM455.9 85.6h1v1h-1zM439.7 75.6h1v1h-1zM449.0 78.0h1v1h-1zM464.7 75.9h1v1h-1zM445.0 76.2h1v1h-1zM448.2 77.6h1v1h-1zM448.4 75.6h1v1h-1zM456.2 77.7h1v1h-1zM452.6 84.1h1v1h-1zM450.9 72.9h1v1h-1zM443.2 74.6h1v1h-1zM457.0 75.6h1v1h-1zM453.0 77.2h1v1h-1zM448.7 82.2h1v1h-1zM453.2 81.2h1v1h-1zM458.1 80.4h1v1h-1zM443.4 79.5h1v1h-1zM442.9 86.9h1v1h-1zM446.4 75.0h1v1h-1zM447.3 74.9h1v1h-1zM433.2 78.7h1v1h-1zM449.1 79.5h1v1h-1zM460.2 78.0h1v1h-1zM450.9 76.0h1v1h-1zM459.6 74.4h1v1h-1zM434.3 77.9h1v1h-1zM452.3 76.4h1v1h-1zM462.0 77.2h1v1h-1zM463.2 75.1h1v1h-1zM449.8 83.3h1v1h-1zM447.6 80.3h1v1h-1zM455.5 85.1h1v1h-1zM445.1 77.1h1v1h-1zM450.6 79.0h1v1h-1zM442.1 78.0h1v1h-1zM453.5 78.9h1v1h-1zM453.0 77.9h1v1h-1zM463.6 78.2h1v1h-1zM455.3 72.1h1v1h-1zM448.7 77.9h1v1h-1zM452.4 81.1h1v1h-1zM444.6 72.2h1v1h-1zM453.2 77.6h1v1h-1zM451.6 80.7h1v1h-1zM455.7 83.1h1v1h-1zM459.1 78.5h1v1h-1zM440.0 80.3h1v1h-1zM455.1 84.7h1v1h-1zM457.8 83.2h1v1h-1zM445.2 77.3h1v1h-1zM465.4 76.8h1v1h-1zM448.3 82.2h1v1h-1zM469.0 79.5h1v1h-1zM458.1 77.0h1v1h-1zM459.3 78.0h1v1h-1zM454.8 79.9h1v1h-1zM459.6 78.1h1v1h-1zM446.3 77.9h1v1h-1zM447.7 78.0h1v1h-1zM440.2 73.8h1v1h-1zM456.5 84.7h1v1h-1zM448.4 82.9h1v1h-1zM457.9 83.9h1v1h-1zM456.9 78.3h1v1h-1zM444.3 79.2h1v1h-1zM457.6 80.7h1v1h-1zM454.7 81.6h1v1h-1zM454.3 72.6h1v1h-1zM456.0 80.0h1v1h-1zM452.8 75.4h1v1h-1zM453.1 78.6h1v1h-1zM459.9 76.6h1v1h-1zM446.5 84.5h1v1h-1zM445.2 80.6h1v1h-1zM448.0 78.7h1v1h-1zM459.7 83.5h1v1h-1zM450.9 78.6h1v1h-1zM465.5 76.4h1v1h-1zM432.9 78.2h1v1h-1zM448.4 77.6h1v1h-1zM450.1 79.0h1v1h-1zM454.8 81.6h1v1h-1zM461.7 78.4h1v1h-1zM451.8 78.6h1v1h-1zM446.4 82.2h1v1h-1zM458.5 79.8h1v1h-1zM463.1 82.0h1v1h-1zM436.3 79.3h1v1h-1zM456.8 74.4h1v1h-1zM454.9 75.0h1v1h-1zM447.6 73.2h1v1h-1zM449.9 82.6h1v1h-1zM454.9 80.2h1v1h-1zM453.2 77.2h1v1h-1zM451.4 75.5h1v1h-1zM445.4 80.0h1v1h-1zM454.9 78.4h1v1h-1zM448.7 79.9h1v1h-1zM453.6 76.0h1v1h-1zM449.2 75.1h1v1h-1zM454.3 84.1h1v1h-1zM457.9 75.6h1v1h-1zM454.5 78.7h1v1h-1zM457.3 83.3h1v1h-1zM444.0 72.6h1v1h-1zM456.0 81.2h1v1h-1zM454.9 79.0h1v1h-1zM448.9 78.3h1v1h-1zM451.9 79.7h1v1h-1zM434.8 74.8h1v1h-1zM453.5 71.3h1v1h-1zM450.3 85.2h1v1h-1zM438.2 77.8h1v1h-1zM456.3 81.8h1v1h-1zM448.8 82.5h1v1h-1zM454.8 79.8h1v1h-1zM451.4 80.3h1v1h-1zM456.1 81.2h1v1h-1zM453.5 84.1h1v1h-1zM451.1 80.5h1v1h-1zM456.2 83.0h1v1h-1zM458.4 77.8h1v1h-1zM438.2 77.4h1v1h-1zM453.1 79.1h1v1h-1zM449.1 80.1h1v1h-1zM445.8 80.6h1v1h-1zM461.5 85.4h1v1h-1zM459.2 81.6h1v1h-1zM446.2 79.0h1v1h-1zM445.7 85.5h1v1h-1zM458.3 79.9h1v1h-1zM448.9 80.0h1v1h-1zM450.8 80.5h1v1h-1zM440.1 77.7h1v1h-1zM452.1 75.1h1v1h-1zM460.4 79.3h1v1h-1zM450.0 77.8h1v1h-1zM452.2 75.9h1v1h-1zM464.3 79.2h1v1h-1zM458.7 78.1h1v1h-1zM462.2 76.8h1v1h-1zM457.1 72.8h1v1h-1zM460.8 78.2h1v1h-1zM442.1 84.7h1v1h-1zM447.6 81.8h1v1h-1zM442.2 82.4h1v1h-1zM467.4 78.7h1v1h-1zM454.1 82.4h1v1h-1zM452.1 76.5h1v1h-1zM448.0 77.3h1v1h-1zM446.4 80.6h1v1h-1zM434.7 74.0h1v1h-1zM467.5 79.0h1v1h-1zM452.4 79.8h1v1h-1zM453.4 84.5h1v1h-1zM443.8 76.5h1v1h-1zM452.6 80.2h1v1h-1zM455.4 76.6h1v1h-1zM452.4 77.0h1v1h-1zM457.0 69.7h1v1h-1zM447.5 75.7h1v1h-1zM455.1 82.7h1v1h-1zM458.8 80.6h1v1h-1zM456.6 79.3h1v1h-1zM455.4 87.1h1v1h-1zM452.3 80.6h1v1h-1zM446.5 74.7h1v1h-1zM456.5 78.1h1v1h-1zM450.4 78.6h1v1h-1zM446.8 84.2h1v1h-1zM457.9 75.8h1v1h-1zM442.5 80.2h1v1h-1zM449.3 82.1h1v1h-1zM458.0 76.1h1v1h-1zM459.1 79.1h1v1h-1zM450.5 72.1h1v1h-1zM453.4 79.1h1v1h-1zM456.5 71.4h1v1h-1zM452.5 77.5h1v1h-1zM447.9 84.6h1v1h-1zM455.8 80.2h1v1h-1zM454.0 79.0h1v1h-1zM453.6 79.3h1v1h-1zM460.2 86.1h1v1h-1zM454.9 80.7h1v1h-1zM450.0 82.3h1v1h-1zM454.0 77.4h1v1h-1zM465.6 77.4h1v1h-1zM448.3 75.3h1v1h-1zM451.2 78.2h1v1h-1zM447.7 76.5h1v1h-1zM455.2 82.1h1v1h-1zM444.7 81.0h1v1h-1zM455.9 78.4h1v1h-1zM457.9 77.0h1v1h-1zM447.9 69.1h1v1h-1zM447.4 76.8h1v1h-1zM443.3 79.8h1v1h-1zM453.2 81.0h1v1h-1zM445.7 68.4h1v1h-1zM448.9 70.7h1v1h-1zM450.2 79.3h1v1h-1zM448.5 75.3h1v1h-1zM458.4 78.1h1v1h-1zM463.3 77.2h1v1h-1zM439.1 80.8h1v1h-1zM447.7 72.6h1v1h-1zM454.6 76.9h1v1h-1zM446.1 82.0h1v1h-1zM449.5 79.5h1v1h-1zM454.3 76.0h1v1h-1zM462.0 80.3h1v1h-1zM460.6 79.8h1v1h-1zM451.1 75.8h1v1h-1zM453.8 81.1h1v1h-1zM450.6 81.1h1v1h-1zM451.8 78.4h1v1h-1zM445.3 82.0h1v1h-1zM441.5 74.9h1v1h-1zM450.6 81.4h1v1h-1zM459.3 78.2h1v1h-1zM457.9 75.7h1v1h-1zM440.8 76.8h1v1h-1zM451.7 82.7h1v1h-1zM448.9 77.0h1v1h-1zM454.8 77.7h1v1h-1zM445.8 76.6h1v1h-1zM458.9 76.2h1v1h-1zM451.6 82.1h1v1h-1zM456.7 86.3h1v1h-1zM458.7 83.3h1v1h-1zM440.3 80.5h1v1h-1zM451.6 81.4h1v1h-1zM462.8 77.7h1v1h-1zM453.1 77.2h1v1h-1zM459.7 74.9h1v1h-1zM455.7 83.7h1v1h-1zM449.7 77.7h1v1h-1zM454.8 76.4h1v1h-1zM459.8 76.7h1v1h-1zM461.3 79.5h1v1h-1zM462.4 77.0h1v1h-1zM445.8 78.9h1v1h-1zM458.4 79.4h1v1h-1zM444.0 83.3h1v1h-1zM452.1 74.7h1v1h-1zM451.6 79.8h1v1h-1zM457.0 76.5h1v1h-1zM455.0 77.4h1v1h-1zM461.1 84.3h1v1h-1zM449.0 80.9h1v1h-1zM458.4 77.5h1v1h-1zM455.5 80.5h1v1h-1zM453.0 78.8h1v1h-1zM445.2 82.6h1v1h-1zM456.7 77.2h1v1h-1zM455.0 80.5h1v1h-1zM458.1 78.1h1v1h-1zM452.7 78.9h1v1h-1zM451.3 78.3h1v1h-1zM455.5 76.7h1v1h-1zM456.0 79.2h1v1h-1zM457.4 82.1h1v1h-1zM465.3 76.8h1v1h-1zM449.0 77.5h1v1h-1zM466.0 80.1h1v1h-1zM433.8 76.3h1v1h-1zM459.2 81.8h1v1h-1zM447.7 81.2h1v1h-1zM466.0 71.1h1v1h-1zM447.2 76.6h1v1h-1zM459.9 75.2h1v1h-1zM446.6 81.6h1v1h-1zM445.6 82.0h1v1h-1zM458.2 74.8h1v1h-1zM458.6 76.5h1v1h-1zM448.4 78.6h1v1h-1zM468.6 77.6h1v1h-1zM450.9 81.2h1v1h-1zM463.1 82.1h1v1h-1zM446.4 80.8h1v1h-1zM446.7 82.5h1v1h-1zM453.6 82.0h1v1h-1zM446.4 78.6h1v1h-1zM455.9 77.4h1v1h-1zM439.1 76.4h1v1h-1zM454.1 81.6h1v1h-1zM449.3 81.8h1v1h-1zM446.8 82.2h1v1h-1zM454.4 77.7h1v1h-1zM451.5 77.5h1v1h-1zM450.1 79.7h1v1h-1zM458.2 83.0h1v1h-1zM454.9 80.0h1v1h-1zM455.4 79.6h1v1h-1zM461.6 76.1h1v1h-1zM452.5 80.3h1v1h-1zM458.4 80.6h1v1h-1zM450.3 75.7h1v1h-1zM456.9 84.7h1v1h-1zM456.4 75.8h1v1h-1zM449.4 82.0h1v1h-1zM443.2 78.2h1v1h-1zM444.7 79.4h1v1h-1zM446.9 76.2h1v1h-1zM456.6 77.0h1v1h-1zM452.1 81.2h1v1h-1zM451.1 78.2h1v1h-1zM456.1 77.7h1v1h-1zM457.7 81.8h1v1h-1zM462.0 81.2h1v1h-1zM449.1 79.4h1v1h-1zM456.5 79.6h1v1h-1zM457.6 84.6h1v1h-1zM446.8 78.3h1v1h-1zM453.8 80.2h1v1h-1zM447.1 80.3h1v1h-1zM451.5 74.2h1v1h-1zM455.7 72.4h1v1h-1zM442.0 79.3h1v1h-1zM447.3 81.8h1v1h-1zM447.8 79.5h1v1h-1zM453.6 77.1h1v1h-1zM448.2 76.7h1v1h-1zM455.4 81.6h1v1h-1zM447.4 77.9h1v1h-1zM449.6 73.5h1v1h-1zM456.9 81.1h1v1h-1zM455.0 79.6h1v1h-1zM454.0 80.1h1v1h-1zM452.7 82.3h1v1h-1zM459.5 83.3h1v1h-1zM461.9 80.7h1v1h-1zM450.6 78.3h1v1h-1zM448.3 71.8h1v1h-1zM446.3 79.8h1v1h-1zM464.2 78.3h1v1h-1zM447.2 83.3h1v1h-1zM444.4 83.1h1v1h-1zM454.7 80.4h1v1h-1zM459.8 83.4h1v1h-1zM445.0 78.6h1v1h-1zM452.2 78.7h1v1h-1zM443.7 76.0h1v1h-1zM448.5 77.8h1v1h-1zM463.5 79.6h1v1h-1zM454.1 82.4h1v1h-1zM451.3 76.4h1v1h-1zM453.4 81.5h1v1h-1zM454.8 86.7h1v1h-1z" fill="#000" fill-opacity="0.85"/><path d="M439.4 84.7h1v1h-1zM450.1 76.1h1v1h-1zM452.8 76.4h1v1h-1zM462.5 62.7h1v1h-1zM472.2 85.3h1v1h-1zM464.8 71.3h1v1h-1zM452.3 84.0h1v1h-1zM444.3 74.9h1v1h-1zM452.1 78.0h1v1h-1zM452.3 77.7h1v1h-1zM455.0 66.4h1v1h-1zM443.8 98.2h1v1h-1zM467.6 68.1h1v1h-1zM445.5 79.8h1v1h-1zM459.3 73.3h1v1h-1zM454.7 77.3h1v1h-1zM441.8 88.6h1v1h-1zM453.3 66.0h1v1h-1zM452.8 78.0h1v1h-1zM450.8 82.4h1v1h-1zM460.6 79.8h1v1h-1zM447.9 81.8h1v1h-1zM477.7 73.8h1v1h-1zM463.7 67.5h1v1h-1zM443.6 69.8h1v1h-1zM428.1 76.1h1v1h-1zM465.0 84.2h1v1h-1zM455.1 79.6h1v1h-1zM453.4 90.2h1v1h-1zM443.0 79.7h1v1h-1zM438.4 80.4h1v1h-1zM434.2 80.4h1v1h-1zM477.9 66.9h1v1h-1zM468.4 83.0h1v1h-1zM447.2 71.2h1v1h-1zM471.1 76.3h1v1h-1zM434.3 95.4h1v1h-1zM459.5 70.3h1v1h-1zM459.6 79.8h1v1h-1zM444.1 81.0h1v1h-1zM448.1 79.9h1v1h-1zM442.3 79.0h1v1h-1zM453.0 75.1h1v1h-1zM465.6 92.9h1v1h-1zM462.4 65.0h1v1h-1zM456.7 71.8h1v1h-1zM463.6 89.4h1v1h-1zM434.9 82.8h1v1h-1zM472.6 73.6h1v1h-1zM452.1 72.7h1v1h-1zM439.5 77.3h1v1h-1zM448.8 97.5h1v1h-1zM446.1 82.5h1v1h-1zM453.5 71.8h1v1h-1zM455.7 80.7h1v1h-1zM429.4 74.6h1v1h-1zM465.0 89.5h1v1h-1zM469.7 81.1h1v1h-1zM442.3 87.8h1v1h-1zM467.2 80.1h1v1h-1zM465.0 93.3h1v1h-1zM462.6 81.9h1v1h-1zM468.7 81.0h1v1h-1zM438.8 71.9h1v1h-1zM459.7 76.1h1v1h-1zM442.5 81.7h1v1h-1zM476.1 75.5h1v1h-1zM442.9 96.4h1v1h-1zM440.4 78.9h1v1h-1zM463.7 73.7h1v1h-1zM458.7 85.9h1v1h-1zM452.8 75.3h1v1h-1zM453.9 81.8h1v1h-1zM458.6 78.3h1v1h-1zM469.7 74.0h1v1h-1zM445.4 88.7h1v1h-1zM447.0 79.6h1v1h-1zM446.8 86.6h1v1h-1zM451.8 76.6h1v1h-1zM452.7 69.0h1v1h-1zM439.7 70.3h1v1h-1zM455.5 75.4h1v1h-1zM439.9 77.7h1v1h-1zM449.4 79.4h1v1h-1zM450.0 82.6h1v1h-1zM450.1 70.3h1v1h-1zM467.3 80.6h1v1h-1zM468.9 70.5h1v1h-1zM463.3 74.2h1v1h-1zM468.3 97.0h1v1h-1zM449.7 87.9h1v1h-1zM466.6 76.5h1v1h-1zM452.0 91.5h1v1h-1zM454.8 88.9h1v1h-1zM455.2 85.2h1v1h-1zM439.2 89.3h1v1h-1zM446.4 77.3h1v1h-1zM450.9 78.1h1v1h-1zM456.2 73.0h1v1h-1zM451.3 83.1h1v1h-1zM444.0 70.2h1v1h-1zM441.0 75.5h1v1h-1zM452.6 82.2h1v1h-1zM440.7 75.5h1v1h-1zM440.7 81.4h1v1h-1zM451.5 91.8h1v1h-1zM454.3 72.1h1v1h-1zM444.2 88.8h1v1h-1zM434.7 74.2h1v1h-1zM455.4 72.5h1v1h-1zM447.6 104.2h1v1h-1zM453.4 116.2h1v1h-1zM453.6 101.3h1v1h-1zM448.6 121.9h1v1h-1zM465.8 121.4h1v1h-1zM452.0 113.1h1v1h-1zM454.7 104.0h1v1h-1zM453.3 106.6h1v1h-1zM451.7 100.6h1v1h-1zM456.7 119.1h1v1h-1zM460.9 125.6h1v1h-1zM452.2 99.6h1v1h-1zM447.6 98.2h1v1h-1zM455.9 109.4h1v1h-1zM439.8 126.1h1v1h-1zM453.6 102.4h1v1h-1zM451.5 102.4h1v1h-1zM454.6 108.4h1v1h-1zM443.7 106.4h1v1h-1zM450.0 104.2h1v1h-1zM446.5 113.8h1v1h-1zM449.4 99.4h1v1h-1zM456.1 98.8h1v1h-1zM451.4 111.3h1v1h-1zM449.0 125.4h1v1h-1zM459.6 102.1h1v1h-1zM452.6 103.1h1v1h-1zM440.5 103.0h1v1h-1zM446.3 98.6h1v1h-1zM454.9 99.0h1v1h-1zM455.1 105.9h1v1h-1zM453.8 104.9h1v1h-1zM454.0 114.2h1v1h-1zM447.1 101.1h1v1h-1zM451.9 124.2h1v1h-1zM445.4 113.6h1v1h-1zM447.5 120.9h1v1h-1zM447.0 99.9h1v1h-1zM447.4 121.3h1v1h-1zM450.3 108.6h1v1h-1zM451.0 106.3h1v1h-1zM447.6 123.2h1v1h-1zM458.7 109.6h1v1h-1zM449.6 105.1h1v1h-1zM461.4 108.4h1v1h-1zM458.2 114.3h1v1h-1zM445.1 103.5h1v1h-1zM457.5 111.6h1v1h-1zM444.0 106.2h1v1h-1zM460.8 100.0h1v1h-1zM454.2 96.9h1v1h-1zM446.3 121.5h1v1h-1zM439.2 123.8h1v1h-1zM449.8 104.8h1v1h-1zM444.2 119.7h1v1h-1zM458.6 108.6h1v1h-1zM444.8 106.9h1v1h-1zM450.8 104.9h1v1h-1zM455.0 106.2h1v1h-1zM452.2 107.0h1v1h-1zM459.8 55.4h1v1h-1zM445.4 56.5h1v1h-1zM450.2 45.1h1v1h-1zM446.4 34.0h1v1h-1zM458.2 59.9h1v1h-1zM449.6 58.6h1v1h-1zM460.2 60.0h1v1h-1zM448.8 54.9h1v1h-1zM454.7 61.7h1v1h-1zM457.4 41.6h1v1h-1zM458.7 37.5h1v1h-1zM445.9 57.3h1v1h-1zM450.8 56.8h1v1h-1zM452.5 41.5h1v1h-1zM442.1 50.8h1v1h-1zM457.2 36.6h1v1h-1zM455.3 38.1h1v1h-1zM456.0 61.2h1v1h-1zM444.7 58.4h1v1h-1zM454.0 38.9h1v1h-1zM455.5 52.3h1v1h-1zM459.1 53.9h1v1h-1zM449.9 48.8h1v1h-1zM457.0 48.0h1v1h-1zM464.6 53.1h1v1h-1zM450.4 34.7h1v1h-1zM450.5 61.0h1v1h-1zM451.0 51.1h1v1h-1zM444.1 47.4h1v1h-1zM450.8 41.9h1v1h-1zM462.6 41.7h1v1h-1zM447.5 51.3h1v1h-1zM451.8 39.4h1v1h-1zM460.1 53.6h1v1h-1zM456.3 36.4h1v1h-1z" fill="#000" fill-opacity="0.65"/><path d="M454.2 157.7h1v1h-1zM460.2 140.6h1v1h-1zM447.1 144.4h1v1h-1zM447.0 137.3h1v1h-1zM449.2 139.5h1v1h-1zM447.1 162.4h1v1h-1zM453.9 143.8h1v1h-1zM447.2 132.0h1v1h-1zM450.6 154.4h1v1h-1zM455.2 134.7h1v1h-1zM449.4 146.2h1v1h-1zM461.2 155.2h1v1h-1zM447.4 143.4h1v1h-1zM446.7 130.4h1v1h-1zM467.8 153.3h1v1h-1zM463.8 160.3h1v1h-1zM453.0 151.4h1v1h-1zM458.7 160.6h1v1h-1zM455.1 143.8h1v1h-1zM448.7 134.3h1v1h-1zM457.6 139.0h1v1h-1zM454.8 155.7h1v1h-1zM462.1 160.7h1v1h-1zM438.7 136.6h1v1h-1zM458.6 156.6h1v1h-1zM453.8 154.4h1v1h-1zM447.3 135.1h1v1h-1zM449.3 156.7h1v1h-1zM449.5 142.2h1v1h-1zM442.6 132.2h1v1h-1zM448.2 147.2h1v1h-1zM458.4 136.1h1v1h-1zM441.1 146.4h1v1h-1zM449.7 161.4h1v1h-1zM434.8 134.2h1v1h-1zM448.2 146.9h1v1h-1zM455.4 145.5h1v1h-1zM452.1 133.1h1v1h-1zM452.8 148.9h1v1h-1zM444.1 135.9h1v1h-1zM456.8 159.6h1v1h-1zM445.7 157.8h1v1h-1zM459.3 146.1h1v1h-1zM454.1 135.8h1v1h-1zM449.6 132.2h1v1h-1zM463.6 135.3h1v1h-1zM449.5 146.0h1v1h-1zM460.2 148.1h1v1h-1zM453.3 131.9h1v1h-1zM452.5 153.9h1v1h-1zM460.0 144.5h1v1h-1zM455.8 162.1h1v1h-1zM452.4 141.2h1v1h-1zM451.6 143.6h1v1h-1zM454.1 155.5h1v1h-1zM453.1 141.8h1v1h-1zM450.1 155.2h1v1h-1zM444.7 146.4h1v1h-1zM433.1 131.2h1v1h-1zM451.7 159.6h1v1h-1zM450.7 159.4h1v1h-1zM461.6 131.6h1v1h-1zM455.9 138.9h1v1h-1zM461.1 147.4h1v1h-1zM465.5 130.8h1v1h-1zM451.7 141.5h1v1h-1zM446.2 129.4h1v1h-1zM458.6 146.1h1v1h-1zM448.0 144.4h1v1h-1zM450.6 160.4h1v1h-1zM463.3 156.0h1v1h-1zM456.7 136.7h1v1h-1zM460.7 151.5h1v1h-1zM442.4 161.5h1v1h-1zM452.8 131.6h1v1h-1zM460.9 146.2h1v1h-1zM442.9 132.2h1v1h-1zM454.0 136.1h1v1h-1zM455.5 144.8h1v1h-1zM435.2 127.3h1v1h-1zM464.5 144.3h1v1h-1zM447.2 137.7h1v1h-1zM451.5 129.3h1v1h-1zM465.1 146.1h1v1h-1zM439.1 134.2h1v1h-1zM456.0 134.2h1v1h-1zM449.2 160.9h1v1h-1zM452.8 142.7h1v1h-1zM446.4 146.7h1v1h-1zM462.8 130.7h1v1h-1zM444.1 161.3h1v1h-1zM455.2 148.1h1v1h-1zM456.6 137.6h1v1h-1zM451.8 150.9h1v1h-1zM450.5 150.2h1v1h-1zM450.5 144.5h1v1h-1zM460.2 142.3h1v1h-1zM455.9 130.4h1v1h-1zM451.9 154.4h1v1h-1zM444.3 128.4h1v1h-1zM453.7 129.3h1v1h-1zM456.5 149.5h1v1h-1zM452.3 158.4h1v1h-1zM463.3 159.4h1v1h-1zM438.2 134.9h1v1h-1zM471.2 156.3h1v1h-1zM451.2 133.6h1v1h-1zM444.0 133.9h1v1h-1zM439.4 143.6h1v1h-1zM459.0 147.7h1v1h-1zM456.8 146.1h1v1h-1zM450.9 159.9h1v1h-1zM452.2 144.9h1v1h-1zM453.8 140.0h1v1h-1zM449.4 143.7h1v1h-1zM461.2 133.7h1v1h-1zM457.2 153.0h1v1h-1zM451.6 133.4h1v1h-1zM440.2 144.4h1v1h-1zM462.8 130.3h1v1h-1zM449.0 153.0h1v1h-1zM444.8 140.1h1v1h-1zM462.2 155.3h1v1h-1zM456.3 133.0h1v1h-1zM437.4 144.6h1v1h-1zM440.1 158.5h1v1h-1zM449.6 153.3h1v1h-1zM443.1 134.4h1v1h-1zM451.4 130.5h1v1h-1zM472.2 148.5h1v1h-1zM474.9 162.3h1v1h-1zM452.2 141.6h1v1h-1zM458.6 152.3h1v1h-1zM459.2 151.5h1v1h-1zM451.7 162.2h1v1h-1zM441.5 141.6h1v1h-1zM460.6 130.2h1v1h-1zM451.2 130.6h1v1h-1zM456.0 159.7h1v1h-1zM457.9 134.7h1v1h-1zM446.5 148.0h1v1h-1zM465.2 149.9h1v1h-1zM453.1 159.4h1v1h-1zM454.3 142.3h1v1h-1zM449.3 136.0h1v1h-1zM457.9 159.7h1v1h-1zM460.2 149.1h1v1h-1zM457.0 155.0h1v1h-1zM449.3 150.9h1v1h-1zM443.3 144.0h1v1h-1zM450.1 127.0h1v1h-1zM457.1 156.6h1v1h-1zM456.7 139.9h1v1h-1zM460.7 129.1h1v1h-1zM447.5 153.6h1v1h-1zM450.3 162.5h1v1h-1zM453.1 153.5h1v1h-1zM457.2 133.3h1v1h-1zM451.7 139.4h1v1h-1zM445.4 139.3h1v1h-1zM440.9 137.9h1v1h-1zM461.4 151.6h1v1h-1zM460.6 153.0h1v1h-1zM447.6 137.0h1v1h-1zM463.7 141.1h1v1h-1zM452.1 138.6h1v1h-1zM456.0 136.3h1v1h-1zM462.1 150.6h1v1h-1zM449.0 155.8h1v1h-1zM446.8 152.8h1v1h-1zM439.5 161.6h1v1h-1zM454.9 160.9h1v1h-1zM456.0 161.7h1v1h-1zM459.1 155.2h1v1h-1zM457.1 140.3h1v1h-1zM453.4 153.9h1v1h-1zM461.2 161.8h1v1h-1zM444.9 136.9h1v1h-1zM455.5 139.7h1v1h-1zM456.5 127.9h1v1h-1zM451.7 159.6h1v1h-1zM465.6 155.7h1v1h-1zM455.9 131.4h1v1h-1zM462.8 143.0h1v1h-1zM459.4 137.5h1v1h-1zM451.3 139.5h1v1h-1zM467.2 142.8h1v1h-1zM461.0 160.9h1v1h-1zM452.8 138.2h1v1h-1zM451.7 147.8h1v1h-1zM444.8 153.8h1v1h-1zM451.5 152.5h1v1h-1zM450.8 128.3h1v1h-1zM454.2 139.5h1v1h-1zM449.4 156.8h1v1h-1zM456.9 133.3h1v1h-1zM452.0 143.2h1v1h-1zM440.7 155.4h1v1h-1zM448.8 134.4h1v1h-1zM445.9 144.6h1v1h-1zM443.0 161.3h1v1h-1zM450.7 130.5h1v1h-1zM459.5 137.3h1v1h-1zM444.2 127.9h1v1h-1zM437.5 129.1h1v1h-1zM451.4 156.0h1v1h-1zM475.1 146.1h1v1h-1zM448.2 149.2h1v1h-1zM454.7 136.4h1v1h-1zM449.5 152.4h1v1h-1zM459.1 132.2h1v1h-1zM463.5 134.2h1v1h-1zM451.4 129.2h1v1h-1zM461.5 161.1h1v1h-1zM444.5 138.8h1v1h-1zM454.2 137.4h1v1h-1zM443.1 142.2h1v1h-1zM454.1 135.4h1v1h-1zM448.0 159.8h1v1h-1zM454.5 137.1h1v1h-1zM444.2 128.6h1v1h-1zM454.4 157.3h1v1h-1zM453.5 153.2h1v1h-1zM448.4 133.6h1v1h-1zM446.6 140.5h1v1h-1zM443.7 132.7h1v1h-1zM449.7 159.4h1v1h-1zM455.7 159.9h1v1h-1zM451.7 128.9h1v1h-1zM453.8 134.8h1v1h-1zM462.2 141.8h1v1h-1zM450.2 149.3h1v1h-1zM454.9 156.9h1v1h-1zM458.9 159.3h1v1h-1zM456.6 160.6h1v1h-1zM455.6 147.7h1v1h-1zM453.3 153.7h1v1h-1zM467.2 159.2h1v1h-1zM452.1 153.7h1v1h-1zM449.8 143.7h1v1h-1zM457.1 156.8h1v1h-1zM465.0 149.6h1v1h-1zM463.3 137.3h1v1h-1zM452.9 128.1h1v1h-1zM459.0 154.5h1v1h-1zM456.4 127.7h1v1h-1zM453.3 155.4h1v1h-1zM457.6 155.1h1v1h-1zM457.4 133.9h1v1h-1zM453.8 157.8h1v1h-1zM465.7 147.1h1v1h-1zM449.9 161.3h1v1h-1zM463.2 160.6h1v1h-1zM468.5 127.8h1v1h-1zM468.6 135.5h1v1h-1zM454.8 156.3h1v1h-1zM451.3 146.0h1v1h-1zM440.7 132.3h1v1h-1zM452.3 145.4h1v1h-1zM471.1 139.5h1v1h-1zM440.9 140.9h1v1h-1zM441.1 131.0h1v1h-1zM459.0 148.9h1v1h-1zM457.3 156.8h1v1h-1zM439.0 140.9h1v1h-1zM452.3 138.4h1v1h-1zM455.3 159.6h1v1h-1zM441.3 149.7h1v1h-1zM459.9 162.1h1v1h-1zM442.7 157.4h1v1h-1zM461.2 134.6h1v1h-1zM454.2 152.2h1v1h-1zM447.4 132.6h1v1h-1zM440.6 132.9h1v1h-1zM450.1 150.0h1v1h-1zM452.0 128.1h1v1h-1zM451.7 135.3h1v1h-1zM448.2 161.9h1v1h-1zM451.1 137.6h1v1h-1zM459.2 152.8h1v1h-1zM445.8 152.5h1v1h-1zM451.1 146.5h1v1h-1zM456.1 157.3h1v1h-1zM452.5 134.3h1v1h-1zM459.2 132.0h1v1h-1zM464.4 155.6h1v1h-1zM450.0 139.4h1v1h-1zM454.3 134.2h1v1h-1zM430.6 145.6h1v1h-1zM450.1 151.8h1v1h-1zM457.7 145.9h1v1h-1zM444.2 156.1h1v1h-1zM462.7 139.5h1v1h-1zM438.5 155.8h1v1h-1zM462.8 160.1h1v1h-1zM448.8 148.0h1v1h-1zM445.0 151.3h1v1h-1zM449.0 147.6h1v1h-1zM450.7 137.8h1v1h-1zM445.0 135.9h1v1h-1zM442.3 153.0h1v1h-1zM448.7 132.3h1v1h-1zM459.8 141.6h1v1h-1zM455.7 140.4h1v1h-1zM462.7 159.1h1v1h-1zM448.1 146.3h1v1h-1zM450.0 136.6h1v1h-1zM450.1 142.7h1v1h-1zM453.7 129.2h1v1h-1zM456.1 137.0h1v1h-1zM465.9 151.6h1v1h-1zM457.9 135.8h1v1h-1zM453.9 137.8h1v1h-1zM462.8 159.9h1v1h-1zM446.7 136.8h1v1h-1zM442.7 147.7h1v1h-1zM453.9 130.2h1v1h-1zM453.5 141.7h1v1h-1zM459.6 155.8h1v1h-1zM450.1 154.6h1v1h-1zM451.8 149.4h1v1h-1zM455.5 152.6h1v1h-1zM457.5 132.2h1v1h-1zM460.0 129.2h1v1h-1zM453.5 131.5h1v1h-1zM454.6 159.4h1v1h-1zM434.4 133.4h1v1h-1zM461.8 151.9h1v1h-1zM458.8 149.8h1v1h-1zM452.0 137.0h1v1h-1zM449.8 156.1h1v1h-1zM443.2 150.5h1v1h-1zM446.0 153.7h1v1h-1zM454.1 150.2h1v1h-1zM451.7 148.1h1v1h-1zM438.8 145.6h1v1h-1zM446.2 157.3h1v1h-1zM453.3 162.3h1v1h-1zM469.3 158.5h1v1h-1zM437.4 156.4h1v1h-1zM456.8 143.8h1v1h-1zM448.7 141.2h1v1h-1zM455.5 160.2h1v1h-1zM450.3 157.1h1v1h-1zM445.6 142.8h1v1h-1zM443.3 154.8h1v1h-1zM451.0 156.8h1v1h-1zM440.3 151.0h1v1h-1zM458.2 140.2h1v1h-1zM443.6 155.2h1v1h-1zM460.9 142.3h1v1h-1zM454.0 137.4h1v1h-1zM450.6 161.4h1v1h-1zM454.0 152.7h1v1h-1zM448.0 149.0h1v1h-1zM451.4 145.8h1v1h-1zM448.1 160.2h1v1h-1zM457.2 155.4h1v1h-1zM446.0 143.2h1v1h-1zM451.7 145.0h1v1h-1zM458.1 155.1h1v1h-1zM444.0 162.3h1v1h-1zM454.0 159.2h1v1h-1zM437.9 152.3h1v1h-1zM444.4 160.3h1v1h-1zM449.1 145.0h1v1h-1zM457.6 147.9h1v1h-1zM456.5 155.9h1v1h-1zM445.9 153.7h1v1h-1zM451.0 144.0h1v1h-1zM453.1 154.9h1v1h-1zM441.7 151.9h1v1h-1zM454.6 160.0h1v1h-1zM460.6 159.2h1v1h-1zM459.9 161.3h1v1h-1zM448.0 162.3h1v1h-1zM449.2 159.1h1v1h-1zM445.8 152.3h1v1h-1zM448.6 146.4h1v1h-1zM450.2 156.6h1v1h-1zM456.3 145.7h1v1h-1zM452.4 158.1h1v1h-1zM445.8 162.5h1v1h-1zM457.2 157.5h1v1h-1zM457.6 155.3h1v1h-1zM447.9 159.0h1v1h-1zM450.2 152.6h1v1h-1zM451.2 149.3h1v1h-1zM441.2 142.2h1v1h-1zM452.7 152.4h1v1h-1zM456.2 132.5h1v1h-1zM464.5 157.8h1v1h-1zM453.1 157.3h1v1h-1zM450.0 160.0h1v1h-1zM450.9 162.1h1v1h-1zM455.8 156.3h1v1h-1zM457.0 129.7h1v1h-1zM446.3 157.1h1v1h-1zM453.1 159.3h1v1h-1zM456.1 157.0h1v1h-1zM438.8 141.6h1v1h-1zM460.8 152.8h1v1h-1zM450.5 156.3h1v1h-1zM457.5 146.6h1v1h-1zM451.6 153.7h1v1h-1zM450.3 156.1h1v1h-1zM451.4 152.0h1v1h-1zM453.7 147.2h1v1h-1zM457.5 156.9h1v1h-1zM450.2 155.2h1v1h-1zM444.6 155.4h1v1h-1zM445.5 134.0h1v1h-1zM456.8 139.2h1v1h-1zM445.7 142.7h1v1h-1zM461.8 152.8h1v1h-1zM452.7 157.1h1v1h-1zM460.4 157.3h1v1h-1zM449.5 152.5h1v1h-1zM450.0 145.3h1v1h-1zM457.0 137.5h1v1h-1zM456.7 150.7h1v1h-1zM445.4 153.8h1v1h-1zM467.9 157.5h1v1h-1zM455.6 141.1h1v1h-1zM443.8 160.8h1v1h-1zM450.8 160.4h1v1h-1zM457.9 147.9h1v1h-1zM453.4 152.1h1v1h-1zM457.5 158.6h1v1h-1zM467.3 161.3h1v1h-1zM458.0 161.5h1v1h-1zM465.0 154.8h1v1h-1zM456.4 157.5h1v1h-1zM447.6 160.8h1v1h-1zM461.8 141.8h1v1h-1zM447.4 147.2h1v1h-1zM458.2 135.4h1v1h-1zM456.2 153.7h1v1h-1zM446.5 147.9h1v1h-1zM447.4 152.5h1v1h-1zM450.9 157.9h1v1h-1zM454.6 140.6h1v1h-1zM460.7 159.3h1v1h-1zM452.5 143.5h1v1h-1zM464.4 158.2h1v1h-1zM457.8 149.5h1v1h-1zM447.9 162.4h1v1h-1zM448.1 144.4h1v1h-1zM452.7 140.2h1v1h-1zM448.8 153.4h1v1h-1zM451.6 157.6h1v1h-1zM457.2 160.0h1v1h-1zM453.9 153.1h1v1h-1zM458.5 154.3h1v1h-1zM447.7 155.3h1v1h-1zM446.6 156.1h1v1h-1zM443.1 150.5h1v1h-1zM440.6 157.6h1v1h-1zM449.3 139.7h1v1h-1zM452.7 151.6h1v1h-1zM450.9 142.4h1v1h-1zM452.3 156.0h1v1h-1zM465.5 152.6h1v1h-1zM445.2 142.6h1v1h-1zM450.5 153.7h1v1h-1zM449.1 151.1h1v1h-1zM446.4 145.3h1v1h-1zM461.1 159.7h1v1h-1zM452.1 152.2h1v1h-1zM460.4 149.2h1v1h-1zM445.0 157.5h1v1h-1zM464.5 159.2h1v1h-1zM467.0 152.5h1v1h-1zM446.6 149.2h1v1h-1zM452.2 157.2h1v1h-1zM451.5 154.7h1v1h-1zM455.9 151.6h1v1h-1zM443.9 161.9h1v1h-1zM455.4 161.1h1v1h-1zM457.0 156.1h1v1h-1zM448.4 147.5h1v1h-1zM437.6 161.8h1v1h-1zM447.9 146.6h1v1h-1zM449.8 152.7h1v1h-1zM457.3 157.9h1v1h-1zM448.3 151.3h1v1h-1zM444.9 158.8h1v1h-1zM456.4 153.8h1v1h-1zM454.8 160.9h1v1h-1zM457.1 153.9h1v1h-1zM452.7 153.1h1v1h-1zM459.2 143.7h1v1h-1zM440.8 155.1h1v1h-1zM453.7 158.6h1v1h-1zM457.4 153.8h1v1h-1zM452.6 151.4h1v1h-1zM461.9 161.2h1v1h-1zM449.4 152.2h1v1h-1zM456.9 154.1h1v1h-1zM444.4 156.1h1v1h-1zM452.4 147.3h1v1h-1zM448.8 156.7h1v1h-1zM445.9 161.1h1v1h-1zM443.9 154.0h1v1h-1zM453.8 155.1h1v1h-1zM455.2 157.2h1v1h-1zM444.3 145.9h1v1h-1zM446.7 161.5h1v1h-1zM457.3 149.1h1v1h-1zM444.6 160.4h1v1h-1zM459.8 136.6h1v1h-1zM441.5 144.3h1v1h-1zM454.2 138.8h1v1h-1zM456.7 156.2h1v1h-1zM460.3 154.4h1v1h-1zM449.6 160.9h1v1h-1zM447.4 150.9h1v1h-1zM443.1 153.6h1v1h-1zM458.3 156.2h1v1h-1zM451.6 147.2h1v1h-1zM449.4 152.9h1v1h-1zM449.7 155.1h1v1h-1zM454.1 160.3h1v1h-1zM452.6 161.5h1v1h-1zM460.1 156.0h1v1h-1zM438.4 159.3h1v1h-1zM457.9 156.6h1v1h-1zM449.0 147.6h1v1h-1zM451.9 161.1h1v1h-1zM450.4 159.0h1v1h-1zM451.9 157.6h1v1h-1zM457.3 157.7h1v1h-1zM453.9 147.5h1v1h-1zM443.0 146.3h1v1h-1zM452.0 160.4h1v1h-1zM451.8 157.9h1v1h-1zM454.8 152.9h1v1h-1zM452.7 156.3h1v1h-1zM451.9 157.1h1v1h-1zM459.1 161.4h1v1h-1z" fill="#000" fill-opacity="0.78"/>
<path d="M252 32.6H296.5M433.5 162.8H466" stroke="#000" stroke-width="1.4"/><path d="M94 32.8H140" stroke="#000" stroke-width="1" stroke-dasharray="1 2" opacity="0.6"/>
<g fill="none" stroke="#111" stroke-width="1">
<polygon points="76.8,88 83.5,80.7 90.5,82.4 92.8,88 89,93 82,94.5 77,91"/>
<polygon points="73.7,107.3 80.5,98.6 116.1,88.2 120.2,90.5 124.2,95.2 123.5,105.3 109.4,110 81.8,117.8 78.5,115.4"/>
<polygon points="278.5,61.2 296.6,62.6 298.9,88.6 286.5,104.4 276.4,105.3 262,100.1 260.6,82.8 267.8,74.2"/>
<polygon points="251,120 270.5,119.8 278.7,130.4 276.5,140 266.4,147 247.5,144 245.2,128"/>
<rect x="423.8" y="62" width="53" height="34.5"/>
<rect x="423.3" y="126.6" width="52.5" height="36.9"/>
</g>
<path d="M21.9 162V39.8" stroke="#000" stroke-width="1.8"/><path d="M17.4 41.3L21.9 32.8L26.4 41.3Z" fill="#000"/>
<path d="M194.3 162V39.5" stroke="#000" stroke-width="1.8"/><path d="M189.8 41.0L194.3 32.5L198.8 41.0Z" fill="#000"/>
<path d="M367.2 162V39.5" stroke="#000" stroke-width="1.8"/><path d="M362.7 41.0L367.2 32.5L371.7 41.0Z" fill="#000"/>
<path d="M30.8 171.7H509.29999999999995" stroke="#000" stroke-width="1.8"/><path d="M507.79999999999995 167.2L516.3 171.7L507.79999999999995 176.2Z" fill="#000"/>
<polygon points="49,333.7 53,333 56.3,325 61.2,300 65,279.5 65.5,278.7 66,279.5 69.2,300 75.2,325 78,330 80.8,331.8 83,331 85,332.3 87,331.5 89,332.6 91,331.8 93,332.8 96,332.2 99,333.1 102,333.7" fill="#555" stroke="#333" stroke-width="0.7"/>
<polygon points="30.5,333.7 32.3,330 34,320 35.2,300 35,278 35.2,260 36.2,245 36.7,230 37.6,212 38,209.8 38.4,212 39.3,230 40.8,245 41.2,260 41.9,278 42.9,300 44.4,320 46.2,330 48.5,333.7" fill="#c4c4c4" stroke="#555" stroke-width="0.9"/>
<rect x="29.5" y="202.7" width="141.8" height="131.5" fill="none" stroke="#333" stroke-width="1.3"/>
<path d="M38.5 298.5H65.5M38.5 282V315M65.5 282V315" stroke="#111" stroke-width="1" fill="none"/>
<polygon points="222,333.7 224,333.2 226.8,330 228.8,320 231.2,300 232.9,280 234.7,269.5 235.2,268.7 235.7,269.5 238,280 240.4,300 243.6,320 247.3,330 252,333.2 258,333.7" fill="#555" stroke="#333" stroke-width="0.7"/>
<polygon points="203,333.7 204.8,330 206,320 207.2,300 207.5,275 208.2,260 209,240 209.8,220 210.7,205 211.1,203.5 211.6,205 212.8,220 213.4,240 214.2,260 215,275 215.6,300 217,320 218.5,330 221,333.7" fill="#c4c4c4" stroke="#555" stroke-width="0.9"/>
<rect x="202.4" y="202.8" width="142.1" height="131.39999999999998" fill="none" stroke="#333" stroke-width="1.3"/>
<path d="M211.5 298.5H235.5M211.5 282.5V315.5M235.5 282.5V315.5" stroke="#111" stroke-width="1" fill="none"/>
<polygon points="388,333.7 391,332.8 393,330.5 395,332.6 398,332.2 402,331.6 406,332 410,331.5 414,331.9 418,332.4 422,332 426,332.6 429,332.8 431,333.2 434.4,330 438.5,320 441.7,300 443.5,290 445.2,282.1 446.5,285 448.8,287.3 449.5,292 450.9,296.5 451.7,300 455.2,320 459.2,330 463,333 470,332.8 476,333.3 485,333.7" fill="#555" stroke="#333" stroke-width="0.7"/>
<polygon points="376.5,333.7 376.5,203.5 377.5,203.5 378,240 378.6,272 379.9,300.5 381,310 382.6,316.7 384.5,321.5 387,325.6 390,329.5 393.3,333 395,333.7" fill="#c4c4c4" stroke="#555" stroke-width="0.9"/>
<rect x="375.5" y="202.8" width="140.79999999999995" height="131.09999999999997" fill="none" stroke="#333" stroke-width="1.3"/>
<path d="M377.5 298.5H445.5M377.5 281V315.5M445.5 281V315.5" stroke="#111" stroke-width="1" fill="none"/>
<path d="M21.3 333.5V210.5" stroke="#000" stroke-width="1.8"/><path d="M16.8 212.0L21.3 203.5L25.8 212.0Z" fill="#000"/>
<path d="M33.2 342.8H511.79999999999995" stroke="#000" stroke-width="1.8"/><path d="M510.29999999999995 338.3L518.8 342.8L510.29999999999995 347.3Z" fill="#000"/>
<path d="M80 395H490.6V715.5H80Z" fill="none" stroke="#000" stroke-width="2"/>
<path d="M73 715.8H80" stroke="#000" stroke-width="1.8"/>
<path d="M73 670.0H80" stroke="#000" stroke-width="1.8"/>
<path d="M73 624.2H80" stroke="#000" stroke-width="1.8"/>
<path d="M73 578.5H80" stroke="#000" stroke-width="1.8"/>
<path d="M73 532.8H80" stroke="#000" stroke-width="1.8"/>
<path d="M73 487.0H80" stroke="#000" stroke-width="1.8"/>
<path d="M73 441.2H80" stroke="#000" stroke-width="1.8"/>
<path d="M73 395.5H80" stroke="#000" stroke-width="1.8"/>
<path d="M161.5 414.8l3.9 3.9l-3.9 3.9l-3.9 -3.9zM150.4 444.2l3.9 3.9l-3.9 3.9l-3.9 -3.9zM161.5 453.4l3.9 3.9l-3.9 3.9l-3.9 -3.9zM172.5 453.4l3.9 3.9l-3.9 3.9l-3.9 -3.9zM172.5 463.4l3.9 3.9l-3.9 3.9l-3.9 -3.9zM150.4 473.4l3.9 3.9l-3.9 3.9l-3.9 -3.9zM161.5 474.0l3.9 3.9l-3.9 3.9l-3.9 -3.9zM150.4 478.9l3.9 3.9l-3.9 3.9l-3.9 -3.9zM161.5 485.7l3.9 3.9l-3.9 3.9l-3.9 -3.9zM172.5 485.4l3.9 3.9l-3.9 3.9l-3.9 -3.9zM150.4 492.7l3.9 3.9l-3.9 3.9l-3.9 -3.9zM161.5 500.1l3.9 3.9l-3.9 3.9l-3.9 -3.9zM150.4 503.0l3.9 3.9l-3.9 3.9l-3.9 -3.9zM161.5 512.6l3.9 3.9l-3.9 3.9l-3.9 -3.9zM172.5 511.7l3.9 3.9l-3.9 3.9l-3.9 -3.9zM139.2 516.9l3.9 3.9l-3.9 3.9l-3.9 -3.9zM150.4 519.4l3.9 3.9l-3.9 3.9l-3.9 -3.9zM172.5 518.0l3.9 3.9l-3.9 3.9l-3.9 -3.9zM161.5 525.7l3.9 3.9l-3.9 3.9l-3.9 -3.9zM161.5 538.0l3.9 3.9l-3.9 3.9l-3.9 -3.9zM161.5 554.9l3.9 3.9l-3.9 3.9l-3.9 -3.9zM161.5 576.5l3.9 3.9l-3.9 3.9l-3.9 -3.9z" fill="#000"/>
<path d="M120.6 499.5H202.6" stroke="#000" stroke-width="2"/>
<path d="M288.8 429.7L403.7 447.3M288.8 441.8L403.7 492.5M299.8 466.5L403.7 472.5M288.8 472.6L403.7 515.5M288.7 514.7L414.8 556.5M299.8 537.0L403.7 541.9M288.7 547.2L403.7 530.0M288.7 559.8L403.7 559.0M288.6 579.3L414.9 590.5M299.7 590.8L392.9 574.2M277.8 594.1L403.7 599.8M288.6 602.4L403.7 586.3M299.7 606.7L414.9 632.5M288.6 618.3L392.9 636.5" stroke="#3a3a3a" stroke-width="1.1" stroke-dasharray="3.5 2.2" fill="none"/>
<path d="M284.8 424.1L288.4 431.3L281.2 431.3ZM284.8 436.2L288.4 443.4L281.2 443.4ZM295.8 460.9L299.4 468.1L292.2 468.1ZM284.8 467.0L288.4 474.2L281.2 474.2ZM284.7 509.1L288.3 516.3L281.1 516.3ZM295.8 531.4L299.4 538.6L292.2 538.6ZM284.7 541.6L288.3 548.8L281.1 548.8ZM284.7 554.2L288.3 561.4L281.1 561.4ZM284.6 573.7L288.2 580.9L281.0 580.9ZM295.7 585.2L299.3 592.4L292.1 592.4ZM273.8 588.5L277.4 595.7L270.2 595.7ZM284.6 596.8L288.2 604.0L281.0 604.0ZM295.7 601.1L299.3 608.3L292.1 608.3ZM284.6 612.7L288.2 619.9L281.0 619.9ZM407.7 453.4L411.3 446.2L404.1 446.2ZM407.7 478.6L411.3 471.4L404.1 471.4ZM407.7 498.6L411.3 491.4L404.1 491.4ZM407.7 521.6L411.3 514.4L404.1 514.4ZM407.7 536.1L411.3 528.9L404.1 528.9ZM407.7 548.0L411.3 540.8L404.1 540.8ZM418.8 562.6L422.4 555.4L415.2 555.4ZM407.7 565.1L411.3 557.9L404.1 557.9ZM396.9 580.3L400.5 573.1L393.3 573.1ZM407.7 592.4L411.3 585.2L404.1 585.2ZM418.9 596.6L422.5 589.4L415.3 589.4ZM407.7 605.9L411.3 598.7L404.1 598.7ZM418.9 638.6L422.5 631.4L415.3 631.4ZM396.9 642.6L400.5 635.4L393.3 635.4ZM407.7 642.6L411.3 635.4L404.1 635.4ZM407.7 656.4L411.3 649.2L404.1 649.2Z" fill="#fff" stroke="#000" stroke-width="1.6" stroke-linejoin="miter"/>
<path d="M244 538.1H325.3" stroke="#000" stroke-width="2"/>
<path d="M366.9 566.5H448.8" stroke="#000" stroke-width="2"/>
<path d="M283.2 419.4V415.4H409V419.4" stroke="#444" stroke-width="1.2" fill="none"/>
<path d="M158.3 667.5V670.1H282.5V667.5" stroke="#444" stroke-width="1.2" fill="none"/>
<path d="M158.3 686.5V691.4H409.6V687.7" stroke="#444" stroke-width="1.2" fill="none"/>
<path d="M119 756.5H205M245 756.5H450" stroke="#000" stroke-width="2"/>
<text x="1.8" y="19.86" font-size="25.88" font-weight="bold" textLength="19.26" lengthAdjust="spacingAndGlyphs" font-family="Liberation Sans, sans-serif" stroke="#000" stroke-width="0.4">A</text>
<text x="48.25" y="80.9" font-size="13.6" font-weight="bold" textLength="15.6" lengthAdjust="spacingAndGlyphs" font-family="Liberation Sans, sans-serif" stroke="#000" stroke-width="0.4">R1</text>
<text x="122.37" y="121.8" font-size="13.6" font-weight="bold" textLength="16.94" lengthAdjust="spacingAndGlyphs" font-family="Liberation Sans, sans-serif" stroke="#000" stroke-width="0.4">R2</text>
<text x="218.18" y="90.0" font-size="13.6" font-weight="bold" textLength="16.73" lengthAdjust="spacingAndGlyphs" font-family="Liberation Sans, sans-serif" stroke="#000" stroke-width="0.4">R4</text>
<text x="221.05" y="139.76" font-size="13.6" font-weight="bold" textLength="17.37" lengthAdjust="spacingAndGlyphs" font-family="Liberation Sans, sans-serif" stroke="#000" stroke-width="0.4">R3</text>
<text x="394.07" y="88.26" font-size="13.6" font-weight="bold" textLength="17.01" lengthAdjust="spacingAndGlyphs" font-family="Liberation Sans, sans-serif" stroke="#000" stroke-width="0.4">R5</text>
<text x="394.04" y="140.66" font-size="13.6" font-weight="bold" textLength="17.59" lengthAdjust="spacingAndGlyphs" font-family="Liberation Sans, sans-serif" stroke="#000" stroke-width="0.4">R6</text>
<text x="152.7" y="49.6" font-size="19.9" font-weight="bold" textLength="5.96" lengthAdjust="spacingAndGlyphs" font-family="Liberation Sans, sans-serif" stroke="#000" stroke-width="0.4">i</text>
<text x="322.38" y="50.2" font-size="19.9" font-weight="bold" textLength="12.06" lengthAdjust="spacingAndGlyphs" font-family="Liberation Sans, sans-serif" stroke="#000" stroke-width="0.4">ii</text>
<text x="494.54" y="50.5" font-size="19.9" font-weight="bold" textLength="17.4" lengthAdjust="spacingAndGlyphs" font-family="Liberation Sans, sans-serif" stroke="#000" stroke-width="0.4">iii</text>
<text x="226.97" y="185.62" font-size="12.91" font-weight="bold" textLength="101.0" lengthAdjust="spacingAndGlyphs" font-family="Liberation Sans, sans-serif" stroke="#000" stroke-width="0.4">Forward Scatter</text>
<text x="146.66" y="220.6" font-size="19.9" font-weight="bold" textLength="17.12" lengthAdjust="spacingAndGlyphs" font-family="Liberation Sans, sans-serif" stroke="#000" stroke-width="0.4">iv</text>
<text x="323.1" y="216.6" font-size="19.9" font-weight="bold" textLength="10.92" lengthAdjust="spacingAndGlyphs" font-family="Liberation Sans, sans-serif" stroke="#000" stroke-width="0.4">v</text>
<text x="492.69" y="220.8" font-size="19.9" font-weight="bold" textLength="17.35" lengthAdjust="spacingAndGlyphs" font-family="Liberation Sans, sans-serif" stroke="#000" stroke-width="0.4">vi</text>
<text x="103.62" y="291.62" font-size="12.68" font-weight="bold" textLength="58.72" lengthAdjust="spacingAndGlyphs" font-family="Liberation Sans, sans-serif" stroke="#000" stroke-width="0.4">TFU = 9.3</text>
<text x="267.1" y="291.6" font-size="14.79" font-weight="bold" textLength="68.62" lengthAdjust="spacingAndGlyphs" font-family="Liberation Sans, sans-serif" stroke="#000" stroke-width="0.4">TFU = 8.8</text>
<text x="177.07" y="358.46" font-size="13.51" font-weight="bold" textLength="191.78" lengthAdjust="spacingAndGlyphs" font-family="Liberation Sans, sans-serif" stroke="#000" stroke-width="0.4">Telomere-Fluorescence (FITC)</text>
<text x="0.91" y="404.9" font-size="25.65" font-weight="bold" textLength="17.4" lengthAdjust="spacingAndGlyphs" font-family="Liberation Sans, sans-serif" stroke="#000" stroke-width="0.4">B</text>
<text x="42.1" y="398.62" font-size="17.5" font-weight="normal" textLength="19.44" lengthAdjust="spacingAndGlyphs" font-family="Liberation Sans, sans-serif">10</text>
<text x="51.74" y="445.62" font-size="17.5" font-weight="normal" textLength="10.64" lengthAdjust="spacingAndGlyphs" font-family="Liberation Sans, sans-serif">9</text>
<text x="51.98" y="490.82" font-size="17.5" font-weight="normal" textLength="10.06" lengthAdjust="spacingAndGlyphs" font-family="Liberation Sans, sans-serif">8</text>
<text x="51.81" y="536.97" font-size="17.5" font-weight="normal" textLength="9.92" lengthAdjust="spacingAndGlyphs" font-family="Liberation Sans, sans-serif">7</text>
<text x="51.99" y="582.33" font-size="17.5" font-weight="normal" textLength="10.16" lengthAdjust="spacingAndGlyphs" font-family="Liberation Sans, sans-serif">6</text>
<text x="52.4" y="628.53" font-size="17.5" font-weight="normal" textLength="9.7" lengthAdjust="spacingAndGlyphs" font-family="Liberation Sans, sans-serif">5</text>
<text x="328.98" y="409.58" font-size="11.69" font-weight="bold" textLength="34.81" lengthAdjust="spacingAndGlyphs" font-family="Liberation Sans, sans-serif" stroke="#000" stroke-width="0.4"><tspan font-style='italic'>P</tspan> = .01</text>
<text x="207.57" y="682.89" font-size="10.99" font-weight="bold" textLength="36.04" lengthAdjust="spacingAndGlyphs" font-family="Liberation Sans, sans-serif" stroke="#000" stroke-width="0.4"><tspan font-style='italic'>P</tspan> = .03</text>
<text x="263.58" y="702.29" font-size="10.85" font-weight="bold" textLength="41.68" lengthAdjust="spacingAndGlyphs" font-family="Liberation Sans, sans-serif" stroke="#000" stroke-width="0.4"><tspan font-style='italic'>P</tspan> &lt; .001</text>
<text x="264.44" y="743.82" font-size="12.77" font-weight="bold" textLength="41.29" lengthAdjust="spacingAndGlyphs" font-family="Liberation Sans, sans-serif" stroke="#000" stroke-width="0.4">GPI(+)</text>
<text x="394.96" y="743.32" font-size="12.77" font-weight="bold" textLength="36.95" lengthAdjust="spacingAndGlyphs" font-family="Liberation Sans, sans-serif" stroke="#000" stroke-width="0.4">GPI(-)</text>
<text x="148.65" y="777.2" font-size="14.2" font-weight="bold" textLength="19.66" lengthAdjust="spacingAndGlyphs" font-family="Liberation Sans, sans-serif" stroke="#000" stroke-width="0.4">HD</text>
<text x="333.34" y="777.1" font-size="13.77" font-weight="bold" textLength="28.94" lengthAdjust="spacingAndGlyphs" font-family="Liberation Sans, sans-serif" stroke="#000" stroke-width="0.4">PNH</text>
<text transform="translate(11.83,154.24) rotate(-90)" font-size="12.23" font-weight="bold" textLength="66.4" lengthAdjust="spacingAndGlyphs" font-family="Liberation Sans, sans-serif" stroke="#000" stroke-width="0.4">Propidium</text>
<text transform="translate(12.08,80.53) rotate(-90)" font-size="12.3" font-weight="bold" textLength="39.09" lengthAdjust="spacingAndGlyphs" font-family="Liberation Sans, sans-serif" stroke="#000" stroke-width="0.4">Iodide</text>
<text transform="translate(190.67,134.8) rotate(-90)" font-size="13.24" font-weight="bold" textLength="77.17" lengthAdjust="spacingAndGlyphs" font-family="Liberation Sans, sans-serif" stroke="#000" stroke-width="0.4">Side Scatter</text>
<text transform="translate(361.1,151.73) rotate(-90)" font-size="12.87" font-weight="bold" textLength="106.52" lengthAdjust="spacingAndGlyphs" font-family="Liberation Sans, sans-serif" stroke="#000" stroke-width="0.4">Proaerolysin 647</text>
<text transform="translate(11.56,290.53) rotate(-90)" font-size="13.71" font-weight="bold" textLength="43.35" lengthAdjust="spacingAndGlyphs" font-family="Liberation Sans, sans-serif" stroke="#000" stroke-width="0.4">Events</text>
<text transform="translate(39.97,645.84) rotate(-90)" font-size="13.94" font-weight="bold" textLength="153.64" lengthAdjust="spacingAndGlyphs" font-family="Liberation Sans, sans-serif" stroke="#000" stroke-width="0.4">Telomere length in TFU</text>
<text x="61.3" y="674.10" font-size="17.5" text-anchor="end" font-family="Liberation Sans, sans-serif">4</text>
<text x="61.3" y="719.85" font-size="17.5" text-anchor="end" font-family="Liberation Sans, sans-serif">3</text>
</svg>
</body></html>
